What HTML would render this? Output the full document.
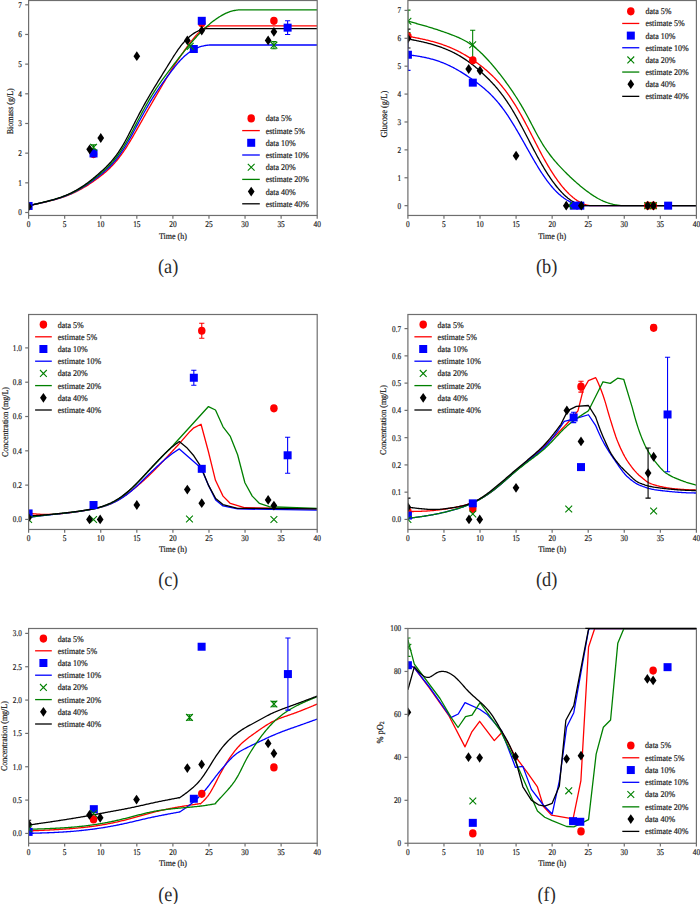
<!DOCTYPE html>
<html><head><meta charset="utf-8"><style>
html,body{margin:0;padding:0;background:#fff;width:700px;height:904px;overflow:hidden}
svg{display:block}
</style></head><body>
<svg width="700" height="904" viewBox="0 0 700 904">
<rect width="700" height="904" fill="#fff"/>
<defs>
<clipPath id="ca"><rect x="28.6" y="0.5" width="288.60" height="214.96"/></clipPath>
<clipPath id="cb"><rect x="407.9" y="0.5" width="288.50" height="214.96"/></clipPath>
<clipPath id="cc"><rect x="28.6" y="314.5" width="288.60" height="214.96"/></clipPath>
<clipPath id="cd"><rect x="407.9" y="314.5" width="288.50" height="214.96"/></clipPath>
<clipPath id="ce"><rect x="28.6" y="628.5" width="288.60" height="214.76"/></clipPath>
<clipPath id="cf"><rect x="407.9" y="628.5" width="288.50" height="214.76"/></clipPath>
</defs>
<path d="M28.60,205.70 L29.40,205.53 L30.20,205.36 L31.00,205.19 L31.80,205.02 L32.60,204.84 L33.40,204.67 L34.20,204.50 L35.00,204.33 L35.80,204.15 L36.60,203.98 L37.40,203.80 L38.20,203.62 L39.00,203.44 L39.80,203.27 L40.60,203.09 L41.40,202.90 L42.20,202.72 L43.00,202.54 L43.80,202.35 L44.60,202.17 L45.40,201.98 L46.20,201.79 L47.00,201.60 L47.80,201.40 L48.60,201.21 L49.40,201.01 L50.20,200.81 L51.00,200.61 L51.80,200.40 L52.60,200.20 L53.40,199.98 L54.20,199.77 L55.00,199.55 L55.80,199.33 L56.60,199.10 L57.40,198.87 L58.20,198.64 L59.00,198.40 L59.80,198.15 L60.60,197.90 L61.40,197.64 L62.20,197.38 L63.00,197.11 L63.80,196.84 L64.60,196.56 L65.40,196.27 L66.20,195.97 L67.00,195.67 L67.80,195.36 L68.60,195.05 L69.40,194.72 L70.20,194.39 L71.00,194.05 L71.80,193.70 L72.60,193.34 L73.40,192.98 L74.20,192.61 L75.00,192.23 L75.80,191.84 L76.60,191.44 L77.40,191.04 L78.20,190.63 L79.00,190.21 L79.80,189.78 L80.60,189.35 L81.40,188.91 L82.20,188.46 L83.00,188.00 L83.80,187.54 L84.60,187.06 L85.40,186.58 L86.20,186.10 L87.00,185.60 L87.80,185.10 L88.60,184.59 L89.40,184.07 L90.20,183.54 L91.00,183.01 L91.80,182.47 L92.60,181.92 L93.40,181.37 L94.20,180.81 L95.00,180.24 L95.80,179.67 L96.60,179.09 L97.40,178.50 L98.20,177.91 L99.00,177.31 L99.80,176.70 L100.60,176.08 L101.40,175.45 L102.20,174.81 L103.00,174.16 L103.80,173.50 L104.60,172.83 L105.40,172.14 L106.20,171.44 L107.00,170.72 L107.80,169.99 L108.60,169.24 L109.40,168.47 L110.20,167.69 L111.00,166.89 L111.80,166.07 L112.60,165.23 L113.40,164.37 L114.20,163.49 L115.00,162.59 L115.80,161.67 L116.60,160.72 L117.40,159.75 L118.20,158.76 L119.00,157.75 L119.80,156.71 L120.60,155.65 L121.40,154.56 L122.20,153.46 L123.00,152.32 L123.80,151.17 L124.60,149.99 L125.40,148.78 L126.20,147.56 L127.00,146.31 L127.80,145.03 L128.60,143.74 L129.40,142.43 L130.20,141.11 L131.00,139.77 L131.80,138.41 L132.60,137.05 L133.40,135.67 L134.20,134.29 L135.00,132.89 L135.80,131.49 L136.60,130.09 L137.40,128.68 L138.20,127.26 L139.00,125.84 L139.80,124.42 L140.60,123.00 L141.40,121.57 L142.20,120.15 L143.00,118.72 L143.80,117.29 L144.60,115.87 L145.40,114.45 L146.20,113.03 L147.00,111.61 L147.80,110.19 L148.60,108.78 L149.40,107.38 L150.20,105.98 L151.00,104.59 L151.80,103.20 L152.60,101.82 L153.40,100.44 L154.20,99.07 L155.00,97.70 L155.80,96.33 L156.60,94.96 L157.40,93.60 L158.20,92.23 L159.00,90.87 L159.80,89.51 L160.60,88.14 L161.40,86.77 L162.20,85.41 L163.00,84.04 L163.80,82.68 L164.60,81.32 L165.40,79.97 L166.20,78.62 L167.00,77.28 L167.80,75.95 L168.60,74.62 L169.40,73.30 L170.20,72.00 L171.00,70.70 L171.80,69.42 L172.60,68.15 L173.40,66.88 L174.20,65.63 L175.00,64.39 L175.80,63.16 L176.60,61.94 L177.40,60.73 L178.20,59.53 L179.00,58.33 L179.80,57.15 L180.60,55.98 L181.40,54.81 L182.20,53.66 L183.00,52.51 L183.80,51.37 L184.60,50.25 L185.40,49.13 L186.20,48.02 L187.00,46.93 L187.80,45.84 L188.60,44.76 L189.40,43.70 L190.20,42.64 L191.00,41.60 L191.80,40.57 L192.60,39.56 L193.40,38.57 L194.20,37.60 L195.00,36.66 L195.80,35.74 L196.60,34.86 L197.40,34.00 L198.20,33.18 L199.00,32.40 L199.80,31.66 L200.60,30.96 L201.40,30.30 L202.20,29.68 L203.00,29.11 L203.80,28.59 L204.60,28.11 L205.40,27.67 L206.20,27.28 L207.00,26.94 L207.80,26.64 L208.60,26.37 L209.40,26.14 L210.20,25.95 L211.00,25.87 L211.80,25.87 L212.60,25.87 L213.40,25.87 L214.20,25.87 L215.00,25.87 L215.80,25.87 L216.60,25.87 L217.40,25.87 L218.20,25.87 L219.00,25.87 L219.80,25.87 L317.20,25.87" fill="none" stroke="#ff0000" stroke-width="1.3" stroke-linejoin="round" clip-path="url(#ca)"/>
<path d="M28.60,205.70 L29.43,205.52 L30.26,205.34 L31.09,205.15 L31.92,204.97 L32.75,204.78 L33.58,204.60 L34.41,204.41 L35.24,204.22 L36.07,204.04 L36.90,203.85 L37.73,203.66 L38.56,203.47 L39.39,203.28 L40.22,203.09 L41.05,202.90 L41.88,202.70 L42.71,202.51 L43.54,202.31 L44.37,202.11 L45.20,201.91 L46.03,201.71 L46.86,201.51 L47.69,201.30 L48.52,201.10 L49.35,200.89 L50.18,200.67 L51.01,200.46 L51.84,200.24 L52.68,200.02 L53.51,199.80 L54.34,199.57 L55.17,199.34 L56.00,199.10 L56.83,198.86 L57.66,198.61 L58.49,198.36 L59.32,198.10 L60.15,197.83 L60.98,197.56 L61.81,197.28 L62.64,197.00 L63.47,196.70 L64.30,196.40 L65.13,196.10 L65.96,195.78 L66.79,195.45 L67.62,195.12 L68.45,194.77 L69.28,194.42 L70.11,194.06 L70.94,193.68 L71.77,193.30 L72.60,192.91 L73.43,192.51 L74.26,192.10 L75.09,191.68 L75.92,191.25 L76.75,190.82 L77.58,190.37 L78.41,189.92 L79.24,189.45 L80.07,188.98 L80.90,188.50 L81.73,188.01 L82.56,187.51 L83.39,187.00 L84.22,186.48 L85.05,185.96 L85.88,185.43 L86.71,184.88 L87.54,184.33 L88.37,183.77 L89.20,183.21 L90.03,182.63 L90.86,182.05 L91.69,181.46 L92.52,180.87 L93.35,180.26 L94.18,179.66 L95.01,179.04 L95.84,178.43 L96.67,177.80 L97.50,177.18 L98.33,176.54 L99.17,175.90 L100.00,175.25 L100.83,174.59 L101.66,173.92 L102.49,173.23 L103.32,172.54 L104.15,171.83 L104.98,171.11 L105.81,170.37 L106.64,169.62 L107.47,168.85 L108.30,168.06 L109.13,167.25 L109.96,166.42 L110.79,165.57 L111.62,164.70 L112.45,163.80 L113.28,162.88 L114.11,161.94 L114.94,160.97 L115.77,159.97 L116.60,158.95 L117.43,157.90 L118.26,156.82 L119.09,155.71 L119.92,154.57 L120.75,153.40 L121.58,152.21 L122.41,150.98 L123.24,149.72 L124.07,148.44 L124.90,147.12 L125.73,145.77 L126.56,144.39 L127.39,142.98 L128.22,141.54 L129.05,140.09 L129.88,138.62 L130.71,137.13 L131.54,135.62 L132.37,134.10 L133.20,132.58 L134.03,131.04 L134.86,129.50 L135.69,127.96 L136.52,126.42 L137.35,124.88 L138.18,123.34 L139.01,121.81 L139.84,120.28 L140.67,118.75 L141.50,117.23 L142.33,115.71 L143.16,114.20 L143.99,112.71 L144.82,111.22 L145.66,109.75 L146.49,108.29 L147.32,106.84 L148.15,105.41 L148.98,103.99 L149.81,102.59 L150.64,101.21 L151.47,99.85 L152.30,98.51 L153.13,97.18 L153.96,95.87 L154.79,94.58 L155.62,93.30 L156.45,92.04 L157.28,90.79 L158.11,89.56 L158.94,88.34 L159.77,87.13 L160.60,85.94 L161.43,84.76 L162.26,83.58 L163.09,82.42 L163.92,81.27 L164.75,80.13 L165.58,78.99 L166.41,77.86 L167.24,76.74 L168.07,75.63 L168.90,74.52 L169.73,73.42 L170.56,72.32 L171.39,71.23 L172.22,70.14 L173.05,69.06 L173.88,68.00 L174.71,66.95 L175.54,65.91 L176.37,64.89 L177.20,63.90 L178.03,62.92 L178.86,61.97 L179.69,61.04 L180.52,60.15 L181.35,59.28 L182.18,58.44 L183.01,57.62 L183.84,56.84 L184.67,56.08 L185.50,55.35 L186.33,54.65 L187.16,53.98 L187.99,53.33 L188.82,52.71 L189.65,52.11 L190.48,51.54 L191.31,51.00 L192.15,50.49 L192.98,49.99 L193.81,49.53 L194.64,49.09 L195.47,48.67 L196.30,48.28 L197.13,47.91 L197.96,47.57 L198.79,47.25 L199.62,46.96 L200.45,46.69 L201.28,46.44 L202.11,46.21 L202.94,46.01 L203.77,45.82 L204.60,45.65 L205.43,45.50 L206.26,45.37 L207.09,45.26 L207.92,45.15 L208.75,45.07 L209.58,45.00 L210.41,45.00 L211.24,45.00 L212.07,45.00 L212.90,45.00 L213.73,45.00 L214.56,45.00 L215.39,45.00 L216.22,45.00 L217.05,45.00 L217.88,45.00 L218.71,45.00 L219.54,45.00 L220.37,45.00 L221.20,45.00 L222.03,45.00 L222.86,45.00 L223.69,45.00 L224.52,45.00 L225.35,45.00 L226.18,45.00 L227.01,45.00 L317.20,45.00" fill="none" stroke="#0000ff" stroke-width="1.3" stroke-linejoin="round" clip-path="url(#ca)"/>
<path d="M28.60,205.70 L29.54,205.49 L30.47,205.27 L31.41,205.06 L32.34,204.84 L33.28,204.63 L34.22,204.41 L35.15,204.19 L36.09,203.98 L37.02,203.76 L37.96,203.54 L38.89,203.32 L39.83,203.10 L40.77,202.87 L41.70,202.65 L42.64,202.42 L43.57,202.19 L44.51,201.96 L45.45,201.73 L46.38,201.50 L47.32,201.26 L48.25,201.02 L49.19,200.78 L50.12,200.54 L51.06,200.29 L52.00,200.04 L52.93,199.78 L53.87,199.52 L54.80,199.26 L55.74,198.99 L56.68,198.71 L57.61,198.42 L58.55,198.13 L59.48,197.83 L60.42,197.53 L61.35,197.21 L62.29,196.89 L63.23,196.55 L64.16,196.21 L65.10,195.85 L66.03,195.49 L66.97,195.11 L67.91,194.72 L68.84,194.32 L69.78,193.91 L70.71,193.48 L71.65,193.04 L72.58,192.59 L73.52,192.12 L74.46,191.65 L75.39,191.16 L76.33,190.65 L77.26,190.14 L78.20,189.61 L79.14,189.07 L80.07,188.52 L81.01,187.95 L81.94,187.37 L82.88,186.78 L83.81,186.18 L84.75,185.56 L85.69,184.93 L86.62,184.29 L87.56,183.64 L88.49,182.97 L89.43,182.29 L90.37,181.60 L91.30,180.90 L92.24,180.18 L93.17,179.46 L94.11,178.74 L95.04,178.00 L95.98,177.27 L96.92,176.52 L97.85,175.77 L98.79,175.01 L99.72,174.24 L100.66,173.47 L101.60,172.67 L102.53,171.87 L103.47,171.04 L104.40,170.21 L105.34,169.35 L106.27,168.47 L107.21,167.57 L108.15,166.64 L109.08,165.69 L110.02,164.71 L110.95,163.71 L111.89,162.67 L112.83,161.61 L113.76,160.51 L114.70,159.37 L115.63,158.20 L116.57,156.99 L117.50,155.75 L118.44,154.47 L119.38,153.15 L120.31,151.79 L121.25,150.40 L122.18,148.96 L123.12,147.49 L124.06,145.98 L124.99,144.44 L125.93,142.85 L126.86,141.23 L127.80,139.58 L128.73,137.89 L129.67,136.19 L130.61,134.46 L131.54,132.71 L132.48,130.95 L133.41,129.18 L134.35,127.40 L135.29,125.61 L136.22,123.83 L137.16,122.04 L138.09,120.26 L139.03,118.48 L139.96,116.70 L140.90,114.93 L141.84,113.18 L142.77,111.43 L143.71,109.70 L144.64,107.98 L145.58,106.28 L146.52,104.60 L147.45,102.95 L148.39,101.31 L149.32,99.70 L150.26,98.12 L151.19,96.56 L152.13,95.03 L153.07,93.53 L154.00,92.05 L154.94,90.60 L155.87,89.17 L156.81,87.76 L157.75,86.37 L158.68,85.00 L159.62,83.65 L160.55,82.31 L161.49,80.99 L162.42,79.68 L163.36,78.39 L164.30,77.11 L165.23,75.84 L166.17,74.58 L167.10,73.33 L168.04,72.08 L168.98,70.84 L169.91,69.61 L170.85,68.38 L171.78,67.15 L172.72,65.93 L173.65,64.71 L174.59,63.49 L175.53,62.28 L176.46,61.07 L177.40,59.87 L178.33,58.68 L179.27,57.49 L180.21,56.30 L181.14,55.12 L182.08,53.95 L183.01,52.78 L183.95,51.61 L184.88,50.46 L185.82,49.31 L186.76,48.16 L187.69,47.02 L188.63,45.89 L189.56,44.77 L190.50,43.66 L191.44,42.55 L192.37,41.46 L193.31,40.37 L194.24,39.30 L195.18,38.24 L196.11,37.20 L197.05,36.17 L197.99,35.16 L198.92,34.16 L199.86,33.18 L200.79,32.22 L201.73,31.28 L202.67,30.35 L203.60,29.45 L204.54,28.56 L205.47,27.69 L206.41,26.83 L207.34,26.00 L208.28,25.18 L209.22,24.38 L210.15,23.60 L211.09,22.83 L212.02,22.08 L212.96,21.35 L213.90,20.64 L214.83,19.95 L215.77,19.27 L216.70,18.61 L217.64,17.98 L218.57,17.36 L219.51,16.77 L220.45,16.19 L221.38,15.64 L222.32,15.11 L223.25,14.60 L224.19,14.11 L225.13,13.65 L226.06,13.21 L227.00,12.80 L227.93,12.42 L228.87,12.06 L229.80,11.73 L230.74,11.43 L231.68,11.15 L232.61,10.91 L233.55,10.69 L234.48,10.49 L235.42,10.32 L236.36,10.17 L237.29,10.04 L238.23,9.94 L239.16,9.85 L240.10,9.84 L241.03,9.84 L241.97,9.84 L242.91,9.84 L243.84,9.84 L244.78,9.84 L245.71,9.84 L246.65,9.84 L247.59,9.84 L248.52,9.84 L249.46,9.84 L250.39,9.84 L251.33,9.84 L252.26,9.84 L317.20,9.84" fill="none" stroke="#008000" stroke-width="1.3" stroke-linejoin="round" clip-path="url(#ca)"/>
<path d="M28.60,205.71 L29.40,205.53 L30.20,205.35 L31.00,205.16 L31.80,204.98 L32.60,204.80 L33.40,204.62 L34.20,204.43 L35.00,204.25 L35.80,204.06 L36.60,203.88 L37.40,203.69 L38.20,203.50 L39.00,203.31 L39.80,203.12 L40.60,202.93 L41.40,202.74 L42.20,202.54 L43.00,202.35 L43.80,202.15 L44.60,201.95 L45.40,201.75 L46.20,201.54 L47.00,201.34 L47.80,201.13 L48.60,200.92 L49.40,200.71 L50.20,200.49 L51.00,200.27 L51.80,200.05 L52.60,199.83 L53.40,199.60 L54.20,199.36 L55.00,199.13 L55.80,198.88 L56.60,198.64 L57.40,198.38 L58.20,198.13 L59.00,197.86 L59.80,197.59 L60.60,197.32 L61.40,197.03 L62.20,196.74 L63.00,196.44 L63.80,196.14 L64.60,195.82 L65.40,195.50 L66.20,195.17 L67.00,194.83 L67.80,194.49 L68.60,194.13 L69.40,193.76 L70.20,193.39 L71.00,193.00 L71.80,192.61 L72.60,192.20 L73.40,191.79 L74.20,191.36 L75.00,190.93 L75.80,190.49 L76.60,190.03 L77.40,189.57 L78.20,189.10 L79.00,188.62 L79.80,188.12 L80.60,187.62 L81.40,187.11 L82.20,186.59 L83.00,186.06 L83.80,185.51 L84.60,184.96 L85.40,184.40 L86.20,183.83 L87.00,183.25 L87.80,182.65 L88.60,182.05 L89.40,181.44 L90.20,180.82 L91.00,180.19 L91.80,179.55 L92.60,178.90 L93.40,178.24 L94.20,177.58 L95.00,176.91 L95.80,176.24 L96.60,175.56 L97.40,174.87 L98.20,174.18 L99.00,173.48 L99.80,172.78 L100.60,172.07 L101.40,171.36 L102.20,170.63 L103.00,169.90 L103.80,169.16 L104.60,168.40 L105.40,167.63 L106.20,166.85 L107.00,166.06 L107.80,165.25 L108.60,164.42 L109.40,163.57 L110.20,162.70 L111.00,161.81 L111.80,160.89 L112.60,159.95 L113.40,158.98 L114.20,157.99 L115.00,156.96 L115.80,155.91 L116.60,154.82 L117.40,153.70 L118.20,152.55 L119.00,151.37 L119.80,150.16 L120.60,148.91 L121.40,147.63 L122.20,146.32 L123.00,144.98 L123.80,143.61 L124.60,142.20 L125.40,140.76 L126.20,139.29 L127.00,137.79 L127.80,136.27 L128.60,134.73 L129.40,133.17 L130.20,131.60 L131.00,130.02 L131.80,128.43 L132.60,126.84 L133.40,125.26 L134.20,123.68 L135.00,122.11 L135.80,120.55 L136.60,119.00 L137.40,117.47 L138.20,115.94 L139.00,114.42 L139.80,112.92 L140.60,111.42 L141.40,109.94 L142.20,108.46 L143.00,107.00 L143.80,105.55 L144.60,104.11 L145.40,102.68 L146.20,101.27 L147.00,99.86 L147.80,98.46 L148.60,97.08 L149.40,95.71 L150.20,94.35 L151.00,93.00 L151.80,91.66 L152.60,90.33 L153.40,89.01 L154.20,87.70 L155.00,86.39 L155.80,85.09 L156.60,83.79 L157.40,82.50 L158.20,81.21 L159.00,79.92 L159.80,78.63 L160.60,77.34 L161.40,76.04 L162.20,74.75 L163.00,73.45 L163.80,72.16 L164.60,70.87 L165.40,69.57 L166.20,68.28 L167.00,66.98 L167.80,65.69 L168.60,64.40 L169.40,63.11 L170.20,61.82 L171.00,60.53 L171.80,59.25 L172.60,57.98 L173.40,56.72 L174.20,55.47 L175.00,54.23 L175.80,53.01 L176.60,51.81 L177.40,50.64 L178.20,49.49 L179.00,48.37 L179.80,47.27 L180.60,46.22 L181.40,45.19 L182.20,44.20 L183.00,43.24 L183.80,42.31 L184.60,41.42 L185.40,40.55 L186.20,39.72 L187.00,38.93 L187.80,38.16 L188.60,37.42 L189.40,36.72 L190.20,36.05 L191.00,35.41 L191.80,34.80 L192.60,34.21 L193.40,33.66 L194.20,33.14 L195.00,32.65 L195.80,32.19 L196.60,31.76 L197.40,31.35 L198.20,30.98 L199.00,30.63 L199.80,30.31 L200.60,30.02 L201.40,29.75 L202.20,29.52 L203.00,29.30 L203.80,29.11 L204.60,28.94 L205.40,28.80 L206.20,28.67 L207.00,28.56 L207.80,28.54 L208.60,28.54 L209.40,28.54 L210.20,28.54 L211.00,28.54 L211.80,28.54 L212.60,28.54 L213.40,28.54 L214.20,28.54 L215.00,28.54 L215.80,28.54 L216.60,28.54 L217.40,28.54 L218.20,28.54 L219.00,28.54 L219.80,28.54 L317.20,28.54" fill="none" stroke="#000000" stroke-width="1.3" stroke-linejoin="round" clip-path="url(#ca)"/>
<path d="M93.53,144.85V149.60M90.94,144.85H96.13M90.94,149.60H96.13" stroke="#008000" stroke-width="1.1" fill="none" clip-path="url(#ca)"/>
<path d="M273.91,41.59V48.71M271.31,41.59H276.51M271.31,48.71H276.51" stroke="#008000" stroke-width="1.1" fill="none" clip-path="url(#ca)"/>
<path d="M287.62,20.82V34.47M285.02,20.82H290.22M285.02,34.47H290.22" stroke="#0000ff" stroke-width="1.1" fill="none" clip-path="url(#ca)"/>
<ellipse cx="93.53" cy="154.05" rx="3.75" ry="4.1" fill="#ff0000" clip-path="url(#ca)"/>
<ellipse cx="201.76" cy="23.20" rx="3.75" ry="4.1" fill="#ff0000" clip-path="url(#ca)"/>
<ellipse cx="273.91" cy="20.82" rx="3.75" ry="4.1" fill="#ff0000" clip-path="url(#ca)"/>
<rect x="89.53" y="149.45" width="8.0" height="8.0" fill="#0000ff" clip-path="url(#ca)"/>
<rect x="24.60" y="201.97" width="8.0" height="8.0" fill="#0000ff" clip-path="url(#ca)"/>
<rect x="197.76" y="16.82" width="8.0" height="8.0" fill="#0000ff" clip-path="url(#ca)"/>
<rect x="189.82" y="45.01" width="8.0" height="8.0" fill="#0000ff" clip-path="url(#ca)"/>
<rect x="283.62" y="23.65" width="8.0" height="8.0" fill="#0000ff" clip-path="url(#ca)"/>
<path d="M90.13,143.82L96.94,150.62M90.13,150.62L96.94,143.82" stroke="#008000" stroke-width="1.1" fill="none" clip-path="url(#ca)"/>
<path d="M186.82,42.94L193.62,49.74M186.82,49.74L193.62,42.94" stroke="#008000" stroke-width="1.1" fill="none" clip-path="url(#ca)"/>
<path d="M270.51,41.75L277.31,48.55M270.51,48.55L277.31,41.75" stroke="#008000" stroke-width="1.1" fill="none" clip-path="url(#ca)"/>
<path d="M89.64,144.40L92.99,149.30L89.64,154.20L86.29,149.30Z" fill="#000000" clip-path="url(#ca)"/>
<path d="M100.75,133.12L104.10,138.02L100.75,142.92L97.40,138.02Z" fill="#000000" clip-path="url(#ca)"/>
<path d="M136.82,51.23L140.17,56.13L136.82,61.03L133.47,56.13Z" fill="#000000" clip-path="url(#ca)"/>
<path d="M28.60,201.67L31.95,206.57L28.60,211.47L25.25,206.57Z" fill="#000000" clip-path="url(#ca)"/>
<path d="M187.33,35.51L190.68,40.41L187.33,45.31L183.98,40.41Z" fill="#000000" clip-path="url(#ca)"/>
<path d="M201.76,25.71L205.11,30.61L201.76,35.51L198.41,30.61Z" fill="#000000" clip-path="url(#ca)"/>
<path d="M273.91,26.90L277.26,31.80L273.91,36.70L270.56,31.80Z" fill="#000000" clip-path="url(#ca)"/>
<path d="M268.14,35.51L271.49,40.41L268.14,45.31L264.79,40.41Z" fill="#000000" clip-path="url(#ca)"/>
<ellipse cx="251.20" cy="118.40" rx="3.75" ry="4.1" fill="#ff0000"/>
<text text-rendering="geometricPrecision" transform="translate(265.70,121.30) scale(1.0,1.1)" text-anchor="start" font-size="8" font-family="Liberation Serif, serif" fill="#1a1a1a" stroke="#1a1a1a" stroke-width="0.18">data 5%</text>
<line x1="242.2" y1="130.60" x2="259.8" y2="130.60" stroke="#ff0000" stroke-width="1.3"/>
<text text-rendering="geometricPrecision" transform="translate(265.70,133.50) scale(1.0,1.1)" text-anchor="start" font-size="8" font-family="Liberation Serif, serif" fill="#1a1a1a" stroke="#1a1a1a" stroke-width="0.18">estimate 5%</text>
<rect x="247.20" y="138.80" width="8.0" height="8.0" fill="#0000ff"/>
<text text-rendering="geometricPrecision" transform="translate(265.70,145.70) scale(1.0,1.1)" text-anchor="start" font-size="8" font-family="Liberation Serif, serif" fill="#1a1a1a" stroke="#1a1a1a" stroke-width="0.18">data 10%</text>
<line x1="242.2" y1="155.00" x2="259.8" y2="155.00" stroke="#0000ff" stroke-width="1.3"/>
<text text-rendering="geometricPrecision" transform="translate(265.70,157.90) scale(1.0,1.1)" text-anchor="start" font-size="8" font-family="Liberation Serif, serif" fill="#1a1a1a" stroke="#1a1a1a" stroke-width="0.18">estimate 10%</text>
<path d="M247.80,163.80L254.60,170.60M247.80,170.60L254.60,163.80" stroke="#008000" stroke-width="1.1" fill="none"/>
<text text-rendering="geometricPrecision" transform="translate(265.70,170.10) scale(1.0,1.1)" text-anchor="start" font-size="8" font-family="Liberation Serif, serif" fill="#1a1a1a" stroke="#1a1a1a" stroke-width="0.18">data 20%</text>
<line x1="242.2" y1="179.40" x2="259.8" y2="179.40" stroke="#008000" stroke-width="1.3"/>
<text text-rendering="geometricPrecision" transform="translate(265.70,182.30) scale(1.0,1.1)" text-anchor="start" font-size="8" font-family="Liberation Serif, serif" fill="#1a1a1a" stroke="#1a1a1a" stroke-width="0.18">estimate 20%</text>
<path d="M251.20,186.70L254.55,191.60L251.20,196.50L247.85,191.60Z" fill="#000000"/>
<text text-rendering="geometricPrecision" transform="translate(265.70,194.50) scale(1.0,1.1)" text-anchor="start" font-size="8" font-family="Liberation Serif, serif" fill="#1a1a1a" stroke="#1a1a1a" stroke-width="0.18">data 40%</text>
<line x1="242.2" y1="203.80" x2="259.8" y2="203.80" stroke="#000000" stroke-width="1.3"/>
<text text-rendering="geometricPrecision" transform="translate(265.70,206.70) scale(1.0,1.1)" text-anchor="start" font-size="8" font-family="Liberation Serif, serif" fill="#1a1a1a" stroke="#1a1a1a" stroke-width="0.18">estimate 40%</text>
<rect x="28.6" y="0.5" width="288.60" height="214.96" fill="none" stroke="#6e6e6e" stroke-width="1.2"/>
<line x1="28.60" y1="215.46" x2="28.60" y2="218.76" stroke="#6e6e6e" stroke-width="1.2"/>
<text text-rendering="geometricPrecision" transform="translate(28.60,227.06) scale(0.92,1.1)" text-anchor="middle" font-size="8" font-family="Liberation Serif, serif" fill="#1a1a1a" stroke="#1a1a1a" stroke-width="0.18">0</text>
<line x1="64.67" y1="215.46" x2="64.67" y2="218.76" stroke="#6e6e6e" stroke-width="1.2"/>
<text text-rendering="geometricPrecision" transform="translate(64.67,227.06) scale(0.92,1.1)" text-anchor="middle" font-size="8" font-family="Liberation Serif, serif" fill="#1a1a1a" stroke="#1a1a1a" stroke-width="0.18">5</text>
<line x1="100.75" y1="215.46" x2="100.75" y2="218.76" stroke="#6e6e6e" stroke-width="1.2"/>
<text text-rendering="geometricPrecision" transform="translate(100.75,227.06) scale(0.92,1.1)" text-anchor="middle" font-size="8" font-family="Liberation Serif, serif" fill="#1a1a1a" stroke="#1a1a1a" stroke-width="0.18">10</text>
<line x1="136.82" y1="215.46" x2="136.82" y2="218.76" stroke="#6e6e6e" stroke-width="1.2"/>
<text text-rendering="geometricPrecision" transform="translate(136.82,227.06) scale(0.92,1.1)" text-anchor="middle" font-size="8" font-family="Liberation Serif, serif" fill="#1a1a1a" stroke="#1a1a1a" stroke-width="0.18">15</text>
<line x1="172.90" y1="215.46" x2="172.90" y2="218.76" stroke="#6e6e6e" stroke-width="1.2"/>
<text text-rendering="geometricPrecision" transform="translate(172.90,227.06) scale(0.92,1.1)" text-anchor="middle" font-size="8" font-family="Liberation Serif, serif" fill="#1a1a1a" stroke="#1a1a1a" stroke-width="0.18">20</text>
<line x1="208.97" y1="215.46" x2="208.97" y2="218.76" stroke="#6e6e6e" stroke-width="1.2"/>
<text text-rendering="geometricPrecision" transform="translate(208.97,227.06) scale(0.92,1.1)" text-anchor="middle" font-size="8" font-family="Liberation Serif, serif" fill="#1a1a1a" stroke="#1a1a1a" stroke-width="0.18">25</text>
<line x1="245.05" y1="215.46" x2="245.05" y2="218.76" stroke="#6e6e6e" stroke-width="1.2"/>
<text text-rendering="geometricPrecision" transform="translate(245.05,227.06) scale(0.92,1.1)" text-anchor="middle" font-size="8" font-family="Liberation Serif, serif" fill="#1a1a1a" stroke="#1a1a1a" stroke-width="0.18">30</text>
<line x1="281.12" y1="215.46" x2="281.12" y2="218.76" stroke="#6e6e6e" stroke-width="1.2"/>
<text text-rendering="geometricPrecision" transform="translate(281.12,227.06) scale(0.92,1.1)" text-anchor="middle" font-size="8" font-family="Liberation Serif, serif" fill="#1a1a1a" stroke="#1a1a1a" stroke-width="0.18">35</text>
<line x1="317.20" y1="215.46" x2="317.20" y2="218.76" stroke="#6e6e6e" stroke-width="1.2"/>
<text text-rendering="geometricPrecision" transform="translate(317.20,227.06) scale(0.92,1.1)" text-anchor="middle" font-size="8" font-family="Liberation Serif, serif" fill="#1a1a1a" stroke="#1a1a1a" stroke-width="0.18">40</text>
<line x1="25.20" y1="212.50" x2="28.6" y2="212.50" stroke="#6e6e6e" stroke-width="1.2"/>
<text text-rendering="geometricPrecision" transform="translate(21.80,215.40) scale(0.9,1.1)" text-anchor="end" font-size="8" font-family="Liberation Serif, serif" fill="#1a1a1a" stroke="#1a1a1a" stroke-width="0.18">0</text>
<line x1="25.20" y1="182.83" x2="28.6" y2="182.83" stroke="#6e6e6e" stroke-width="1.2"/>
<text text-rendering="geometricPrecision" transform="translate(21.80,185.73) scale(0.9,1.1)" text-anchor="end" font-size="8" font-family="Liberation Serif, serif" fill="#1a1a1a" stroke="#1a1a1a" stroke-width="0.18">1</text>
<line x1="25.20" y1="153.16" x2="28.6" y2="153.16" stroke="#6e6e6e" stroke-width="1.2"/>
<text text-rendering="geometricPrecision" transform="translate(21.80,156.06) scale(0.9,1.1)" text-anchor="end" font-size="8" font-family="Liberation Serif, serif" fill="#1a1a1a" stroke="#1a1a1a" stroke-width="0.18">2</text>
<line x1="25.20" y1="123.49" x2="28.6" y2="123.49" stroke="#6e6e6e" stroke-width="1.2"/>
<text text-rendering="geometricPrecision" transform="translate(21.80,126.39) scale(0.9,1.1)" text-anchor="end" font-size="8" font-family="Liberation Serif, serif" fill="#1a1a1a" stroke="#1a1a1a" stroke-width="0.18">3</text>
<line x1="25.20" y1="93.81" x2="28.6" y2="93.81" stroke="#6e6e6e" stroke-width="1.2"/>
<text text-rendering="geometricPrecision" transform="translate(21.80,96.71) scale(0.9,1.1)" text-anchor="end" font-size="8" font-family="Liberation Serif, serif" fill="#1a1a1a" stroke="#1a1a1a" stroke-width="0.18">4</text>
<line x1="25.20" y1="64.14" x2="28.6" y2="64.14" stroke="#6e6e6e" stroke-width="1.2"/>
<text text-rendering="geometricPrecision" transform="translate(21.80,67.04) scale(0.9,1.1)" text-anchor="end" font-size="8" font-family="Liberation Serif, serif" fill="#1a1a1a" stroke="#1a1a1a" stroke-width="0.18">5</text>
<line x1="25.20" y1="34.47" x2="28.6" y2="34.47" stroke="#6e6e6e" stroke-width="1.2"/>
<text text-rendering="geometricPrecision" transform="translate(21.80,37.37) scale(0.9,1.1)" text-anchor="end" font-size="8" font-family="Liberation Serif, serif" fill="#1a1a1a" stroke="#1a1a1a" stroke-width="0.18">6</text>
<line x1="25.20" y1="4.80" x2="28.6" y2="4.80" stroke="#6e6e6e" stroke-width="1.2"/>
<text text-rendering="geometricPrecision" transform="translate(21.80,7.70) scale(0.9,1.1)" text-anchor="end" font-size="8" font-family="Liberation Serif, serif" fill="#1a1a1a" stroke="#1a1a1a" stroke-width="0.18">7</text>
<text text-rendering="geometricPrecision" transform="translate(172.90,238.70) scale(1.0,1.1)" text-anchor="middle" font-size="8" font-family="Liberation Serif, serif" fill="#1a1a1a" stroke="#1a1a1a" stroke-width="0.18">Time (h)</text>
<text text-rendering="geometricPrecision" transform="translate(12.90,111.30) rotate(-90) scale(1.0,1.1)" text-anchor="middle" font-size="8" font-family="Liberation Serif, serif" fill="#1a1a1a" stroke="#1a1a1a" stroke-width="0.18">Biomass (g/L)</text>
<text text-rendering="geometricPrecision" transform="translate(168.15,272.80) scale(1.0,1.1)" text-anchor="middle" font-size="18.3" font-family="Liberation Serif, serif" fill="#2a2a2a">(a)</text>
<path d="M407.90,36.19 L408.71,36.35 L409.53,36.50 L410.34,36.66 L411.16,36.82 L411.97,36.97 L412.79,37.13 L413.60,37.29 L414.42,37.45 L415.23,37.61 L416.05,37.77 L416.86,37.93 L417.68,38.10 L418.49,38.26 L419.31,38.43 L420.12,38.60 L420.94,38.77 L421.75,38.95 L422.57,39.12 L423.38,39.30 L424.20,39.48 L425.01,39.67 L425.83,39.86 L426.64,40.05 L427.46,40.24 L428.27,40.44 L429.08,40.64 L429.90,40.85 L430.71,41.06 L431.53,41.27 L432.34,41.49 L433.16,41.71 L433.97,41.93 L434.79,42.16 L435.60,42.40 L436.42,42.64 L437.23,42.88 L438.05,43.13 L438.86,43.38 L439.68,43.64 L440.49,43.91 L441.31,44.18 L442.12,44.45 L442.94,44.74 L443.75,45.02 L444.57,45.32 L445.38,45.62 L446.20,45.92 L447.01,46.24 L447.83,46.56 L448.64,46.88 L449.45,47.22 L450.27,47.56 L451.08,47.90 L451.90,48.26 L452.71,48.62 L453.53,48.99 L454.34,49.36 L455.16,49.75 L455.97,50.14 L456.79,50.53 L457.60,50.94 L458.42,51.35 L459.23,51.77 L460.05,52.20 L460.86,52.64 L461.68,53.08 L462.49,53.53 L463.31,53.99 L464.12,54.45 L464.94,54.92 L465.75,55.40 L466.57,55.89 L467.38,56.39 L468.20,56.89 L469.01,57.40 L469.82,57.92 L470.64,58.45 L471.45,58.99 L472.27,59.53 L473.08,60.08 L473.90,60.64 L474.71,61.21 L475.53,61.78 L476.34,62.37 L477.16,62.96 L477.97,63.56 L478.79,64.17 L479.60,64.79 L480.42,65.42 L481.23,66.05 L482.05,66.70 L482.86,67.35 L483.68,68.02 L484.49,68.69 L485.31,69.38 L486.12,70.07 L486.94,70.77 L487.75,71.49 L488.57,72.22 L489.38,72.95 L490.19,73.70 L491.01,74.47 L491.82,75.25 L492.64,76.04 L493.45,76.84 L494.27,77.66 L495.08,78.50 L495.90,79.35 L496.71,80.22 L497.53,81.10 L498.34,82.00 L499.16,82.92 L499.97,83.86 L500.79,84.82 L501.60,85.79 L502.42,86.79 L503.23,87.80 L504.05,88.84 L504.86,89.89 L505.68,90.97 L506.49,92.06 L507.31,93.18 L508.12,94.32 L508.94,95.47 L509.75,96.65 L510.56,97.84 L511.38,99.06 L512.19,100.30 L513.01,101.55 L513.82,102.83 L514.64,104.12 L515.45,105.43 L516.27,106.77 L517.08,108.12 L517.90,109.49 L518.71,110.89 L519.53,112.30 L520.34,113.73 L521.16,115.18 L521.97,116.64 L522.79,118.13 L523.60,119.62 L524.42,121.14 L525.23,122.66 L526.05,124.20 L526.86,125.75 L527.68,127.31 L528.49,128.88 L529.31,130.45 L530.12,132.03 L530.93,133.62 L531.75,135.22 L532.56,136.81 L533.38,138.41 L534.19,140.01 L535.01,141.61 L535.82,143.21 L536.64,144.81 L537.45,146.40 L538.27,147.99 L539.08,149.56 L539.90,151.12 L540.71,152.67 L541.53,154.20 L542.34,155.72 L543.16,157.21 L543.97,158.69 L544.79,160.15 L545.60,161.59 L546.42,163.01 L547.23,164.41 L548.05,165.80 L548.86,167.16 L549.68,168.50 L550.49,169.82 L551.31,171.12 L552.12,172.40 L552.93,173.66 L553.75,174.90 L554.56,176.12 L555.38,177.32 L556.19,178.49 L557.01,179.64 L557.82,180.77 L558.64,181.88 L559.45,182.96 L560.27,184.02 L561.08,185.06 L561.90,186.07 L562.71,187.06 L563.53,188.03 L564.34,188.97 L565.16,189.89 L565.97,190.78 L566.79,191.65 L567.60,192.49 L568.42,193.31 L569.23,194.11 L570.05,194.88 L570.86,195.62 L571.68,196.34 L572.49,197.04 L573.30,197.71 L574.12,198.35 L574.93,198.97 L575.75,199.56 L576.56,200.13 L577.38,200.67 L578.19,201.18 L579.01,201.67 L579.82,202.14 L580.64,202.57 L581.45,202.98 L582.27,203.37 L583.08,203.72 L583.90,204.04 L584.71,204.34 L585.53,204.61 L586.34,204.86 L587.16,205.08 L587.97,205.28 L588.79,205.46 L589.60,205.62 L590.42,205.66 L591.23,205.66 L592.05,205.66 L592.86,205.66 L593.67,205.66 L594.49,205.66 L595.30,205.66 L596.12,205.66 L596.93,205.66 L597.75,205.66 L598.56,205.66 L599.38,205.66 L600.19,205.66 L601.01,205.66 L601.82,205.66 L602.64,205.66 L696.40,205.66" fill="none" stroke="#ff0000" stroke-width="1.3" stroke-linejoin="round" clip-path="url(#cb)"/>
<path d="M407.90,54.75 L408.68,54.86 L409.47,54.96 L410.25,55.07 L411.04,55.18 L411.82,55.28 L412.61,55.39 L413.39,55.51 L414.18,55.62 L414.96,55.73 L415.75,55.85 L416.53,55.97 L417.32,56.09 L418.10,56.22 L418.88,56.34 L419.67,56.48 L420.45,56.61 L421.24,56.75 L422.02,56.89 L422.81,57.04 L423.59,57.19 L424.38,57.35 L425.16,57.51 L425.95,57.68 L426.73,57.85 L427.52,58.03 L428.30,58.21 L429.08,58.40 L429.87,58.60 L430.65,58.80 L431.44,59.01 L432.22,59.23 L433.01,59.45 L433.79,59.68 L434.58,59.91 L435.36,60.15 L436.15,60.40 L436.93,60.66 L437.72,60.92 L438.50,61.19 L439.28,61.46 L440.07,61.75 L440.85,62.04 L441.64,62.33 L442.42,62.64 L443.21,62.95 L443.99,63.27 L444.78,63.59 L445.56,63.92 L446.35,64.27 L447.13,64.61 L447.92,64.97 L448.70,65.33 L449.49,65.70 L450.27,66.08 L451.05,66.47 L451.84,66.86 L452.62,67.27 L453.41,67.68 L454.19,68.09 L454.98,68.52 L455.76,68.95 L456.55,69.39 L457.33,69.83 L458.12,70.28 L458.90,70.74 L459.69,71.21 L460.47,71.68 L461.25,72.16 L462.04,72.64 L462.82,73.13 L463.61,73.62 L464.39,74.12 L465.18,74.63 L465.96,75.14 L466.75,75.66 L467.53,76.18 L468.32,76.71 L469.10,77.24 L469.89,77.78 L470.67,78.32 L471.45,78.86 L472.24,79.41 L473.02,79.96 L473.81,80.52 L474.59,81.08 L475.38,81.65 L476.16,82.22 L476.95,82.80 L477.73,83.39 L478.52,83.98 L479.30,84.58 L480.09,85.19 L480.87,85.80 L481.65,86.43 L482.44,87.07 L483.22,87.71 L484.01,88.37 L484.79,89.04 L485.58,89.72 L486.36,90.41 L487.15,91.12 L487.93,91.84 L488.72,92.57 L489.50,93.32 L490.29,94.08 L491.07,94.86 L491.85,95.65 L492.64,96.46 L493.42,97.28 L494.21,98.12 L494.99,98.97 L495.78,99.85 L496.56,100.74 L497.35,101.65 L498.13,102.58 L498.92,103.52 L499.70,104.49 L500.49,105.47 L501.27,106.48 L502.05,107.50 L502.84,108.55 L503.62,109.61 L504.41,110.70 L505.19,111.81 L505.98,112.93 L506.76,114.08 L507.55,115.24 L508.33,116.42 L509.12,117.62 L509.90,118.83 L510.69,120.06 L511.47,121.30 L512.25,122.56 L513.04,123.83 L513.82,125.12 L514.61,126.42 L515.39,127.73 L516.18,129.05 L516.96,130.38 L517.75,131.73 L518.53,133.08 L519.32,134.44 L520.10,135.82 L520.89,137.20 L521.67,138.58 L522.46,139.97 L523.24,141.37 L524.02,142.77 L524.81,144.17 L525.59,145.57 L526.38,146.97 L527.16,148.37 L527.95,149.77 L528.73,151.16 L529.52,152.55 L530.30,153.94 L531.09,155.32 L531.87,156.69 L532.66,158.06 L533.44,159.42 L534.22,160.77 L535.01,162.10 L535.79,163.43 L536.58,164.74 L537.36,166.04 L538.15,167.33 L538.93,168.60 L539.72,169.85 L540.50,171.09 L541.29,172.31 L542.07,173.51 L542.86,174.69 L543.64,175.85 L544.42,176.99 L545.21,178.11 L545.99,179.20 L546.78,180.28 L547.56,181.34 L548.35,182.37 L549.13,183.39 L549.92,184.38 L550.70,185.34 L551.49,186.29 L552.27,187.21 L553.06,188.11 L553.84,188.98 L554.62,189.83 L555.41,190.66 L556.19,191.46 L556.98,192.24 L557.76,192.99 L558.55,193.72 L559.33,194.42 L560.12,195.10 L560.90,195.76 L561.69,196.39 L562.47,197.01 L563.26,197.59 L564.04,198.16 L564.82,198.70 L565.61,199.23 L566.39,199.73 L567.18,200.21 L567.96,200.66 L568.75,201.10 L569.53,201.52 L570.32,201.91 L571.10,202.29 L571.89,202.64 L572.67,202.98 L573.46,203.29 L574.24,203.59 L575.02,203.86 L575.81,204.12 L576.59,204.36 L577.38,204.58 L578.16,204.78 L578.95,204.97 L579.73,205.13 L580.52,205.29 L581.30,205.42 L582.09,205.55 L582.87,205.65 L583.66,205.66 L584.44,205.66 L585.22,205.66 L586.01,205.66 L586.79,205.66 L587.58,205.66 L588.36,205.66 L589.15,205.66 L589.93,205.66 L590.72,205.66 L591.50,205.66 L592.29,205.66 L593.07,205.66 L593.86,205.66 L594.64,205.66 L595.42,205.66 L696.40,205.66" fill="none" stroke="#0000ff" stroke-width="1.3" stroke-linejoin="round" clip-path="url(#cb)"/>
<path d="M407.90,21.19 L408.85,21.45 L409.80,21.70 L410.75,21.96 L411.70,22.21 L412.65,22.47 L413.60,22.73 L414.55,22.99 L415.50,23.24 L416.46,23.50 L417.41,23.77 L418.36,24.03 L419.31,24.29 L420.26,24.56 L421.21,24.82 L422.16,25.09 L423.11,25.36 L424.06,25.64 L425.01,25.91 L425.96,26.19 L426.91,26.47 L427.86,26.75 L428.81,27.04 L429.76,27.33 L430.71,27.62 L431.67,27.91 L432.62,28.21 L433.57,28.51 L434.52,28.81 L435.47,29.12 L436.42,29.42 L437.37,29.74 L438.32,30.05 L439.27,30.37 L440.22,30.69 L441.17,31.01 L442.12,31.34 L443.07,31.67 L444.02,32.00 L444.97,32.33 L445.92,32.67 L446.87,33.01 L447.83,33.36 L448.78,33.71 L449.73,34.06 L450.68,34.41 L451.63,34.77 L452.58,35.13 L453.53,35.50 L454.48,35.88 L455.43,36.26 L456.38,36.65 L457.33,37.05 L458.28,37.46 L459.23,37.89 L460.18,38.32 L461.13,38.77 L462.08,39.24 L463.03,39.72 L463.99,40.21 L464.94,40.73 L465.89,41.26 L466.84,41.81 L467.79,42.39 L468.74,42.98 L469.69,43.60 L470.64,44.24 L471.59,44.91 L472.54,45.60 L473.49,46.32 L474.44,47.06 L475.39,47.83 L476.34,48.62 L477.29,49.43 L478.24,50.27 L479.20,51.13 L480.15,52.01 L481.10,52.91 L482.05,53.83 L483.00,54.77 L483.95,55.73 L484.90,56.70 L485.85,57.70 L486.80,58.71 L487.75,59.73 L488.70,60.78 L489.65,61.84 L490.60,62.91 L491.55,64.00 L492.50,65.11 L493.45,66.23 L494.40,67.37 L495.36,68.51 L496.31,69.68 L497.26,70.85 L498.21,72.04 L499.16,73.25 L500.11,74.46 L501.06,75.69 L502.01,76.93 L502.96,78.18 L503.91,79.44 L504.86,80.72 L505.81,82.01 L506.76,83.31 L507.71,84.62 L508.66,85.96 L509.61,87.30 L510.56,88.67 L511.52,90.05 L512.47,91.44 L513.42,92.86 L514.37,94.30 L515.32,95.75 L516.27,97.23 L517.22,98.72 L518.17,100.24 L519.12,101.78 L520.07,103.35 L521.02,104.94 L521.97,106.55 L522.92,108.19 L523.87,109.85 L524.82,111.55 L525.77,113.26 L526.73,115.01 L527.68,116.78 L528.63,118.56 L529.58,120.36 L530.53,122.17 L531.48,123.98 L532.43,125.79 L533.38,127.60 L534.33,129.40 L535.28,131.19 L536.23,132.97 L537.18,134.72 L538.13,136.44 L539.08,138.14 L540.03,139.80 L540.98,141.43 L541.93,143.01 L542.89,144.55 L543.84,146.05 L544.79,147.51 L545.74,148.93 L546.69,150.31 L547.64,151.66 L548.59,152.97 L549.54,154.26 L550.49,155.51 L551.44,156.73 L552.39,157.92 L553.34,159.09 L554.29,160.23 L555.24,161.35 L556.19,162.45 L557.14,163.53 L558.10,164.59 L559.05,165.63 L560.00,166.65 L560.95,167.66 L561.90,168.66 L562.85,169.65 L563.80,170.62 L564.75,171.59 L565.70,172.54 L566.65,173.49 L567.60,174.42 L568.55,175.34 L569.50,176.26 L570.45,177.16 L571.40,178.06 L572.35,178.94 L573.30,179.81 L574.26,180.67 L575.21,181.53 L576.16,182.37 L577.11,183.20 L578.06,184.02 L579.01,184.83 L579.96,185.63 L580.91,186.42 L581.86,187.20 L582.81,187.96 L583.76,188.72 L584.71,189.47 L585.66,190.21 L586.61,190.93 L587.56,191.64 L588.51,192.34 L589.46,193.03 L590.42,193.70 L591.37,194.36 L592.32,195.00 L593.27,195.62 L594.22,196.23 L595.17,196.82 L596.12,197.40 L597.07,197.95 L598.02,198.49 L598.97,199.00 L599.92,199.50 L600.87,199.98 L601.82,200.43 L602.77,200.87 L603.72,201.28 L604.67,201.68 L605.63,202.06 L606.58,202.42 L607.53,202.75 L608.48,203.07 L609.43,203.37 L610.38,203.66 L611.33,203.92 L612.28,204.16 L613.23,204.39 L614.18,204.59 L615.13,204.78 L616.08,204.95 L617.03,205.10 L617.98,205.24 L618.93,205.36 L619.88,205.47 L620.83,205.56 L621.79,205.65 L622.74,205.66 L623.69,205.66 L624.64,205.66 L625.59,205.66 L626.54,205.66 L627.49,205.66 L628.44,205.66 L629.39,205.66 L630.34,205.66 L631.29,205.66 L632.24,205.66 L633.19,205.66 L634.14,205.66 L635.09,205.66 L696.40,205.66" fill="none" stroke="#008000" stroke-width="1.3" stroke-linejoin="round" clip-path="url(#cb)"/>
<path d="M407.90,38.94 L408.68,39.09 L409.47,39.24 L410.25,39.39 L411.04,39.54 L411.82,39.69 L412.61,39.85 L413.39,40.00 L414.18,40.15 L414.96,40.31 L415.75,40.46 L416.53,40.62 L417.32,40.78 L418.10,40.94 L418.88,41.11 L419.67,41.28 L420.45,41.44 L421.24,41.62 L422.02,41.79 L422.81,41.97 L423.59,42.15 L424.38,42.33 L425.16,42.52 L425.95,42.71 L426.73,42.90 L427.52,43.10 L428.30,43.30 L429.08,43.51 L429.87,43.72 L430.65,43.93 L431.44,44.15 L432.22,44.38 L433.01,44.60 L433.79,44.84 L434.58,45.08 L435.36,45.32 L436.15,45.57 L436.93,45.82 L437.72,46.08 L438.50,46.34 L439.28,46.61 L440.07,46.89 L440.85,47.17 L441.64,47.46 L442.42,47.75 L443.21,48.05 L443.99,48.36 L444.78,48.67 L445.56,48.99 L446.35,49.31 L447.13,49.64 L447.92,49.98 L448.70,50.32 L449.49,50.67 L450.27,51.03 L451.05,51.40 L451.84,51.77 L452.62,52.15 L453.41,52.54 L454.19,52.94 L454.98,53.34 L455.76,53.75 L456.55,54.17 L457.33,54.60 L458.12,55.03 L458.90,55.48 L459.69,55.93 L460.47,56.40 L461.25,56.87 L462.04,57.35 L462.82,57.84 L463.61,58.34 L464.39,58.85 L465.18,59.36 L465.96,59.89 L466.75,60.43 L467.53,60.98 L468.32,61.54 L469.10,62.11 L469.89,62.68 L470.67,63.27 L471.45,63.87 L472.24,64.48 L473.02,65.10 L473.81,65.73 L474.59,66.37 L475.38,67.02 L476.16,67.67 L476.95,68.34 L477.73,69.01 L478.52,69.69 L479.30,70.38 L480.09,71.08 L480.87,71.79 L481.65,72.50 L482.44,73.22 L483.22,73.95 L484.01,74.69 L484.79,75.43 L485.58,76.18 L486.36,76.94 L487.15,77.70 L487.93,78.48 L488.72,79.26 L489.50,80.06 L490.29,80.86 L491.07,81.68 L491.85,82.50 L492.64,83.34 L493.42,84.19 L494.21,85.06 L494.99,85.94 L495.78,86.83 L496.56,87.74 L497.35,88.66 L498.13,89.60 L498.92,90.56 L499.70,91.54 L500.49,92.53 L501.27,93.54 L502.05,94.57 L502.84,95.62 L503.62,96.69 L504.41,97.78 L505.19,98.89 L505.98,100.02 L506.76,101.17 L507.55,102.34 L508.33,103.53 L509.12,104.74 L509.90,105.96 L510.69,107.21 L511.47,108.48 L512.25,109.77 L513.04,111.07 L513.82,112.40 L514.61,113.74 L515.39,115.10 L516.18,116.48 L516.96,117.88 L517.75,119.29 L518.53,120.72 L519.32,122.16 L520.10,123.61 L520.89,125.07 L521.67,126.54 L522.46,128.02 L523.24,129.51 L524.02,131.01 L524.81,132.51 L525.59,134.02 L526.38,135.53 L527.16,137.04 L527.95,138.55 L528.73,140.06 L529.52,141.58 L530.30,143.09 L531.09,144.60 L531.87,146.10 L532.66,147.60 L533.44,149.10 L534.22,150.58 L535.01,152.06 L535.79,153.53 L536.58,154.99 L537.36,156.44 L538.15,157.87 L538.93,159.30 L539.72,160.70 L540.50,162.10 L541.29,163.47 L542.07,164.83 L542.86,166.17 L543.64,167.49 L544.42,168.80 L545.21,170.08 L545.99,171.35 L546.78,172.60 L547.56,173.83 L548.35,175.03 L549.13,176.22 L549.92,177.39 L550.70,178.54 L551.49,179.67 L552.27,180.77 L553.06,181.86 L553.84,182.93 L554.62,183.97 L555.41,184.99 L556.19,185.99 L556.98,186.97 L557.76,187.92 L558.55,188.85 L559.33,189.76 L560.12,190.65 L560.90,191.51 L561.69,192.35 L562.47,193.16 L563.26,193.95 L564.04,194.72 L564.82,195.45 L565.61,196.17 L566.39,196.86 L567.18,197.52 L567.96,198.16 L568.75,198.77 L569.53,199.35 L570.32,199.91 L571.10,200.44 L571.89,200.95 L572.67,201.43 L573.46,201.88 L574.24,202.31 L575.02,202.72 L575.81,203.10 L576.59,203.45 L577.38,203.78 L578.16,204.09 L578.95,204.37 L579.73,204.63 L580.52,204.86 L581.30,205.08 L582.09,205.27 L582.87,205.44 L583.66,205.60 L584.44,205.66 L585.22,205.66 L586.01,205.66 L586.79,205.66 L587.58,205.66 L588.36,205.66 L589.15,205.66 L589.93,205.66 L590.72,205.66 L591.50,205.66 L592.29,205.66 L593.07,205.66 L593.86,205.66 L594.64,205.66 L595.42,205.66 L696.40,205.66" fill="none" stroke="#000000" stroke-width="1.3" stroke-linejoin="round" clip-path="url(#cb)"/>
<path d="M407.90,10.12V32.44M405.30,10.12H410.50M405.30,32.44H410.50" stroke="#008000" stroke-width="1.1" fill="none" clip-path="url(#cb)"/>
<path d="M407.90,39.13V70.37M405.30,39.13H410.50M405.30,70.37H410.50" stroke="#0000ff" stroke-width="1.1" fill="none" clip-path="url(#cb)"/>
<path d="M407.90,29.09V48.06M405.30,29.09H410.50M405.30,48.06H410.50" stroke="#000000" stroke-width="1.1" fill="none" clip-path="url(#cb)"/>
<path d="M472.67,30.20V59.22M470.07,30.20H475.27M470.07,59.22H475.27" stroke="#008000" stroke-width="1.1" fill="none" clip-path="url(#cb)"/>
<ellipse cx="407.90" cy="36.34" rx="3.75" ry="4.1" fill="#ff0000" clip-path="url(#cb)"/>
<ellipse cx="472.81" cy="60.33" rx="3.75" ry="4.1" fill="#ff0000" clip-path="url(#cb)"/>
<ellipse cx="647.72" cy="205.66" rx="3.75" ry="4.1" fill="#ff0000" clip-path="url(#cb)"/>
<ellipse cx="653.41" cy="205.66" rx="3.75" ry="4.1" fill="#ff0000" clip-path="url(#cb)"/>
<rect x="403.90" y="50.75" width="8.0" height="8.0" fill="#0000ff" clip-path="url(#cb)"/>
<rect x="468.81" y="78.65" width="8.0" height="8.0" fill="#0000ff" clip-path="url(#cb)"/>
<rect x="569.79" y="201.66" width="8.0" height="8.0" fill="#0000ff" clip-path="url(#cb)"/>
<rect x="576.28" y="201.66" width="8.0" height="8.0" fill="#0000ff" clip-path="url(#cb)"/>
<rect x="664.13" y="201.66" width="8.0" height="8.0" fill="#0000ff" clip-path="url(#cb)"/>
<path d="M404.50,17.88L411.30,24.68M404.50,24.68L411.30,17.88" stroke="#008000" stroke-width="1.1" fill="none" clip-path="url(#cb)"/>
<path d="M469.27,41.31L476.07,48.11M469.27,48.11L476.07,41.31" stroke="#008000" stroke-width="1.1" fill="none" clip-path="url(#cb)"/>
<path d="M565.34,202.26L572.14,209.06M565.34,209.06L572.14,202.26" stroke="#008000" stroke-width="1.1" fill="none" clip-path="url(#cb)"/>
<path d="M644.32,202.26L651.12,209.06M644.32,209.06L651.12,202.26" stroke="#008000" stroke-width="1.1" fill="none" clip-path="url(#cb)"/>
<path d="M650.01,202.26L656.81,209.06M650.01,209.06L656.81,202.26" stroke="#008000" stroke-width="1.1" fill="none" clip-path="url(#cb)"/>
<path d="M407.90,33.67L411.25,38.57L407.90,43.47L404.55,38.57Z" fill="#000000" clip-path="url(#cb)"/>
<path d="M468.70,64.08L472.05,68.98L468.70,73.88L465.35,68.98Z" fill="#000000" clip-path="url(#cb)"/>
<path d="M480.02,65.75L483.38,70.65L480.02,75.55L476.67,70.65Z" fill="#000000" clip-path="url(#cb)"/>
<path d="M516.09,150.83L519.44,155.73L516.09,160.63L512.74,155.73Z" fill="#000000" clip-path="url(#cb)"/>
<path d="M566.29,200.76L569.64,205.66L566.29,210.56L562.94,205.66Z" fill="#000000" clip-path="url(#cb)"/>
<path d="M581.29,200.76L584.64,205.66L581.29,210.56L577.94,205.66Z" fill="#000000" clip-path="url(#cb)"/>
<path d="M647.72,200.76L651.07,205.66L647.72,210.56L644.37,205.66Z" fill="#000000" clip-path="url(#cb)"/>
<path d="M653.41,200.76L656.76,205.66L653.41,210.56L650.06,205.66Z" fill="#000000" clip-path="url(#cb)"/>
<ellipse cx="630.80" cy="11.30" rx="3.75" ry="4.1" fill="#ff0000"/>
<text text-rendering="geometricPrecision" transform="translate(645.40,14.20) scale(1.0,1.1)" text-anchor="start" font-size="8" font-family="Liberation Serif, serif" fill="#1a1a1a" stroke="#1a1a1a" stroke-width="0.18">data 5%</text>
<line x1="622.2" y1="23.45" x2="639.3" y2="23.45" stroke="#ff0000" stroke-width="1.3"/>
<text text-rendering="geometricPrecision" transform="translate(645.40,26.35) scale(1.0,1.1)" text-anchor="start" font-size="8" font-family="Liberation Serif, serif" fill="#1a1a1a" stroke="#1a1a1a" stroke-width="0.18">estimate 5%</text>
<rect x="626.80" y="31.60" width="8.0" height="8.0" fill="#0000ff"/>
<text text-rendering="geometricPrecision" transform="translate(645.40,38.50) scale(1.0,1.1)" text-anchor="start" font-size="8" font-family="Liberation Serif, serif" fill="#1a1a1a" stroke="#1a1a1a" stroke-width="0.18">data 10%</text>
<line x1="622.2" y1="47.75" x2="639.3" y2="47.75" stroke="#0000ff" stroke-width="1.3"/>
<text text-rendering="geometricPrecision" transform="translate(645.40,50.65) scale(1.0,1.1)" text-anchor="start" font-size="8" font-family="Liberation Serif, serif" fill="#1a1a1a" stroke="#1a1a1a" stroke-width="0.18">estimate 10%</text>
<path d="M627.40,56.50L634.20,63.30M627.40,63.30L634.20,56.50" stroke="#008000" stroke-width="1.1" fill="none"/>
<text text-rendering="geometricPrecision" transform="translate(645.40,62.80) scale(1.0,1.1)" text-anchor="start" font-size="8" font-family="Liberation Serif, serif" fill="#1a1a1a" stroke="#1a1a1a" stroke-width="0.18">data 20%</text>
<line x1="622.2" y1="72.05" x2="639.3" y2="72.05" stroke="#008000" stroke-width="1.3"/>
<text text-rendering="geometricPrecision" transform="translate(645.40,74.95) scale(1.0,1.1)" text-anchor="start" font-size="8" font-family="Liberation Serif, serif" fill="#1a1a1a" stroke="#1a1a1a" stroke-width="0.18">estimate 20%</text>
<path d="M630.80,79.30L634.15,84.20L630.80,89.10L627.45,84.20Z" fill="#000000"/>
<text text-rendering="geometricPrecision" transform="translate(645.40,87.10) scale(1.0,1.1)" text-anchor="start" font-size="8" font-family="Liberation Serif, serif" fill="#1a1a1a" stroke="#1a1a1a" stroke-width="0.18">data 40%</text>
<line x1="622.2" y1="96.35" x2="639.3" y2="96.35" stroke="#000000" stroke-width="1.3"/>
<text text-rendering="geometricPrecision" transform="translate(645.40,99.25) scale(1.0,1.1)" text-anchor="start" font-size="8" font-family="Liberation Serif, serif" fill="#1a1a1a" stroke="#1a1a1a" stroke-width="0.18">estimate 40%</text>
<rect x="407.9" y="0.5" width="288.50" height="214.96" fill="none" stroke="#6e6e6e" stroke-width="1.2"/>
<line x1="407.90" y1="215.46" x2="407.90" y2="218.76" stroke="#6e6e6e" stroke-width="1.2"/>
<text text-rendering="geometricPrecision" transform="translate(407.90,227.06) scale(0.92,1.1)" text-anchor="middle" font-size="8" font-family="Liberation Serif, serif" fill="#1a1a1a" stroke="#1a1a1a" stroke-width="0.18">0</text>
<line x1="443.96" y1="215.46" x2="443.96" y2="218.76" stroke="#6e6e6e" stroke-width="1.2"/>
<text text-rendering="geometricPrecision" transform="translate(443.96,227.06) scale(0.92,1.1)" text-anchor="middle" font-size="8" font-family="Liberation Serif, serif" fill="#1a1a1a" stroke="#1a1a1a" stroke-width="0.18">5</text>
<line x1="480.02" y1="215.46" x2="480.02" y2="218.76" stroke="#6e6e6e" stroke-width="1.2"/>
<text text-rendering="geometricPrecision" transform="translate(480.02,227.06) scale(0.92,1.1)" text-anchor="middle" font-size="8" font-family="Liberation Serif, serif" fill="#1a1a1a" stroke="#1a1a1a" stroke-width="0.18">10</text>
<line x1="516.09" y1="215.46" x2="516.09" y2="218.76" stroke="#6e6e6e" stroke-width="1.2"/>
<text text-rendering="geometricPrecision" transform="translate(516.09,227.06) scale(0.92,1.1)" text-anchor="middle" font-size="8" font-family="Liberation Serif, serif" fill="#1a1a1a" stroke="#1a1a1a" stroke-width="0.18">15</text>
<line x1="552.15" y1="215.46" x2="552.15" y2="218.76" stroke="#6e6e6e" stroke-width="1.2"/>
<text text-rendering="geometricPrecision" transform="translate(552.15,227.06) scale(0.92,1.1)" text-anchor="middle" font-size="8" font-family="Liberation Serif, serif" fill="#1a1a1a" stroke="#1a1a1a" stroke-width="0.18">20</text>
<line x1="588.21" y1="215.46" x2="588.21" y2="218.76" stroke="#6e6e6e" stroke-width="1.2"/>
<text text-rendering="geometricPrecision" transform="translate(588.21,227.06) scale(0.92,1.1)" text-anchor="middle" font-size="8" font-family="Liberation Serif, serif" fill="#1a1a1a" stroke="#1a1a1a" stroke-width="0.18">25</text>
<line x1="624.27" y1="215.46" x2="624.27" y2="218.76" stroke="#6e6e6e" stroke-width="1.2"/>
<text text-rendering="geometricPrecision" transform="translate(624.27,227.06) scale(0.92,1.1)" text-anchor="middle" font-size="8" font-family="Liberation Serif, serif" fill="#1a1a1a" stroke="#1a1a1a" stroke-width="0.18">30</text>
<line x1="660.34" y1="215.46" x2="660.34" y2="218.76" stroke="#6e6e6e" stroke-width="1.2"/>
<text text-rendering="geometricPrecision" transform="translate(660.34,227.06) scale(0.92,1.1)" text-anchor="middle" font-size="8" font-family="Liberation Serif, serif" fill="#1a1a1a" stroke="#1a1a1a" stroke-width="0.18">35</text>
<line x1="696.40" y1="215.46" x2="696.40" y2="218.76" stroke="#6e6e6e" stroke-width="1.2"/>
<text text-rendering="geometricPrecision" transform="translate(696.40,227.06) scale(0.92,1.1)" text-anchor="middle" font-size="8" font-family="Liberation Serif, serif" fill="#1a1a1a" stroke="#1a1a1a" stroke-width="0.18">40</text>
<line x1="404.50" y1="205.66" x2="407.9" y2="205.66" stroke="#6e6e6e" stroke-width="1.2"/>
<text text-rendering="geometricPrecision" transform="translate(401.10,208.56) scale(0.9,1.1)" text-anchor="end" font-size="8" font-family="Liberation Serif, serif" fill="#1a1a1a" stroke="#1a1a1a" stroke-width="0.18">0</text>
<line x1="404.50" y1="177.77" x2="407.9" y2="177.77" stroke="#6e6e6e" stroke-width="1.2"/>
<text text-rendering="geometricPrecision" transform="translate(401.10,180.67) scale(0.9,1.1)" text-anchor="end" font-size="8" font-family="Liberation Serif, serif" fill="#1a1a1a" stroke="#1a1a1a" stroke-width="0.18">1</text>
<line x1="404.50" y1="149.87" x2="407.9" y2="149.87" stroke="#6e6e6e" stroke-width="1.2"/>
<text text-rendering="geometricPrecision" transform="translate(401.10,152.77) scale(0.9,1.1)" text-anchor="end" font-size="8" font-family="Liberation Serif, serif" fill="#1a1a1a" stroke="#1a1a1a" stroke-width="0.18">2</text>
<line x1="404.50" y1="121.98" x2="407.9" y2="121.98" stroke="#6e6e6e" stroke-width="1.2"/>
<text text-rendering="geometricPrecision" transform="translate(401.10,124.88) scale(0.9,1.1)" text-anchor="end" font-size="8" font-family="Liberation Serif, serif" fill="#1a1a1a" stroke="#1a1a1a" stroke-width="0.18">3</text>
<line x1="404.50" y1="94.08" x2="407.9" y2="94.08" stroke="#6e6e6e" stroke-width="1.2"/>
<text text-rendering="geometricPrecision" transform="translate(401.10,96.98) scale(0.9,1.1)" text-anchor="end" font-size="8" font-family="Liberation Serif, serif" fill="#1a1a1a" stroke="#1a1a1a" stroke-width="0.18">4</text>
<line x1="404.50" y1="66.19" x2="407.9" y2="66.19" stroke="#6e6e6e" stroke-width="1.2"/>
<text text-rendering="geometricPrecision" transform="translate(401.10,69.09) scale(0.9,1.1)" text-anchor="end" font-size="8" font-family="Liberation Serif, serif" fill="#1a1a1a" stroke="#1a1a1a" stroke-width="0.18">5</text>
<line x1="404.50" y1="38.29" x2="407.9" y2="38.29" stroke="#6e6e6e" stroke-width="1.2"/>
<text text-rendering="geometricPrecision" transform="translate(401.10,41.19) scale(0.9,1.1)" text-anchor="end" font-size="8" font-family="Liberation Serif, serif" fill="#1a1a1a" stroke="#1a1a1a" stroke-width="0.18">6</text>
<line x1="404.50" y1="10.40" x2="407.9" y2="10.40" stroke="#6e6e6e" stroke-width="1.2"/>
<text text-rendering="geometricPrecision" transform="translate(401.10,13.30) scale(0.9,1.1)" text-anchor="end" font-size="8" font-family="Liberation Serif, serif" fill="#1a1a1a" stroke="#1a1a1a" stroke-width="0.18">7</text>
<text text-rendering="geometricPrecision" transform="translate(552.15,238.70) scale(1.0,1.1)" text-anchor="middle" font-size="8" font-family="Liberation Serif, serif" fill="#1a1a1a" stroke="#1a1a1a" stroke-width="0.18">Time (h)</text>
<text text-rendering="geometricPrecision" transform="translate(387.20,114.20) rotate(-90) scale(1.0,1.1)" text-anchor="middle" font-size="8.4" font-family="Liberation Serif, serif" fill="#1a1a1a" stroke="#1a1a1a" stroke-width="0.18">Glucose (g/L)</text>
<text text-rendering="geometricPrecision" transform="translate(546.60,272.80) scale(1.0,1.1)" text-anchor="middle" font-size="18.3" font-family="Liberation Serif, serif" fill="#2a2a2a">(b)</text>
<path d="M28.60,513.33 L29.23,513.39 L29.86,513.45 L30.49,513.51 L31.12,513.57 L31.75,513.63 L32.38,513.69 L33.01,513.74 L33.65,513.80 L34.28,513.85 L34.91,513.90 L35.54,513.96 L36.17,514.00 L36.80,514.05 L37.43,514.10 L38.06,514.14 L38.69,514.18 L39.32,514.22 L39.95,514.25 L40.58,514.29 L41.21,514.31 L41.84,514.34 L42.47,514.36 L43.10,514.38 L43.74,514.40 L44.37,514.42 L45.00,514.43 L45.63,514.43 L46.26,514.44 L46.89,514.44 L47.52,514.44 L48.15,514.43 L48.78,514.43 L49.41,514.41 L50.04,514.40 L50.67,514.38 L51.30,514.36 L51.93,514.33 L52.56,514.31 L53.19,514.28 L53.83,514.24 L54.46,514.20 L55.09,514.17 L55.72,514.12 L56.35,514.08 L56.98,514.03 L57.61,513.98 L58.24,513.93 L58.87,513.88 L59.50,513.82 L60.13,513.77 L60.76,513.71 L61.39,513.65 L62.02,513.58 L62.65,513.52 L63.28,513.46 L63.92,513.39 L64.55,513.32 L65.18,513.25 L65.81,513.19 L66.44,513.12 L67.07,513.04 L67.70,512.97 L68.33,512.90 L68.96,512.82 L69.59,512.75 L70.22,512.67 L70.85,512.59 L71.48,512.52 L72.11,512.44 L72.74,512.35 L73.37,512.27 L74.01,512.19 L74.64,512.10 L75.27,512.02 L75.90,511.93 L76.53,511.84 L77.16,511.75 L77.79,511.66 L78.42,511.57 L79.05,511.48 L79.68,511.38 L80.31,511.28 L80.94,511.19 L81.57,511.09 L82.20,510.99 L82.83,510.89 L83.47,510.78 L84.10,510.68 L84.73,510.57 L85.36,510.46 L85.99,510.36 L86.62,510.25 L87.25,510.13 L87.88,510.02 L88.51,509.91 L89.14,509.79 L89.77,509.67 L90.40,509.55 L91.03,509.43 L91.66,509.31 L92.29,509.18 L92.92,509.05 L93.56,508.92 L94.19,508.79 L94.82,508.65 L95.45,508.51 L96.08,508.37 L96.71,508.23 L97.34,508.08 L97.97,507.93 L98.60,507.77 L99.23,507.61 L99.86,507.44 L100.49,507.27 L101.12,507.10 L101.75,506.92 L102.38,506.74 L103.01,506.55 L103.65,506.36 L104.28,506.16 L104.91,505.95 L105.54,505.74 L106.17,505.53 L106.80,505.31 L107.43,505.08 L108.06,504.84 L108.69,504.60 L109.32,504.35 L109.95,504.10 L110.58,503.84 L111.21,503.57 L111.84,503.29 L112.47,503.01 L113.10,502.72 L113.74,502.42 L114.37,502.11 L115.00,501.79 L115.63,501.47 L116.26,501.13 L116.89,500.79 L117.52,500.44 L118.15,500.08 L118.78,499.71 L119.41,499.33 L120.04,498.94 L120.67,498.55 L121.30,498.14 L121.93,497.73 L122.56,497.31 L123.19,496.88 L123.83,496.44 L124.46,496.00 L125.09,495.55 L125.72,495.10 L126.35,494.64 L126.98,494.17 L127.61,493.70 L128.24,493.22 L128.87,492.74 L129.50,492.25 L130.13,491.76 L130.76,491.27 L131.39,490.77 L132.02,490.27 L132.65,489.76 L133.29,489.26 L133.92,488.75 L134.55,488.24 L135.18,487.72 L135.81,487.21 L136.44,486.68 L137.07,486.16 L137.70,485.63 L138.33,485.10 L138.96,484.57 L139.59,484.03 L140.22,483.49 L140.85,482.95 L141.48,482.40 L142.11,481.85 L142.74,481.29 L143.38,480.73 L144.01,480.16 L144.64,479.59 L145.27,479.02 L145.90,478.44 L146.53,477.85 L147.16,477.26 L147.79,476.67 L148.42,476.07 L149.05,475.46 L149.68,474.86 L150.31,474.24 L150.94,473.62 L151.57,473.00 L152.20,472.38 L152.83,471.75 L153.47,471.11 L154.10,470.48 L154.73,469.84 L155.36,469.19 L155.99,468.55 L156.62,467.90 L157.25,467.25 L157.88,466.59 L158.51,465.94 L159.14,465.28 L159.77,464.62 L160.40,463.96 L161.03,463.29 L161.66,462.63 L162.29,461.96 L162.92,461.30 L163.56,460.63 L164.19,459.96 L164.82,459.28 L165.45,458.61 L166.08,457.94 L166.71,457.26 L167.34,456.59 L167.97,455.91 L168.60,455.23 L169.23,454.56 L169.86,453.88 L170.49,453.20 L171.12,452.52 L171.75,451.84 L172.38,451.16 L173.02,450.47 L173.65,449.79 L174.28,449.11 L174.91,448.43 L175.54,447.74 L176.17,447.06 L176.80,446.37 L177.43,445.69 L178.06,445.00 L178.69,444.32 L179.32,443.64 L190.00,431.44 L193.82,427.83 L201.04,424.23 L208.25,450.99 L215.47,480.32 L223.04,496.10 L230.33,503.48 L245.05,507.77 L317.20,508.97" fill="none" stroke="#ff0000" stroke-width="1.3" stroke-linejoin="round" clip-path="url(#cc)"/>
<path d="M28.60,517.36 L29.23,517.28 L29.86,517.20 L30.49,517.12 L31.12,517.04 L31.75,516.96 L32.38,516.88 L33.01,516.81 L33.65,516.73 L34.28,516.65 L34.91,516.57 L35.54,516.49 L36.17,516.41 L36.80,516.33 L37.43,516.26 L38.06,516.18 L38.69,516.10 L39.32,516.03 L39.95,515.95 L40.58,515.87 L41.21,515.80 L41.84,515.72 L42.47,515.65 L43.10,515.58 L43.74,515.50 L44.37,515.43 L45.00,515.36 L45.63,515.29 L46.26,515.21 L46.89,515.14 L47.52,515.07 L48.15,515.00 L48.78,514.94 L49.41,514.87 L50.04,514.80 L50.67,514.73 L51.30,514.67 L51.93,514.60 L52.56,514.53 L53.19,514.47 L53.83,514.40 L54.46,514.33 L55.09,514.27 L55.72,514.20 L56.35,514.14 L56.98,514.07 L57.61,514.01 L58.24,513.94 L58.87,513.87 L59.50,513.81 L60.13,513.74 L60.76,513.67 L61.39,513.61 L62.02,513.54 L62.65,513.47 L63.28,513.40 L63.92,513.33 L64.55,513.26 L65.18,513.19 L65.81,513.12 L66.44,513.05 L67.07,512.98 L67.70,512.90 L68.33,512.83 L68.96,512.76 L69.59,512.68 L70.22,512.60 L70.85,512.53 L71.48,512.45 L72.11,512.37 L72.74,512.29 L73.37,512.21 L74.01,512.13 L74.64,512.04 L75.27,511.96 L75.90,511.87 L76.53,511.79 L77.16,511.70 L77.79,511.61 L78.42,511.52 L79.05,511.43 L79.68,511.34 L80.31,511.24 L80.94,511.15 L81.57,511.05 L82.20,510.95 L82.83,510.85 L83.47,510.75 L84.10,510.65 L84.73,510.55 L85.36,510.44 L85.99,510.33 L86.62,510.22 L87.25,510.11 L87.88,510.00 L88.51,509.89 L89.14,509.77 L89.77,509.65 L90.40,509.53 L91.03,509.41 L91.66,509.29 L92.29,509.16 L92.92,509.04 L93.56,508.91 L94.19,508.77 L94.82,508.64 L95.45,508.50 L96.08,508.35 L96.71,508.21 L97.34,508.06 L97.97,507.91 L98.60,507.75 L99.23,507.59 L99.86,507.42 L100.49,507.26 L101.12,507.08 L101.75,506.90 L102.38,506.72 L103.01,506.53 L103.65,506.34 L104.28,506.15 L104.91,505.94 L105.54,505.73 L106.17,505.52 L106.80,505.30 L107.43,505.08 L108.06,504.85 L108.69,504.61 L109.32,504.37 L109.95,504.12 L110.58,503.86 L111.21,503.60 L111.84,503.33 L112.47,503.05 L113.10,502.77 L113.74,502.48 L114.37,502.18 L115.00,501.87 L115.63,501.56 L116.26,501.23 L116.89,500.90 L117.52,500.57 L118.15,500.22 L118.78,499.86 L119.41,499.50 L120.04,499.13 L120.67,498.75 L121.30,498.36 L121.93,497.96 L122.56,497.55 L123.19,497.14 L123.83,496.71 L124.46,496.28 L125.09,495.84 L125.72,495.39 L126.35,494.93 L126.98,494.47 L127.61,493.99 L128.24,493.51 L128.87,493.01 L129.50,492.51 L130.13,492.00 L130.76,491.48 L131.39,490.95 L132.02,490.42 L132.65,489.87 L133.29,489.32 L133.92,488.76 L134.55,488.19 L135.18,487.61 L135.81,487.02 L136.44,486.43 L137.07,485.84 L137.70,485.24 L138.33,484.63 L138.96,484.02 L139.59,483.40 L140.22,482.79 L140.85,482.17 L141.48,481.54 L142.11,480.92 L142.74,480.29 L143.38,479.67 L144.01,479.04 L144.64,478.41 L145.27,477.79 L145.90,477.16 L146.53,476.54 L147.16,475.92 L147.79,475.30 L148.42,474.69 L149.05,474.08 L149.68,473.47 L150.31,472.86 L150.94,472.26 L151.57,471.66 L152.20,471.06 L152.83,470.46 L153.47,469.87 L154.10,469.28 L154.73,468.69 L155.36,468.10 L155.99,467.52 L156.62,466.93 L157.25,466.35 L157.88,465.78 L158.51,465.20 L159.14,464.63 L159.77,464.06 L160.40,463.49 L161.03,462.92 L161.66,462.35 L162.29,461.79 L162.92,461.23 L163.56,460.67 L164.19,460.12 L164.82,459.57 L165.45,459.03 L166.08,458.49 L166.71,457.95 L167.34,457.43 L167.97,456.91 L168.60,456.39 L169.23,455.89 L169.86,455.39 L170.49,454.91 L171.12,454.43 L171.75,453.96 L172.38,453.50 L173.02,453.06 L173.65,452.62 L174.28,452.18 L174.91,451.76 L175.54,451.34 L176.17,450.92 L176.80,450.51 L177.43,450.11 L178.06,449.70 L178.69,449.30 L179.32,448.90 L201.04,467.97 L208.40,485.12 L215.68,499.88 L222.97,505.88 L237.62,508.97 L317.20,510.17" fill="none" stroke="#0000ff" stroke-width="1.3" stroke-linejoin="round" clip-path="url(#cc)"/>
<path d="M28.60,517.36 L29.20,517.27 L29.81,517.19 L30.41,517.11 L31.02,517.03 L31.62,516.94 L32.22,516.86 L32.83,516.78 L33.43,516.70 L34.03,516.62 L34.64,516.53 L35.24,516.45 L35.85,516.37 L36.45,516.29 L37.05,516.21 L37.66,516.13 L38.26,516.05 L38.86,515.97 L39.47,515.89 L40.07,515.82 L40.68,515.74 L41.28,515.66 L41.88,515.59 L42.49,515.51 L43.09,515.44 L43.69,515.36 L44.30,515.29 L44.90,515.21 L45.51,515.14 L46.11,515.07 L46.71,515.00 L47.32,514.93 L47.92,514.86 L48.52,514.79 L49.13,514.73 L49.73,514.66 L50.34,514.59 L50.94,514.53 L51.54,514.46 L52.15,514.40 L52.75,514.33 L53.35,514.27 L53.96,514.20 L54.56,514.14 L55.17,514.08 L55.77,514.01 L56.37,513.95 L56.98,513.89 L57.58,513.82 L58.18,513.76 L58.79,513.70 L59.39,513.63 L60.00,513.57 L60.60,513.51 L61.20,513.44 L61.81,513.38 L62.41,513.32 L63.01,513.25 L63.62,513.19 L64.22,513.12 L64.83,513.05 L65.43,512.99 L66.03,512.92 L66.64,512.85 L67.24,512.78 L67.84,512.71 L68.45,512.64 L69.05,512.57 L69.66,512.50 L70.26,512.43 L70.86,512.35 L71.47,512.28 L72.07,512.21 L72.67,512.13 L73.28,512.05 L73.88,511.98 L74.49,511.90 L75.09,511.82 L75.69,511.74 L76.30,511.66 L76.90,511.58 L77.51,511.49 L78.11,511.41 L78.71,511.33 L79.32,511.24 L79.92,511.15 L80.52,511.06 L81.13,510.97 L81.73,510.88 L82.34,510.79 L82.94,510.70 L83.54,510.60 L84.15,510.51 L84.75,510.41 L85.35,510.31 L85.96,510.22 L86.56,510.11 L87.17,510.01 L87.77,509.91 L88.37,509.80 L88.98,509.70 L89.58,509.59 L90.18,509.48 L90.79,509.37 L91.39,509.26 L92.00,509.14 L92.60,509.03 L93.20,508.90 L93.81,508.78 L94.41,508.65 L95.01,508.52 L95.62,508.39 L96.22,508.25 L96.83,508.11 L97.43,507.96 L98.03,507.81 L98.64,507.65 L99.24,507.49 L99.84,507.32 L100.45,507.15 L101.05,506.97 L101.66,506.79 L102.26,506.60 L102.86,506.40 L103.47,506.20 L104.07,505.99 L104.67,505.78 L105.28,505.56 L105.88,505.33 L106.49,505.10 L107.09,504.86 L107.69,504.62 L108.30,504.36 L108.90,504.10 L109.50,503.84 L110.11,503.56 L110.71,503.28 L111.32,503.00 L111.92,502.70 L112.52,502.40 L113.13,502.09 L113.73,501.77 L114.33,501.44 L114.94,501.11 L115.54,500.76 L116.15,500.41 L116.75,500.05 L117.35,499.69 L117.96,499.31 L118.56,498.92 L119.16,498.53 L119.77,498.13 L120.37,497.72 L120.98,497.30 L121.58,496.87 L122.18,496.43 L122.79,495.99 L123.39,495.53 L123.99,495.07 L124.60,494.60 L125.20,494.12 L125.81,493.64 L126.41,493.14 L127.01,492.64 L127.62,492.13 L128.22,491.62 L128.83,491.09 L129.43,490.56 L130.03,490.02 L130.64,489.48 L131.24,488.93 L131.84,488.37 L132.45,487.80 L133.05,487.22 L133.66,486.64 L134.26,486.06 L134.86,485.46 L135.47,484.86 L136.07,484.26 L136.67,483.65 L137.28,483.04 L137.88,482.42 L138.49,481.79 L139.09,481.17 L139.69,480.53 L140.30,479.90 L140.90,479.26 L141.50,478.62 L142.11,477.98 L142.71,477.33 L143.32,476.69 L143.92,476.04 L144.52,475.39 L145.13,474.74 L145.73,474.09 L146.33,473.44 L146.94,472.79 L147.54,472.14 L148.15,471.49 L148.75,470.84 L149.35,470.19 L149.96,469.54 L150.56,468.89 L151.16,468.25 L151.77,467.60 L152.37,466.96 L152.98,466.31 L153.58,465.67 L154.18,465.02 L154.79,464.38 L155.39,463.74 L155.99,463.10 L156.60,462.46 L157.20,461.82 L157.81,461.19 L158.41,460.55 L159.01,459.92 L159.62,459.29 L160.22,458.65 L160.82,458.02 L161.43,457.40 L162.03,456.77 L162.64,456.14 L163.24,455.52 L163.84,454.89 L164.45,454.27 L165.05,453.65 L165.65,453.03 L166.26,452.41 L166.86,451.79 L167.47,451.17 L168.07,450.56 L168.67,449.94 L169.28,449.32 L169.88,448.71 L170.48,448.09 L171.09,447.48 L171.69,446.86 L172.30,446.25 L172.90,445.63 L174.34,443.96 L208.47,406.56 L215.47,409.99 L223.04,426.80 L230.33,436.41 L237.62,454.76 L244.91,482.72 L252.26,496.10 L259.48,503.48 L269.22,506.74 L317.20,508.45" fill="none" stroke="#008000" stroke-width="1.3" stroke-linejoin="round" clip-path="url(#cc)"/>
<path d="M28.60,516.02 L29.23,515.98 L29.86,515.94 L30.49,515.90 L31.12,515.86 L31.75,515.82 L32.38,515.78 L33.01,515.74 L33.65,515.70 L34.28,515.66 L34.91,515.62 L35.54,515.58 L36.17,515.54 L36.80,515.50 L37.43,515.46 L38.06,515.42 L38.69,515.37 L39.32,515.33 L39.95,515.29 L40.58,515.24 L41.21,515.20 L41.84,515.15 L42.47,515.10 L43.10,515.06 L43.74,515.01 L44.37,514.96 L45.00,514.91 L45.63,514.86 L46.26,514.81 L46.89,514.75 L47.52,514.70 L48.15,514.64 L48.78,514.59 L49.41,514.53 L50.04,514.47 L50.67,514.42 L51.30,514.36 L51.93,514.30 L52.56,514.24 L53.19,514.17 L53.83,514.11 L54.46,514.05 L55.09,513.98 L55.72,513.92 L56.35,513.85 L56.98,513.79 L57.61,513.72 L58.24,513.65 L58.87,513.59 L59.50,513.52 L60.13,513.45 L60.76,513.38 L61.39,513.31 L62.02,513.24 L62.65,513.17 L63.28,513.10 L63.92,513.02 L64.55,512.95 L65.18,512.88 L65.81,512.80 L66.44,512.73 L67.07,512.66 L67.70,512.58 L68.33,512.51 L68.96,512.43 L69.59,512.35 L70.22,512.28 L70.85,512.20 L71.48,512.12 L72.11,512.04 L72.74,511.96 L73.37,511.88 L74.01,511.80 L74.64,511.72 L75.27,511.63 L75.90,511.55 L76.53,511.46 L77.16,511.38 L77.79,511.29 L78.42,511.20 L79.05,511.11 L79.68,511.02 L80.31,510.93 L80.94,510.84 L81.57,510.74 L82.20,510.65 L82.83,510.55 L83.47,510.45 L84.10,510.35 L84.73,510.25 L85.36,510.15 L85.99,510.04 L86.62,509.94 L87.25,509.83 L87.88,509.72 L88.51,509.61 L89.14,509.50 L89.77,509.39 L90.40,509.27 L91.03,509.16 L91.66,509.04 L92.29,508.91 L92.92,508.79 L93.56,508.66 L94.19,508.53 L94.82,508.39 L95.45,508.25 L96.08,508.10 L96.71,507.95 L97.34,507.80 L97.97,507.63 L98.60,507.47 L99.23,507.29 L99.86,507.12 L100.49,506.93 L101.12,506.74 L101.75,506.54 L102.38,506.34 L103.01,506.13 L103.65,505.91 L104.28,505.69 L104.91,505.46 L105.54,505.22 L106.17,504.98 L106.80,504.73 L107.43,504.47 L108.06,504.20 L108.69,503.93 L109.32,503.65 L109.95,503.36 L110.58,503.07 L111.21,502.76 L111.84,502.45 L112.47,502.13 L113.10,501.80 L113.74,501.46 L114.37,501.12 L115.00,500.76 L115.63,500.40 L116.26,500.03 L116.89,499.65 L117.52,499.26 L118.15,498.86 L118.78,498.45 L119.41,498.03 L120.04,497.61 L120.67,497.17 L121.30,496.73 L121.93,496.27 L122.56,495.81 L123.19,495.34 L123.83,494.86 L124.46,494.37 L125.09,493.87 L125.72,493.36 L126.35,492.85 L126.98,492.33 L127.61,491.80 L128.24,491.26 L128.87,490.71 L129.50,490.15 L130.13,489.59 L130.76,489.02 L131.39,488.44 L132.02,487.85 L132.65,487.26 L133.29,486.65 L133.92,486.04 L134.55,485.43 L135.18,484.80 L135.81,484.17 L136.44,483.54 L137.07,482.90 L137.70,482.25 L138.33,481.60 L138.96,480.94 L139.59,480.28 L140.22,479.62 L140.85,478.95 L141.48,478.28 L142.11,477.61 L142.74,476.93 L143.38,476.26 L144.01,475.58 L144.64,474.89 L145.27,474.21 L145.90,473.53 L146.53,472.85 L147.16,472.16 L147.79,471.48 L148.42,470.80 L149.05,470.11 L149.68,469.43 L150.31,468.75 L150.94,468.07 L151.57,467.39 L152.20,466.71 L152.83,466.04 L153.47,465.36 L154.10,464.69 L154.73,464.02 L155.36,463.35 L155.99,462.68 L156.62,462.02 L157.25,461.36 L157.88,460.70 L158.51,460.04 L159.14,459.38 L159.77,458.73 L160.40,458.08 L161.03,457.44 L161.66,456.80 L162.29,456.16 L162.92,455.52 L163.56,454.89 L164.19,454.27 L164.82,453.65 L165.45,453.03 L166.08,452.43 L166.71,451.82 L167.34,451.23 L167.97,450.64 L168.60,450.06 L169.23,449.49 L169.86,448.93 L170.49,448.38 L171.12,447.84 L171.75,447.30 L172.38,446.78 L173.02,446.27 L173.65,445.77 L174.28,445.28 L174.91,444.79 L175.54,444.32 L176.17,443.85 L176.80,443.39 L177.43,442.93 L178.06,442.48 L178.69,442.03 L179.32,441.57 L186.54,447.39 L193.82,455.79 L201.04,466.94 L208.40,485.12 L215.68,498.50 L222.97,504.51 L237.62,508.28 L317.20,508.97" fill="none" stroke="#000000" stroke-width="1.3" stroke-linejoin="round" clip-path="url(#cc)"/>
<path d="M201.76,323.20V338.29M199.16,323.20H204.36M199.16,338.29H204.36" stroke="#ff0000" stroke-width="1.1" fill="none" clip-path="url(#cc)"/>
<path d="M193.82,370.20V385.29M191.22,370.20H196.42M191.22,385.29H196.42" stroke="#0000ff" stroke-width="1.1" fill="none" clip-path="url(#cc)"/>
<path d="M287.62,437.27V473.29M285.02,437.27H290.22M285.02,473.29H290.22" stroke="#0000ff" stroke-width="1.1" fill="none" clip-path="url(#cc)"/>
<ellipse cx="201.76" cy="330.75" rx="3.75" ry="4.1" fill="#ff0000" clip-path="url(#cc)"/>
<ellipse cx="273.91" cy="408.28" rx="3.75" ry="4.1" fill="#ff0000" clip-path="url(#cc)"/>
<rect x="24.60" y="509.43" width="8.0" height="8.0" fill="#0000ff" clip-path="url(#cc)"/>
<rect x="89.53" y="501.02" width="8.0" height="8.0" fill="#0000ff" clip-path="url(#cc)"/>
<rect x="189.82" y="373.75" width="8.0" height="8.0" fill="#0000ff" clip-path="url(#cc)"/>
<rect x="197.76" y="464.83" width="8.0" height="8.0" fill="#0000ff" clip-path="url(#cc)"/>
<rect x="283.62" y="451.28" width="8.0" height="8.0" fill="#0000ff" clip-path="url(#cc)"/>
<path d="M25.20,516.03L32.00,522.83M25.20,522.83L32.00,516.03" stroke="#008000" stroke-width="1.1" fill="none" clip-path="url(#cc)"/>
<path d="M90.13,516.03L96.94,522.83M90.13,522.83L96.94,516.03" stroke="#008000" stroke-width="1.1" fill="none" clip-path="url(#cc)"/>
<path d="M186.09,515.52L192.89,522.32M186.09,522.32L192.89,515.52" stroke="#008000" stroke-width="1.1" fill="none" clip-path="url(#cc)"/>
<path d="M270.51,516.03L277.31,522.83M270.51,522.83L277.31,516.03" stroke="#008000" stroke-width="1.1" fill="none" clip-path="url(#cc)"/>
<path d="M28.60,512.81L31.95,517.71L28.60,522.61L25.25,517.71Z" fill="#000000" clip-path="url(#cc)"/>
<path d="M89.49,514.53L92.84,519.43L89.49,524.33L86.14,519.43Z" fill="#000000" clip-path="url(#cc)"/>
<path d="M100.17,514.53L103.52,519.43L100.17,524.33L96.82,519.43Z" fill="#000000" clip-path="url(#cc)"/>
<path d="M136.82,500.12L140.17,505.02L136.82,509.92L133.47,505.02Z" fill="#000000" clip-path="url(#cc)"/>
<path d="M187.33,484.68L190.68,489.58L187.33,494.48L183.98,489.58Z" fill="#000000" clip-path="url(#cc)"/>
<path d="M201.76,498.23L205.11,503.13L201.76,508.03L198.41,503.13Z" fill="#000000" clip-path="url(#cc)"/>
<path d="M268.14,494.98L271.49,499.88L268.14,504.78L264.79,499.88Z" fill="#000000" clip-path="url(#cc)"/>
<path d="M273.91,500.64L277.26,505.54L273.91,510.44L270.56,505.54Z" fill="#000000" clip-path="url(#cc)"/>
<ellipse cx="43.40" cy="324.60" rx="3.75" ry="4.1" fill="#ff0000"/>
<text text-rendering="geometricPrecision" transform="translate(57.80,327.50) scale(1.0,1.1)" text-anchor="start" font-size="8" font-family="Liberation Serif, serif" fill="#1a1a1a" stroke="#1a1a1a" stroke-width="0.18">data 5%</text>
<line x1="35.1" y1="336.80" x2="51.8" y2="336.80" stroke="#ff0000" stroke-width="1.3"/>
<text text-rendering="geometricPrecision" transform="translate(57.80,339.70) scale(1.0,1.1)" text-anchor="start" font-size="8" font-family="Liberation Serif, serif" fill="#1a1a1a" stroke="#1a1a1a" stroke-width="0.18">estimate 5%</text>
<rect x="39.40" y="345.00" width="8.0" height="8.0" fill="#0000ff"/>
<text text-rendering="geometricPrecision" transform="translate(57.80,351.90) scale(1.0,1.1)" text-anchor="start" font-size="8" font-family="Liberation Serif, serif" fill="#1a1a1a" stroke="#1a1a1a" stroke-width="0.18">data 10%</text>
<line x1="35.1" y1="361.20" x2="51.8" y2="361.20" stroke="#0000ff" stroke-width="1.3"/>
<text text-rendering="geometricPrecision" transform="translate(57.80,364.10) scale(1.0,1.1)" text-anchor="start" font-size="8" font-family="Liberation Serif, serif" fill="#1a1a1a" stroke="#1a1a1a" stroke-width="0.18">estimate 10%</text>
<path d="M40.00,370.00L46.80,376.80M40.00,376.80L46.80,370.00" stroke="#008000" stroke-width="1.1" fill="none"/>
<text text-rendering="geometricPrecision" transform="translate(57.80,376.30) scale(1.0,1.1)" text-anchor="start" font-size="8" font-family="Liberation Serif, serif" fill="#1a1a1a" stroke="#1a1a1a" stroke-width="0.18">data 20%</text>
<line x1="35.1" y1="385.60" x2="51.8" y2="385.60" stroke="#008000" stroke-width="1.3"/>
<text text-rendering="geometricPrecision" transform="translate(57.80,388.50) scale(1.0,1.1)" text-anchor="start" font-size="8" font-family="Liberation Serif, serif" fill="#1a1a1a" stroke="#1a1a1a" stroke-width="0.18">estimate 20%</text>
<path d="M43.40,392.90L46.75,397.80L43.40,402.70L40.05,397.80Z" fill="#000000"/>
<text text-rendering="geometricPrecision" transform="translate(57.80,400.70) scale(1.0,1.1)" text-anchor="start" font-size="8" font-family="Liberation Serif, serif" fill="#1a1a1a" stroke="#1a1a1a" stroke-width="0.18">data 40%</text>
<line x1="35.1" y1="410.00" x2="51.8" y2="410.00" stroke="#000000" stroke-width="1.3"/>
<text text-rendering="geometricPrecision" transform="translate(57.80,412.90) scale(1.0,1.1)" text-anchor="start" font-size="8" font-family="Liberation Serif, serif" fill="#1a1a1a" stroke="#1a1a1a" stroke-width="0.18">estimate 40%</text>
<rect x="28.6" y="314.5" width="288.60" height="214.96" fill="none" stroke="#6e6e6e" stroke-width="1.2"/>
<line x1="28.60" y1="529.46" x2="28.60" y2="532.76" stroke="#6e6e6e" stroke-width="1.2"/>
<text text-rendering="geometricPrecision" transform="translate(28.60,541.06) scale(0.92,1.1)" text-anchor="middle" font-size="8" font-family="Liberation Serif, serif" fill="#1a1a1a" stroke="#1a1a1a" stroke-width="0.18">0</text>
<line x1="64.67" y1="529.46" x2="64.67" y2="532.76" stroke="#6e6e6e" stroke-width="1.2"/>
<text text-rendering="geometricPrecision" transform="translate(64.67,541.06) scale(0.92,1.1)" text-anchor="middle" font-size="8" font-family="Liberation Serif, serif" fill="#1a1a1a" stroke="#1a1a1a" stroke-width="0.18">5</text>
<line x1="100.75" y1="529.46" x2="100.75" y2="532.76" stroke="#6e6e6e" stroke-width="1.2"/>
<text text-rendering="geometricPrecision" transform="translate(100.75,541.06) scale(0.92,1.1)" text-anchor="middle" font-size="8" font-family="Liberation Serif, serif" fill="#1a1a1a" stroke="#1a1a1a" stroke-width="0.18">10</text>
<line x1="136.82" y1="529.46" x2="136.82" y2="532.76" stroke="#6e6e6e" stroke-width="1.2"/>
<text text-rendering="geometricPrecision" transform="translate(136.82,541.06) scale(0.92,1.1)" text-anchor="middle" font-size="8" font-family="Liberation Serif, serif" fill="#1a1a1a" stroke="#1a1a1a" stroke-width="0.18">15</text>
<line x1="172.90" y1="529.46" x2="172.90" y2="532.76" stroke="#6e6e6e" stroke-width="1.2"/>
<text text-rendering="geometricPrecision" transform="translate(172.90,541.06) scale(0.92,1.1)" text-anchor="middle" font-size="8" font-family="Liberation Serif, serif" fill="#1a1a1a" stroke="#1a1a1a" stroke-width="0.18">20</text>
<line x1="208.97" y1="529.46" x2="208.97" y2="532.76" stroke="#6e6e6e" stroke-width="1.2"/>
<text text-rendering="geometricPrecision" transform="translate(208.97,541.06) scale(0.92,1.1)" text-anchor="middle" font-size="8" font-family="Liberation Serif, serif" fill="#1a1a1a" stroke="#1a1a1a" stroke-width="0.18">25</text>
<line x1="245.05" y1="529.46" x2="245.05" y2="532.76" stroke="#6e6e6e" stroke-width="1.2"/>
<text text-rendering="geometricPrecision" transform="translate(245.05,541.06) scale(0.92,1.1)" text-anchor="middle" font-size="8" font-family="Liberation Serif, serif" fill="#1a1a1a" stroke="#1a1a1a" stroke-width="0.18">30</text>
<line x1="281.12" y1="529.46" x2="281.12" y2="532.76" stroke="#6e6e6e" stroke-width="1.2"/>
<text text-rendering="geometricPrecision" transform="translate(281.12,541.06) scale(0.92,1.1)" text-anchor="middle" font-size="8" font-family="Liberation Serif, serif" fill="#1a1a1a" stroke="#1a1a1a" stroke-width="0.18">35</text>
<line x1="317.20" y1="529.46" x2="317.20" y2="532.76" stroke="#6e6e6e" stroke-width="1.2"/>
<text text-rendering="geometricPrecision" transform="translate(317.20,541.06) scale(0.92,1.1)" text-anchor="middle" font-size="8" font-family="Liberation Serif, serif" fill="#1a1a1a" stroke="#1a1a1a" stroke-width="0.18">40</text>
<line x1="25.20" y1="519.43" x2="28.6" y2="519.43" stroke="#6e6e6e" stroke-width="1.2"/>
<text text-rendering="geometricPrecision" transform="translate(21.80,522.33) scale(0.9,1.1)" text-anchor="end" font-size="8" font-family="Liberation Serif, serif" fill="#1a1a1a" stroke="#1a1a1a" stroke-width="0.18">0.0</text>
<line x1="25.20" y1="485.12" x2="28.6" y2="485.12" stroke="#6e6e6e" stroke-width="1.2"/>
<text text-rendering="geometricPrecision" transform="translate(21.80,488.02) scale(0.9,1.1)" text-anchor="end" font-size="8" font-family="Liberation Serif, serif" fill="#1a1a1a" stroke="#1a1a1a" stroke-width="0.18">0.2</text>
<line x1="25.20" y1="450.82" x2="28.6" y2="450.82" stroke="#6e6e6e" stroke-width="1.2"/>
<text text-rendering="geometricPrecision" transform="translate(21.80,453.72) scale(0.9,1.1)" text-anchor="end" font-size="8" font-family="Liberation Serif, serif" fill="#1a1a1a" stroke="#1a1a1a" stroke-width="0.18">0.4</text>
<line x1="25.20" y1="416.51" x2="28.6" y2="416.51" stroke="#6e6e6e" stroke-width="1.2"/>
<text text-rendering="geometricPrecision" transform="translate(21.80,419.41) scale(0.9,1.1)" text-anchor="end" font-size="8" font-family="Liberation Serif, serif" fill="#1a1a1a" stroke="#1a1a1a" stroke-width="0.18">0.6</text>
<line x1="25.20" y1="382.21" x2="28.6" y2="382.21" stroke="#6e6e6e" stroke-width="1.2"/>
<text text-rendering="geometricPrecision" transform="translate(21.80,385.11) scale(0.9,1.1)" text-anchor="end" font-size="8" font-family="Liberation Serif, serif" fill="#1a1a1a" stroke="#1a1a1a" stroke-width="0.18">0.8</text>
<line x1="25.20" y1="347.90" x2="28.6" y2="347.90" stroke="#6e6e6e" stroke-width="1.2"/>
<text text-rendering="geometricPrecision" transform="translate(21.80,350.80) scale(0.9,1.1)" text-anchor="end" font-size="8" font-family="Liberation Serif, serif" fill="#1a1a1a" stroke="#1a1a1a" stroke-width="0.18">1.0</text>
<text text-rendering="geometricPrecision" transform="translate(172.90,552.40) scale(1.0,1.1)" text-anchor="middle" font-size="8" font-family="Liberation Serif, serif" fill="#1a1a1a" stroke="#1a1a1a" stroke-width="0.18">Time (h)</text>
<text text-rendering="geometricPrecision" transform="translate(7.70,422.00) rotate(-90) scale(1.0,1.1)" text-anchor="middle" font-size="8" font-family="Liberation Serif, serif" fill="#1a1a1a" stroke="#1a1a1a" stroke-width="0.18">Concentration (mg/L)</text>
<text text-rendering="geometricPrecision" transform="translate(168.30,585.50) scale(1.0,1.1)" text-anchor="middle" font-size="18.3" font-family="Liberation Serif, serif" fill="#2a2a2a">(c)</text>
<path d="M407.90,511.56 L408.81,511.55 L409.72,511.53 L410.63,511.52 L411.54,511.51 L412.45,511.49 L413.36,511.48 L414.27,511.46 L415.18,511.44 L416.09,511.43 L416.99,511.40 L417.90,511.38 L418.81,511.35 L419.72,511.33 L420.63,511.29 L421.54,511.26 L422.45,511.22 L423.36,511.18 L424.27,511.14 L425.18,511.09 L426.09,511.03 L427.00,510.98 L427.91,510.92 L428.82,510.86 L429.73,510.79 L430.64,510.72 L431.55,510.64 L432.46,510.57 L433.37,510.48 L434.27,510.40 L435.18,510.30 L436.09,510.21 L437.00,510.11 L437.91,510.01 L438.82,509.90 L439.73,509.79 L440.64,509.67 L441.55,509.55 L442.46,509.43 L443.37,509.30 L444.28,509.17 L445.19,509.04 L446.10,508.90 L447.01,508.76 L447.92,508.62 L448.83,508.47 L449.74,508.32 L450.65,508.17 L451.55,508.01 L452.46,507.86 L453.37,507.69 L454.28,507.53 L455.19,507.36 L456.10,507.19 L457.01,507.01 L457.92,506.82 L458.83,506.63 L459.74,506.43 L460.65,506.22 L461.56,506.00 L462.47,505.78 L463.38,505.54 L464.29,505.30 L465.20,505.04 L466.11,504.77 L467.02,504.50 L467.92,504.21 L468.83,503.90 L469.74,503.59 L470.65,503.26 L471.56,502.91 L472.47,502.55 L473.38,502.18 L474.29,501.79 L475.20,501.39 L476.11,500.97 L477.02,500.53 L477.93,500.09 L478.84,499.62 L479.75,499.15 L480.66,498.66 L481.57,498.15 L482.48,497.63 L483.39,497.10 L484.30,496.55 L485.20,495.98 L486.11,495.40 L487.02,494.81 L487.93,494.20 L488.84,493.58 L489.75,492.95 L490.66,492.30 L491.57,491.63 L492.48,490.96 L493.39,490.26 L494.30,489.56 L495.21,488.84 L496.12,488.10 L497.03,487.35 L497.94,486.59 L498.85,485.82 L499.76,485.04 L500.67,484.25 L501.58,483.45 L502.48,482.65 L503.39,481.83 L504.30,481.02 L505.21,480.20 L506.12,479.38 L507.03,478.56 L507.94,477.73 L508.85,476.91 L509.76,476.09 L510.67,475.28 L511.58,474.46 L512.49,473.66 L513.40,472.86 L514.31,472.07 L515.22,471.28 L516.13,470.50 L517.04,469.72 L517.95,468.95 L518.86,468.18 L519.76,467.41 L520.67,466.65 L521.58,465.89 L522.49,465.13 L523.40,464.37 L524.31,463.61 L525.22,462.85 L526.13,462.08 L527.04,461.32 L527.95,460.55 L528.86,459.78 L529.77,459.01 L530.68,458.23 L531.59,457.44 L532.50,456.65 L533.41,455.86 L534.32,455.06 L535.23,454.26 L536.14,453.45 L537.04,452.64 L537.95,451.83 L538.86,451.01 L539.77,450.19 L540.68,449.36 L541.59,448.53 L542.50,447.70 L543.41,446.86 L544.32,446.02 L545.23,445.18 L546.14,444.33 L547.05,443.49 L547.96,442.63 L548.87,441.78 L549.78,440.92 L550.69,440.06 L551.60,439.19 L552.51,438.32 L553.42,437.44 L554.32,436.56 L555.23,435.67 L556.14,434.78 L557.05,433.88 L557.96,432.97 L558.87,432.06 L559.78,431.13 L560.69,430.21 L561.60,429.27 L562.51,428.32 L563.42,427.37 L564.33,426.41 L565.24,425.43 L566.15,424.45 L567.06,423.46 L567.97,422.45 L568.88,421.44 L569.79,420.41 L570.69,419.38 L571.60,418.33 L572.51,417.28 L573.42,416.22 L574.33,415.15 L575.24,414.07 L576.15,413.00 L577.06,411.92 L577.97,410.84 L583.16,389.94 L588.43,380.67 L595.71,377.67 L596.63,379.50 L597.54,381.44 L598.46,383.50 L599.37,385.66 L600.29,387.92 L601.21,390.27 L602.12,392.71 L603.04,395.22 L603.95,397.92 L604.87,400.84 L605.78,403.93 L606.70,407.11 L607.61,410.34 L608.53,413.54 L609.44,416.65 L610.36,419.62 L611.27,422.54 L612.19,425.48 L613.10,428.40 L614.02,431.28 L614.94,434.07 L615.85,436.74 L616.77,439.25 L617.68,441.56 L618.60,443.75 L619.51,445.87 L620.43,447.91 L621.34,449.89 L622.26,451.79 L623.17,453.62 L624.09,455.36 L625.00,457.02 L625.92,458.60 L626.83,460.09 L627.75,461.49 L628.67,462.85 L629.58,464.17 L630.50,465.44 L631.41,466.68 L632.33,467.86 L633.24,469.01 L634.16,470.11 L635.07,471.17 L635.99,472.18 L636.90,473.14 L637.82,474.05 L638.73,474.92 L639.65,475.74 L640.56,476.54 L641.48,477.33 L642.40,478.11 L643.31,478.87 L644.23,479.60 L645.14,480.30 L646.06,480.97 L646.97,481.59 L647.89,482.18 L648.80,482.71 L649.72,483.18 L650.63,483.60 L651.55,483.94 L652.46,484.25 L653.38,484.54 L654.29,484.82 L655.21,485.09 L656.13,485.35 L657.04,485.61 L657.96,485.85 L658.87,486.08 L659.79,486.31 L660.70,486.53 L661.62,486.73 L662.53,486.93 L663.45,487.12 L664.36,487.30 L665.28,487.48 L666.19,487.64 L667.11,487.80 L668.02,487.95 L668.94,488.09 L669.86,488.22 L670.77,488.34 L671.69,488.46 L672.60,488.56 L673.52,488.66 L674.43,488.76 L675.35,488.84 L676.26,488.92 L677.18,489.00 L678.09,489.07 L679.01,489.14 L679.92,489.22 L680.84,489.29 L681.75,489.36 L682.67,489.42 L683.59,489.49 L684.50,489.55 L685.42,489.61 L686.33,489.66 L687.25,489.71 L688.16,489.76 L689.08,489.81 L689.99,489.85 L690.91,489.88 L691.82,489.91 L692.74,489.94 L693.65,489.96 L694.57,489.98 L695.48,489.98 L696.40,489.99" fill="none" stroke="#ff0000" stroke-width="1.3" stroke-linejoin="round" clip-path="url(#cd)"/>
<path d="M407.90,518.36 L408.81,518.24 L409.72,518.13 L410.63,518.01 L411.54,517.90 L412.45,517.78 L413.35,517.66 L414.26,517.54 L415.17,517.42 L416.08,517.30 L416.99,517.18 L417.90,517.06 L418.81,516.93 L419.72,516.80 L420.63,516.68 L421.54,516.55 L422.45,516.41 L423.35,516.28 L424.26,516.14 L425.17,516.00 L426.08,515.86 L426.99,515.71 L427.90,515.57 L428.81,515.42 L429.72,515.26 L430.63,515.10 L431.54,514.94 L432.45,514.78 L433.36,514.61 L434.26,514.44 L435.17,514.26 L436.08,514.08 L436.99,513.90 L437.90,513.71 L438.81,513.52 L439.72,513.32 L440.63,513.12 L441.54,512.91 L442.45,512.70 L443.36,512.49 L444.26,512.27 L445.17,512.05 L446.08,511.82 L446.99,511.60 L447.90,511.36 L448.81,511.13 L449.72,510.89 L450.63,510.65 L451.54,510.40 L452.45,510.15 L453.36,509.90 L454.26,509.64 L455.17,509.38 L456.08,509.12 L456.99,508.84 L457.90,508.57 L458.81,508.28 L459.72,507.99 L460.63,507.70 L461.54,507.40 L462.45,507.09 L463.36,506.77 L464.26,506.44 L465.17,506.11 L466.08,505.76 L466.99,505.41 L467.90,505.04 L468.81,504.67 L469.72,504.29 L470.63,503.89 L471.54,503.49 L472.45,503.07 L473.36,502.64 L474.27,502.20 L475.17,501.75 L476.08,501.29 L476.99,500.82 L477.90,500.33 L478.81,499.83 L479.72,499.32 L480.63,498.80 L481.54,498.27 L482.45,497.73 L483.36,497.17 L484.27,496.61 L485.17,496.03 L486.08,495.44 L486.99,494.84 L487.90,494.22 L488.81,493.60 L489.72,492.96 L490.63,492.32 L491.54,491.66 L492.45,490.99 L493.36,490.30 L494.27,489.61 L495.17,488.90 L496.08,488.18 L496.99,487.46 L497.90,486.72 L498.81,485.97 L499.72,485.21 L500.63,484.44 L501.54,483.67 L502.45,482.89 L503.36,482.10 L504.27,481.31 L505.17,480.51 L506.08,479.71 L506.99,478.91 L507.90,478.10 L508.81,477.29 L509.72,476.49 L510.63,475.68 L511.54,474.87 L512.45,474.07 L513.36,473.27 L514.27,472.47 L515.18,471.67 L516.08,470.88 L516.99,470.09 L517.90,469.30 L518.81,468.52 L519.72,467.74 L520.63,466.97 L521.54,466.20 L522.45,465.43 L523.36,464.67 L524.27,463.92 L525.18,463.17 L526.08,462.42 L526.99,461.68 L527.90,460.95 L528.81,460.22 L529.72,459.50 L530.63,458.78 L531.54,458.07 L532.45,457.36 L533.36,456.65 L534.27,455.94 L535.18,455.22 L536.08,454.50 L536.99,453.77 L537.90,453.03 L538.81,452.27 L539.72,451.50 L540.63,450.71 L541.54,449.90 L542.45,449.07 L543.36,448.22 L544.27,447.33 L545.18,446.42 L546.08,445.48 L546.99,444.50 L547.90,443.49 L548.81,442.45 L549.72,441.37 L550.63,440.27 L551.54,439.13 L552.45,437.97 L553.36,436.78 L554.27,435.57 L555.18,434.34 L556.09,433.09 L556.99,431.82 L557.90,430.54 L558.81,429.25 L559.72,427.94 L560.63,426.62 L561.54,425.30 L562.45,423.97 L563.36,422.64 L564.27,421.30 L576.31,418.29 L588.43,414.75 L595.71,425.65 L596.63,427.82 L597.54,429.96 L598.46,432.04 L599.37,434.08 L600.29,436.06 L601.21,437.96 L602.12,439.79 L603.04,441.53 L603.95,443.21 L604.87,444.83 L605.78,446.41 L606.70,447.94 L607.61,449.44 L608.53,450.90 L609.44,452.33 L610.36,453.74 L611.27,455.12 L612.19,456.47 L613.10,457.81 L614.02,459.14 L614.94,460.46 L615.85,461.77 L616.77,463.10 L617.68,464.43 L618.60,465.76 L619.51,467.08 L620.43,468.38 L621.34,469.65 L622.26,470.88 L623.17,472.07 L624.09,473.20 L625.00,474.27 L625.92,475.27 L626.83,476.19 L627.75,477.03 L628.67,477.84 L629.58,478.63 L630.50,479.40 L631.41,480.13 L632.33,480.84 L633.24,481.51 L634.16,482.16 L635.07,482.76 L635.99,483.33 L636.90,483.86 L637.82,484.34 L638.73,484.78 L639.65,485.18 L640.56,485.55 L641.48,485.91 L642.40,486.26 L643.31,486.61 L644.23,486.93 L645.14,487.25 L646.06,487.56 L646.97,487.85 L647.89,488.12 L648.80,488.39 L649.72,488.64 L650.63,488.87 L651.55,489.09 L652.46,489.29 L653.38,489.48 L654.29,489.65 L655.21,489.80 L656.13,489.94 L657.04,490.06 L657.96,490.17 L658.87,490.29 L659.79,490.40 L660.70,490.51 L661.62,490.62 L662.53,490.73 L663.45,490.84 L664.36,490.94 L665.28,491.05 L666.19,491.15 L667.11,491.25 L668.02,491.35 L668.94,491.44 L669.86,491.53 L670.77,491.62 L671.69,491.71 L672.60,491.80 L673.52,491.88 L674.43,491.96 L675.35,492.04 L676.26,492.12 L677.18,492.19 L678.09,492.26 L679.01,492.33 L679.92,492.39 L680.84,492.45 L681.75,492.51 L682.67,492.57 L683.59,492.62 L684.50,492.67 L685.42,492.71 L686.33,492.76 L687.25,492.79 L688.16,492.83 L689.08,492.86 L689.99,492.89 L690.91,492.92 L691.82,492.94 L692.74,492.95 L693.65,492.97 L694.57,492.98 L695.48,492.98 L696.40,492.99" fill="none" stroke="#0000ff" stroke-width="1.3" stroke-linejoin="round" clip-path="url(#cd)"/>
<path d="M407.90,518.36 L408.81,518.24 L409.71,518.13 L410.62,518.01 L411.53,517.90 L412.44,517.78 L413.34,517.66 L414.25,517.54 L415.16,517.42 L416.06,517.30 L416.97,517.18 L417.88,517.06 L418.79,516.93 L419.69,516.81 L420.60,516.68 L421.51,516.55 L422.41,516.42 L423.32,516.28 L424.23,516.15 L425.14,516.01 L426.04,515.87 L426.95,515.72 L427.86,515.57 L428.77,515.42 L429.67,515.27 L430.58,515.11 L431.49,514.95 L432.39,514.79 L433.30,514.62 L434.21,514.45 L435.12,514.27 L436.02,514.09 L436.93,513.91 L437.84,513.72 L438.74,513.53 L439.65,513.33 L440.56,513.13 L441.47,512.93 L442.37,512.72 L443.28,512.51 L444.19,512.29 L445.09,512.07 L446.00,511.84 L446.91,511.62 L447.82,511.39 L448.72,511.15 L449.63,510.91 L450.54,510.67 L451.44,510.43 L452.35,510.18 L453.26,509.93 L454.17,509.67 L455.07,509.41 L455.98,509.15 L456.89,508.88 L457.79,508.60 L458.70,508.32 L459.61,508.03 L460.52,507.74 L461.42,507.44 L462.33,507.13 L463.24,506.81 L464.15,506.48 L465.05,506.15 L465.96,505.81 L466.87,505.46 L467.77,505.10 L468.68,504.73 L469.59,504.35 L470.50,503.95 L471.40,503.55 L472.31,503.14 L473.22,502.71 L474.12,502.27 L475.03,501.83 L475.94,501.37 L476.85,500.89 L477.75,500.41 L478.66,499.92 L479.57,499.41 L480.47,498.89 L481.38,498.36 L482.29,497.82 L483.20,497.27 L484.10,496.70 L485.01,496.13 L485.92,495.54 L486.82,494.94 L487.73,494.33 L488.64,493.71 L489.55,493.07 L490.45,492.43 L491.36,491.77 L492.27,491.10 L493.17,490.42 L494.08,489.72 L494.99,489.02 L495.90,488.30 L496.80,487.57 L497.71,486.83 L498.62,486.08 L499.53,485.32 L500.43,484.56 L501.34,483.78 L502.25,483.00 L503.15,482.22 L504.06,481.43 L504.97,480.64 L505.88,479.85 L506.78,479.06 L507.69,478.26 L508.60,477.47 L509.50,476.68 L510.41,475.89 L511.32,475.11 L512.23,474.33 L513.13,473.56 L514.04,472.79 L514.95,472.03 L515.85,471.28 L516.76,470.53 L517.67,469.79 L518.58,469.06 L519.48,468.33 L520.39,467.60 L521.30,466.88 L522.20,466.16 L523.11,465.45 L524.02,464.75 L524.93,464.04 L525.83,463.34 L526.74,462.65 L527.65,461.96 L528.55,461.27 L529.46,460.59 L530.37,459.90 L531.28,459.23 L532.18,458.55 L533.09,457.87 L534.00,457.19 L534.91,456.51 L535.81,455.82 L536.72,455.13 L537.63,454.42 L538.53,453.72 L539.44,453.00 L540.35,452.27 L541.26,451.53 L542.16,450.77 L543.07,450.00 L543.98,449.21 L544.88,448.40 L545.79,447.58 L546.70,446.73 L547.61,445.86 L548.51,444.98 L549.42,444.07 L550.33,443.14 L551.23,442.20 L552.14,441.25 L553.05,440.29 L553.96,439.33 L554.86,438.35 L555.77,437.38 L556.68,436.41 L557.58,435.44 L558.49,434.47 L559.40,433.51 L560.31,432.56 L561.21,431.63 L562.12,430.70 L563.03,429.80 L563.94,428.91 L564.84,428.05 L565.75,427.20 L566.66,426.38 L567.56,425.58 L568.47,424.80 L569.38,424.03 L570.29,423.29 L571.19,422.56 L572.10,421.85 L573.01,421.15 L573.91,420.47 L574.82,419.80 L575.73,419.14 L576.64,418.50 L577.54,417.86 L578.45,417.24 L579.36,416.62 L580.26,416.02 L581.17,415.42 L582.08,414.83 L582.99,414.24 L583.89,413.66 L584.80,413.08 L585.71,412.51 L586.61,411.94 L587.52,411.37 L588.43,410.80 L603.00,381.76 L610.28,383.40 L617.64,378.22 L623.70,379.31 L632.21,407.39 L633.13,410.89 L634.04,414.28 L634.96,417.57 L635.88,420.73 L636.79,423.76 L637.71,426.65 L638.63,429.40 L639.54,431.99 L640.46,434.47 L641.38,436.87 L642.30,439.17 L643.21,441.36 L644.13,443.45 L645.05,445.43 L645.96,447.28 L646.88,449.00 L647.80,450.64 L648.72,452.21 L649.63,453.71 L650.55,455.15 L651.47,456.53 L652.38,457.86 L653.30,459.14 L654.22,460.37 L655.13,461.56 L656.05,462.71 L656.97,463.82 L657.89,464.92 L658.80,466.00 L659.72,467.06 L660.64,468.09 L661.55,469.07 L662.47,470.01 L663.39,470.89 L664.30,471.70 L665.22,472.44 L666.14,473.11 L667.06,473.71 L667.97,474.29 L668.89,474.84 L669.81,475.37 L670.72,475.87 L671.64,476.35 L672.56,476.80 L673.47,477.24 L674.39,477.66 L675.31,478.07 L676.23,478.46 L677.14,478.84 L678.06,479.21 L678.98,479.57 L679.89,479.93 L680.81,480.28 L681.73,480.62 L682.64,480.96 L683.56,481.30 L684.48,481.62 L685.40,481.94 L686.31,482.26 L687.23,482.56 L688.15,482.86 L689.06,483.14 L689.98,483.42 L690.90,483.69 L691.81,483.95 L692.73,484.20 L693.65,484.44 L694.57,484.66 L695.48,484.88 L696.40,485.08" fill="none" stroke="#008000" stroke-width="1.3" stroke-linejoin="round" clip-path="url(#cd)"/>
<path d="M407.90,507.19 L408.81,507.31 L409.72,507.42 L410.63,507.53 L411.54,507.64 L412.45,507.75 L413.36,507.86 L414.27,507.97 L415.18,508.08 L416.09,508.18 L417.00,508.29 L417.91,508.39 L418.82,508.49 L419.73,508.58 L420.64,508.68 L421.55,508.77 L422.46,508.86 L423.37,508.94 L424.28,509.02 L425.19,509.10 L426.10,509.17 L427.01,509.23 L427.92,509.29 L428.83,509.34 L429.74,509.39 L430.65,509.43 L431.56,509.46 L432.47,509.48 L433.38,509.49 L434.29,509.49 L435.20,509.49 L436.11,509.47 L437.02,509.44 L437.93,509.40 L438.85,509.35 L439.76,509.29 L440.67,509.22 L441.58,509.14 L442.49,509.05 L443.40,508.95 L444.31,508.85 L445.22,508.74 L446.13,508.63 L447.04,508.51 L447.95,508.39 L448.86,508.26 L449.77,508.13 L450.68,507.99 L451.59,507.86 L452.50,507.72 L453.41,507.58 L454.32,507.43 L455.23,507.28 L456.14,507.13 L457.05,506.96 L457.96,506.80 L458.87,506.62 L459.78,506.44 L460.69,506.24 L461.60,506.04 L462.51,505.82 L463.42,505.60 L464.33,505.36 L465.24,505.11 L466.15,504.84 L467.06,504.56 L467.97,504.26 L468.88,503.95 L469.79,503.62 L470.70,503.27 L471.61,502.90 L472.52,502.51 L473.43,502.10 L474.34,501.68 L475.25,501.23 L476.16,500.76 L477.07,500.27 L477.98,499.76 L478.89,499.24 L479.80,498.69 L480.71,498.13 L481.62,497.55 L482.53,496.96 L483.44,496.35 L484.35,495.73 L485.26,495.09 L486.17,494.44 L487.08,493.78 L487.99,493.10 L488.90,492.41 L489.81,491.72 L490.72,491.01 L491.63,490.30 L492.54,489.57 L493.45,488.84 L494.36,488.10 L495.27,487.35 L496.18,486.60 L497.09,485.85 L498.00,485.08 L498.91,484.32 L499.83,483.55 L500.74,482.77 L501.65,482.00 L502.56,481.22 L503.47,480.44 L504.38,479.66 L505.29,478.87 L506.20,478.09 L507.11,477.30 L508.02,476.52 L508.93,475.73 L509.84,474.95 L510.75,474.17 L511.66,473.39 L512.57,472.61 L513.48,471.83 L514.39,471.06 L515.30,470.29 L516.21,469.52 L517.12,468.75 L518.03,467.99 L518.94,467.23 L519.85,466.47 L520.76,465.71 L521.67,464.94 L522.58,464.19 L523.49,463.43 L524.40,462.67 L525.31,461.91 L526.22,461.14 L527.13,460.38 L528.04,459.62 L528.95,458.86 L529.86,458.09 L530.77,457.32 L531.68,456.55 L532.59,455.78 L533.50,455.00 L534.41,454.21 L535.32,453.41 L536.23,452.61 L537.14,451.79 L538.05,450.97 L538.96,450.13 L539.87,449.27 L540.78,448.41 L541.69,447.52 L542.60,446.62 L543.51,445.69 L544.42,444.75 L545.33,443.79 L546.24,442.80 L547.15,441.79 L548.06,440.75 L548.97,439.69 L549.88,438.61 L550.79,437.51 L551.70,436.39 L552.61,435.25 L553.52,434.10 L554.43,432.93 L555.34,431.75 L556.25,430.57 L557.16,429.37 L558.07,428.17 L558.98,426.96 L559.89,425.75 L560.80,424.54 L567.73,410.66 L576.31,406.30 L588.43,405.48 L595.71,417.20 L596.63,419.86 L597.54,422.47 L598.46,425.01 L599.37,427.50 L600.29,429.91 L601.21,432.24 L602.12,434.49 L603.04,436.64 L603.95,438.75 L604.87,440.83 L605.78,442.88 L606.70,444.88 L607.61,446.82 L608.53,448.70 L609.44,450.51 L610.36,452.22 L611.27,453.84 L612.19,455.34 L613.10,456.73 L614.02,458.06 L614.94,459.33 L615.85,460.56 L616.77,461.75 L617.68,462.89 L618.60,463.99 L619.51,465.06 L620.43,466.09 L621.34,467.10 L622.26,468.07 L623.17,469.03 L624.09,469.96 L625.00,470.87 L625.92,471.76 L626.83,472.64 L627.75,473.51 L628.67,474.39 L629.58,475.27 L630.50,476.15 L631.41,477.02 L632.33,477.87 L633.24,478.69 L634.16,479.48 L635.07,480.22 L635.99,480.91 L636.90,481.54 L637.82,482.10 L638.73,482.59 L639.65,482.99 L640.56,483.37 L641.48,483.72 L642.40,484.07 L643.31,484.39 L644.23,484.71 L645.14,485.01 L646.06,485.29 L646.97,485.56 L647.89,485.82 L648.80,486.06 L649.72,486.29 L650.63,486.50 L651.55,486.70 L652.46,486.88 L653.38,487.05 L654.29,487.21 L655.21,487.35 L656.13,487.48 L657.04,487.60 L657.96,487.72 L658.87,487.83 L659.79,487.94 L660.70,488.05 L661.62,488.16 L662.53,488.27 L663.45,488.38 L664.36,488.48 L665.28,488.58 L666.19,488.69 L667.11,488.78 L668.02,488.88 L668.94,488.98 L669.86,489.07 L670.77,489.16 L671.69,489.25 L672.60,489.33 L673.52,489.42 L674.43,489.50 L675.35,489.58 L676.26,489.65 L677.18,489.73 L678.09,489.80 L679.01,489.86 L679.92,489.93 L680.84,489.99 L681.75,490.05 L682.67,490.11 L683.59,490.16 L684.50,490.21 L685.42,490.25 L686.33,490.30 L687.25,490.34 L688.16,490.37 L689.08,490.41 L689.99,490.44 L690.91,490.46 L691.82,490.48 L692.74,490.50 L693.65,490.51 L694.57,490.52 L695.48,490.53 L696.40,490.53" fill="none" stroke="#000000" stroke-width="1.3" stroke-linejoin="round" clip-path="url(#cd)"/>
<path d="M407.90,498.17V516.16M405.30,498.17H410.50M405.30,516.16H410.50" stroke="#000000" stroke-width="1.1" fill="none" clip-path="url(#cd)"/>
<path d="M581.00,381.21V392.12M578.40,381.21H583.60M578.40,392.12H583.60" stroke="#ff0000" stroke-width="1.1" fill="none" clip-path="url(#cd)"/>
<path d="M573.64,412.29V422.65M571.04,412.29H576.24M571.04,422.65H576.24" stroke="#0000ff" stroke-width="1.1" fill="none" clip-path="url(#cd)"/>
<path d="M653.63,325.06V330.51M651.03,325.06H656.23M651.03,330.51H656.23" stroke="#ff0000" stroke-width="1.1" fill="none" clip-path="url(#cd)"/>
<path d="M667.55,357.22V471.72M664.95,357.22H670.15M664.95,471.72H670.15" stroke="#0000ff" stroke-width="1.1" fill="none" clip-path="url(#cd)"/>
<path d="M648.08,448.01V498.17M645.48,448.01H650.68M645.48,498.17H650.68" stroke="#000000" stroke-width="1.1" fill="none" clip-path="url(#cd)"/>
<ellipse cx="407.90" cy="511.52" rx="3.75" ry="4.1" fill="#ff0000" clip-path="url(#cd)"/>
<ellipse cx="472.81" cy="508.80" rx="3.75" ry="4.1" fill="#ff0000" clip-path="url(#cd)"/>
<ellipse cx="581.00" cy="386.67" rx="3.75" ry="4.1" fill="#ff0000" clip-path="url(#cd)"/>
<ellipse cx="653.63" cy="327.78" rx="3.75" ry="4.1" fill="#ff0000" clip-path="url(#cd)"/>
<rect x="403.90" y="511.61" width="8.0" height="8.0" fill="#0000ff" clip-path="url(#cd)"/>
<rect x="468.81" y="499.35" width="8.0" height="8.0" fill="#0000ff" clip-path="url(#cd)"/>
<rect x="569.64" y="413.47" width="8.0" height="8.0" fill="#0000ff" clip-path="url(#cd)"/>
<rect x="577.00" y="463.09" width="8.0" height="8.0" fill="#0000ff" clip-path="url(#cd)"/>
<rect x="663.55" y="410.47" width="8.0" height="8.0" fill="#0000ff" clip-path="url(#cd)"/>
<path d="M404.50,516.03L411.30,522.83M404.50,522.83L411.30,516.03" stroke="#008000" stroke-width="1.1" fill="none" clip-path="url(#cd)"/>
<path d="M469.41,510.58L476.21,517.38M469.41,517.38L476.21,510.58" stroke="#008000" stroke-width="1.1" fill="none" clip-path="url(#cd)"/>
<path d="M565.34,505.67L572.14,512.47M565.34,512.47L572.14,505.67" stroke="#008000" stroke-width="1.1" fill="none" clip-path="url(#cd)"/>
<path d="M650.23,507.58L657.03,514.38M650.23,514.38L657.03,507.58" stroke="#008000" stroke-width="1.1" fill="none" clip-path="url(#cd)"/>
<path d="M407.90,502.26L411.25,507.16L407.90,512.06L404.55,507.16Z" fill="#000000" clip-path="url(#cd)"/>
<path d="M468.99,514.53L472.34,519.43L468.99,524.33L465.64,519.43Z" fill="#000000" clip-path="url(#cd)"/>
<path d="M479.74,514.53L483.09,519.43L479.74,524.33L476.39,519.43Z" fill="#000000" clip-path="url(#cd)"/>
<path d="M516.02,482.91L519.37,487.81L516.02,492.71L512.67,487.81Z" fill="#000000" clip-path="url(#cd)"/>
<path d="M566.86,405.48L570.21,410.38L566.86,415.28L563.51,410.38Z" fill="#000000" clip-path="url(#cd)"/>
<path d="M581.00,436.56L584.35,441.46L581.00,446.36L577.65,441.46Z" fill="#000000" clip-path="url(#cd)"/>
<path d="M648.08,468.19L651.43,473.09L648.08,477.99L644.73,473.09Z" fill="#000000" clip-path="url(#cd)"/>
<path d="M653.63,451.83L656.98,456.73L653.63,461.63L650.28,456.73Z" fill="#000000" clip-path="url(#cd)"/>
<ellipse cx="423.20" cy="324.60" rx="3.75" ry="4.1" fill="#ff0000"/>
<text text-rendering="geometricPrecision" transform="translate(437.60,327.50) scale(1.0,1.1)" text-anchor="start" font-size="8" font-family="Liberation Serif, serif" fill="#1a1a1a" stroke="#1a1a1a" stroke-width="0.18">data 5%</text>
<line x1="414.4" y1="336.80" x2="431.8" y2="336.80" stroke="#ff0000" stroke-width="1.3"/>
<text text-rendering="geometricPrecision" transform="translate(437.60,339.70) scale(1.0,1.1)" text-anchor="start" font-size="8" font-family="Liberation Serif, serif" fill="#1a1a1a" stroke="#1a1a1a" stroke-width="0.18">estimate 5%</text>
<rect x="419.20" y="345.00" width="8.0" height="8.0" fill="#0000ff"/>
<text text-rendering="geometricPrecision" transform="translate(437.60,351.90) scale(1.0,1.1)" text-anchor="start" font-size="8" font-family="Liberation Serif, serif" fill="#1a1a1a" stroke="#1a1a1a" stroke-width="0.18">data 10%</text>
<line x1="414.4" y1="361.20" x2="431.8" y2="361.20" stroke="#0000ff" stroke-width="1.3"/>
<text text-rendering="geometricPrecision" transform="translate(437.60,364.10) scale(1.0,1.1)" text-anchor="start" font-size="8" font-family="Liberation Serif, serif" fill="#1a1a1a" stroke="#1a1a1a" stroke-width="0.18">estimate 10%</text>
<path d="M419.80,370.00L426.60,376.80M419.80,376.80L426.60,370.00" stroke="#008000" stroke-width="1.1" fill="none"/>
<text text-rendering="geometricPrecision" transform="translate(437.60,376.30) scale(1.0,1.1)" text-anchor="start" font-size="8" font-family="Liberation Serif, serif" fill="#1a1a1a" stroke="#1a1a1a" stroke-width="0.18">data 20%</text>
<line x1="414.4" y1="385.60" x2="431.8" y2="385.60" stroke="#008000" stroke-width="1.3"/>
<text text-rendering="geometricPrecision" transform="translate(437.60,388.50) scale(1.0,1.1)" text-anchor="start" font-size="8" font-family="Liberation Serif, serif" fill="#1a1a1a" stroke="#1a1a1a" stroke-width="0.18">estimate 20%</text>
<path d="M423.20,392.90L426.55,397.80L423.20,402.70L419.85,397.80Z" fill="#000000"/>
<text text-rendering="geometricPrecision" transform="translate(437.60,400.70) scale(1.0,1.1)" text-anchor="start" font-size="8" font-family="Liberation Serif, serif" fill="#1a1a1a" stroke="#1a1a1a" stroke-width="0.18">data 40%</text>
<line x1="414.4" y1="410.00" x2="431.8" y2="410.00" stroke="#000000" stroke-width="1.3"/>
<text text-rendering="geometricPrecision" transform="translate(437.60,412.90) scale(1.0,1.1)" text-anchor="start" font-size="8" font-family="Liberation Serif, serif" fill="#1a1a1a" stroke="#1a1a1a" stroke-width="0.18">estimate 40%</text>
<rect x="407.9" y="314.5" width="288.50" height="214.96" fill="none" stroke="#6e6e6e" stroke-width="1.2"/>
<line x1="407.90" y1="529.46" x2="407.90" y2="532.76" stroke="#6e6e6e" stroke-width="1.2"/>
<text text-rendering="geometricPrecision" transform="translate(407.90,541.06) scale(0.92,1.1)" text-anchor="middle" font-size="8" font-family="Liberation Serif, serif" fill="#1a1a1a" stroke="#1a1a1a" stroke-width="0.18">0</text>
<line x1="443.96" y1="529.46" x2="443.96" y2="532.76" stroke="#6e6e6e" stroke-width="1.2"/>
<text text-rendering="geometricPrecision" transform="translate(443.96,541.06) scale(0.92,1.1)" text-anchor="middle" font-size="8" font-family="Liberation Serif, serif" fill="#1a1a1a" stroke="#1a1a1a" stroke-width="0.18">5</text>
<line x1="480.02" y1="529.46" x2="480.02" y2="532.76" stroke="#6e6e6e" stroke-width="1.2"/>
<text text-rendering="geometricPrecision" transform="translate(480.02,541.06) scale(0.92,1.1)" text-anchor="middle" font-size="8" font-family="Liberation Serif, serif" fill="#1a1a1a" stroke="#1a1a1a" stroke-width="0.18">10</text>
<line x1="516.09" y1="529.46" x2="516.09" y2="532.76" stroke="#6e6e6e" stroke-width="1.2"/>
<text text-rendering="geometricPrecision" transform="translate(516.09,541.06) scale(0.92,1.1)" text-anchor="middle" font-size="8" font-family="Liberation Serif, serif" fill="#1a1a1a" stroke="#1a1a1a" stroke-width="0.18">15</text>
<line x1="552.15" y1="529.46" x2="552.15" y2="532.76" stroke="#6e6e6e" stroke-width="1.2"/>
<text text-rendering="geometricPrecision" transform="translate(552.15,541.06) scale(0.92,1.1)" text-anchor="middle" font-size="8" font-family="Liberation Serif, serif" fill="#1a1a1a" stroke="#1a1a1a" stroke-width="0.18">20</text>
<line x1="588.21" y1="529.46" x2="588.21" y2="532.76" stroke="#6e6e6e" stroke-width="1.2"/>
<text text-rendering="geometricPrecision" transform="translate(588.21,541.06) scale(0.92,1.1)" text-anchor="middle" font-size="8" font-family="Liberation Serif, serif" fill="#1a1a1a" stroke="#1a1a1a" stroke-width="0.18">25</text>
<line x1="624.27" y1="529.46" x2="624.27" y2="532.76" stroke="#6e6e6e" stroke-width="1.2"/>
<text text-rendering="geometricPrecision" transform="translate(624.27,541.06) scale(0.92,1.1)" text-anchor="middle" font-size="8" font-family="Liberation Serif, serif" fill="#1a1a1a" stroke="#1a1a1a" stroke-width="0.18">30</text>
<line x1="660.34" y1="529.46" x2="660.34" y2="532.76" stroke="#6e6e6e" stroke-width="1.2"/>
<text text-rendering="geometricPrecision" transform="translate(660.34,541.06) scale(0.92,1.1)" text-anchor="middle" font-size="8" font-family="Liberation Serif, serif" fill="#1a1a1a" stroke="#1a1a1a" stroke-width="0.18">35</text>
<line x1="696.40" y1="529.46" x2="696.40" y2="532.76" stroke="#6e6e6e" stroke-width="1.2"/>
<text text-rendering="geometricPrecision" transform="translate(696.40,541.06) scale(0.92,1.1)" text-anchor="middle" font-size="8" font-family="Liberation Serif, serif" fill="#1a1a1a" stroke="#1a1a1a" stroke-width="0.18">40</text>
<line x1="404.50" y1="519.43" x2="407.9" y2="519.43" stroke="#6e6e6e" stroke-width="1.2"/>
<text text-rendering="geometricPrecision" transform="translate(401.10,522.33) scale(0.9,1.1)" text-anchor="end" font-size="8" font-family="Liberation Serif, serif" fill="#1a1a1a" stroke="#1a1a1a" stroke-width="0.18">0.0</text>
<line x1="404.50" y1="492.17" x2="407.9" y2="492.17" stroke="#6e6e6e" stroke-width="1.2"/>
<text text-rendering="geometricPrecision" transform="translate(401.10,495.07) scale(0.9,1.1)" text-anchor="end" font-size="8" font-family="Liberation Serif, serif" fill="#1a1a1a" stroke="#1a1a1a" stroke-width="0.18">0.1</text>
<line x1="404.50" y1="464.91" x2="407.9" y2="464.91" stroke="#6e6e6e" stroke-width="1.2"/>
<text text-rendering="geometricPrecision" transform="translate(401.10,467.81) scale(0.9,1.1)" text-anchor="end" font-size="8" font-family="Liberation Serif, serif" fill="#1a1a1a" stroke="#1a1a1a" stroke-width="0.18">0.2</text>
<line x1="404.50" y1="437.65" x2="407.9" y2="437.65" stroke="#6e6e6e" stroke-width="1.2"/>
<text text-rendering="geometricPrecision" transform="translate(401.10,440.55) scale(0.9,1.1)" text-anchor="end" font-size="8" font-family="Liberation Serif, serif" fill="#1a1a1a" stroke="#1a1a1a" stroke-width="0.18">0.3</text>
<line x1="404.50" y1="410.38" x2="407.9" y2="410.38" stroke="#6e6e6e" stroke-width="1.2"/>
<text text-rendering="geometricPrecision" transform="translate(401.10,413.28) scale(0.9,1.1)" text-anchor="end" font-size="8" font-family="Liberation Serif, serif" fill="#1a1a1a" stroke="#1a1a1a" stroke-width="0.18">0.4</text>
<line x1="404.50" y1="383.12" x2="407.9" y2="383.12" stroke="#6e6e6e" stroke-width="1.2"/>
<text text-rendering="geometricPrecision" transform="translate(401.10,386.02) scale(0.9,1.1)" text-anchor="end" font-size="8" font-family="Liberation Serif, serif" fill="#1a1a1a" stroke="#1a1a1a" stroke-width="0.18">0.5</text>
<line x1="404.50" y1="355.86" x2="407.9" y2="355.86" stroke="#6e6e6e" stroke-width="1.2"/>
<text text-rendering="geometricPrecision" transform="translate(401.10,358.76) scale(0.9,1.1)" text-anchor="end" font-size="8" font-family="Liberation Serif, serif" fill="#1a1a1a" stroke="#1a1a1a" stroke-width="0.18">0.6</text>
<line x1="404.50" y1="328.60" x2="407.9" y2="328.60" stroke="#6e6e6e" stroke-width="1.2"/>
<text text-rendering="geometricPrecision" transform="translate(401.10,331.50) scale(0.9,1.1)" text-anchor="end" font-size="8" font-family="Liberation Serif, serif" fill="#1a1a1a" stroke="#1a1a1a" stroke-width="0.18">0.7</text>
<text text-rendering="geometricPrecision" transform="translate(552.15,552.40) scale(1.0,1.1)" text-anchor="middle" font-size="8" font-family="Liberation Serif, serif" fill="#1a1a1a" stroke="#1a1a1a" stroke-width="0.18">Time (h)</text>
<text text-rendering="geometricPrecision" transform="translate(385.90,420.10) rotate(-90) scale(1.0,1.1)" text-anchor="middle" font-size="8" font-family="Liberation Serif, serif" fill="#1a1a1a" stroke="#1a1a1a" stroke-width="0.18">Concentration (mg/L)</text>
<text text-rendering="geometricPrecision" transform="translate(546.60,585.50) scale(1.0,1.1)" text-anchor="middle" font-size="18.3" font-family="Liberation Serif, serif" fill="#2a2a2a">(d)</text>
<path d="M28.60,830.94 L29.51,830.90 L30.42,830.87 L31.33,830.83 L32.23,830.79 L33.14,830.75 L34.05,830.71 L34.96,830.67 L35.87,830.63 L36.78,830.59 L37.69,830.55 L38.59,830.51 L39.50,830.47 L40.41,830.43 L41.32,830.39 L42.23,830.35 L43.14,830.31 L44.05,830.26 L44.95,830.22 L45.86,830.18 L46.77,830.13 L47.68,830.09 L48.59,830.04 L49.50,829.99 L50.41,829.95 L51.31,829.90 L52.22,829.85 L53.13,829.80 L54.04,829.75 L54.95,829.70 L55.86,829.65 L56.77,829.60 L57.67,829.54 L58.58,829.49 L59.49,829.43 L60.40,829.38 L61.31,829.32 L62.22,829.26 L63.13,829.20 L64.03,829.14 L64.94,829.07 L65.85,829.01 L66.76,828.95 L67.67,828.88 L68.58,828.81 L69.48,828.74 L70.39,828.67 L71.30,828.60 L72.21,828.53 L73.12,828.45 L74.03,828.37 L74.94,828.29 L75.84,828.21 L76.75,828.13 L77.66,828.04 L78.57,827.96 L79.48,827.87 L80.39,827.78 L81.30,827.69 L82.20,827.59 L83.11,827.49 L84.02,827.40 L84.93,827.29 L85.84,827.19 L86.75,827.08 L87.66,826.98 L88.56,826.87 L89.47,826.75 L90.38,826.64 L91.29,826.52 L92.20,826.40 L93.11,826.27 L94.02,826.15 L94.92,826.02 L95.83,825.88 L96.74,825.75 L97.65,825.61 L98.56,825.47 L99.47,825.33 L100.38,825.18 L101.28,825.03 L102.19,824.88 L103.10,824.72 L104.01,824.56 L104.92,824.40 L105.83,824.24 L106.74,824.07 L107.64,823.90 L108.55,823.72 L109.46,823.55 L110.37,823.37 L111.28,823.18 L112.19,823.00 L113.10,822.81 L114.00,822.62 L114.91,822.42 L115.82,822.22 L116.73,822.02 L117.64,821.82 L118.55,821.61 L119.46,821.40 L120.36,821.18 L121.27,820.97 L122.18,820.74 L123.09,820.52 L124.00,820.29 L124.91,820.06 L125.82,819.83 L126.72,819.60 L127.63,819.36 L128.54,819.12 L129.45,818.88 L130.36,818.63 L131.27,818.39 L132.18,818.14 L133.08,817.90 L133.99,817.65 L134.90,817.40 L135.81,817.15 L136.72,816.90 L137.63,816.65 L138.54,816.40 L139.44,816.14 L140.35,815.89 L141.26,815.64 L142.17,815.39 L143.08,815.13 L143.99,814.88 L144.90,814.63 L145.80,814.38 L146.71,814.13 L147.62,813.88 L148.53,813.63 L149.44,813.38 L150.35,813.14 L151.26,812.89 L152.16,812.65 L153.07,812.41 L153.98,812.18 L154.89,811.94 L155.80,811.71 L156.71,811.49 L157.61,811.27 L158.52,811.05 L159.43,810.83 L160.34,810.62 L161.25,810.41 L162.16,810.21 L163.07,810.01 L163.97,809.81 L164.88,809.62 L165.79,809.42 L166.70,809.24 L167.61,809.05 L168.52,808.87 L169.43,808.69 L170.33,808.51 L171.24,808.33 L172.15,808.16 L173.06,807.99 L173.97,807.82 L174.88,807.66 L175.79,807.49 L176.69,807.33 L177.60,807.17 L178.51,807.01 L179.42,806.86 L180.33,806.70 L181.24,806.55 L182.15,806.40 L183.05,806.25 L183.96,806.10 L184.87,805.95 L185.78,805.81 L186.69,805.66 L187.60,805.52 L188.51,805.37 L189.41,805.23 L190.32,805.09 L191.23,804.95 L192.14,804.81 L193.05,804.67 L193.96,804.54 L194.87,804.40 L195.77,804.26 L196.68,804.13 L197.59,803.99 L198.50,803.85 L199.41,803.72 L200.32,803.58 L200.32,803.96 L201.23,803.12 L202.14,802.26 L203.06,801.39 L203.97,800.48 L204.88,799.53 L205.80,798.52 L206.71,797.45 L207.62,796.30 L208.54,795.06 L209.45,793.73 L210.36,792.30 L211.27,790.78 L212.19,789.20 L213.10,787.55 L214.01,785.85 L214.93,784.12 L215.84,782.35 L216.75,780.58 L217.67,778.80 L218.58,777.03 L219.49,775.28 L220.41,773.55 L221.32,771.87 L222.23,770.21 L223.15,768.59 L224.06,767.01 L224.97,765.46 L225.89,763.94 L226.80,762.46 L227.71,761.01 L228.62,759.59 L229.54,758.21 L230.45,756.87 L231.36,755.56 L232.28,754.28 L233.19,753.05 L234.10,751.85 L235.02,750.69 L235.93,749.57 L236.84,748.49 L237.76,747.44 L238.67,746.44 L239.58,745.48 L240.50,744.55 L241.41,743.66 L242.32,742.80 L243.23,741.97 L244.15,741.17 L245.06,740.40 L245.97,739.64 L246.89,738.91 L247.80,738.20 L248.71,737.51 L249.63,736.83 L250.54,736.16 L251.45,735.50 L252.37,734.85 L253.28,734.20 L254.19,733.55 L255.11,732.91 L256.02,732.27 L256.93,731.62 L257.85,730.98 L258.76,730.34 L259.67,729.70 L260.58,729.07 L261.50,728.44 L262.41,727.82 L263.32,727.21 L264.24,726.61 L265.15,726.01 L266.06,725.42 L266.98,724.85 L267.89,724.29 L268.80,723.74 L269.72,723.20 L270.63,722.68 L271.54,722.18 L272.46,721.70 L273.37,721.23 L274.28,720.78 L275.20,720.35 L276.11,719.93 L277.02,719.53 L277.93,719.14 L278.85,718.76 L279.76,718.40 L280.67,718.04 L281.59,717.70 L282.50,717.36 L283.41,717.03 L284.33,716.71 L285.24,716.39 L286.15,716.07 L287.07,715.76 L287.98,715.44 L288.89,715.13 L289.81,714.82 L290.72,714.50 L291.63,714.18 L292.54,713.86 L293.46,713.53 L294.37,713.20 L295.28,712.86 L296.20,712.52 L297.11,712.18 L298.02,711.84 L298.94,711.49 L299.85,711.13 L300.76,710.78 L301.68,710.42 L302.59,710.06 L303.50,709.70 L304.42,709.34 L305.33,708.97 L306.24,708.60 L307.16,708.23 L308.07,707.86 L308.98,707.49 L309.89,707.11 L310.81,706.73 L311.72,706.36 L312.63,705.98 L313.55,705.60 L314.46,705.22 L315.37,704.84 L316.29,704.46 L317.20,704.08" fill="none" stroke="#ff0000" stroke-width="1.3" stroke-linejoin="round" clip-path="url(#ce)"/>
<path d="M28.60,833.36 L29.51,833.34 L30.42,833.31 L31.33,833.29 L32.24,833.26 L33.15,833.24 L34.06,833.21 L34.97,833.18 L35.88,833.16 L36.79,833.13 L37.70,833.10 L38.61,833.08 L39.52,833.05 L40.43,833.02 L41.34,832.99 L42.25,832.96 L43.16,832.93 L44.07,832.90 L44.98,832.87 L45.89,832.83 L46.80,832.80 L47.71,832.77 L48.62,832.73 L49.53,832.69 L50.44,832.66 L51.35,832.62 L52.26,832.58 L53.17,832.54 L54.08,832.50 L54.99,832.45 L55.90,832.41 L56.81,832.36 L57.72,832.32 L58.63,832.27 L59.54,832.22 L60.45,832.17 L61.36,832.12 L62.27,832.06 L63.19,832.01 L64.10,831.95 L65.01,831.89 L65.92,831.83 L66.83,831.76 L67.74,831.70 L68.65,831.63 L69.56,831.57 L70.47,831.50 L71.38,831.42 L72.29,831.35 L73.20,831.28 L74.11,831.20 L75.02,831.12 L75.93,831.04 L76.84,830.96 L77.75,830.87 L78.66,830.78 L79.57,830.70 L80.48,830.61 L81.39,830.51 L82.30,830.42 L83.21,830.32 L84.12,830.22 L85.03,830.12 L85.94,830.02 L86.85,829.91 L87.76,829.81 L88.67,829.70 L89.58,829.58 L90.49,829.47 L91.40,829.35 L92.31,829.24 L93.22,829.12 L94.13,828.99 L95.04,828.87 L95.95,828.74 L96.86,828.61 L97.77,828.48 L98.68,828.34 L99.59,828.21 L100.50,828.07 L101.41,827.92 L102.32,827.78 L103.23,827.63 L104.14,827.49 L105.05,827.34 L105.96,827.18 L106.87,827.03 L107.78,826.87 L108.69,826.71 L109.60,826.55 L110.51,826.38 L111.42,826.22 L112.33,826.05 L113.24,825.88 L114.15,825.70 L115.06,825.53 L115.97,825.35 L116.88,825.17 L117.79,824.99 L118.70,824.81 L119.61,824.62 L120.52,824.43 L121.43,824.24 L122.34,824.05 L123.25,823.86 L124.16,823.66 L125.07,823.46 L125.98,823.26 L126.89,823.06 L127.80,822.86 L128.71,822.65 L129.62,822.44 L130.53,822.23 L131.45,822.02 L132.36,821.81 L133.27,821.59 L134.18,821.38 L135.09,821.16 L136.00,820.95 L136.91,820.73 L137.82,820.52 L138.73,820.30 L139.64,820.08 L140.55,819.87 L141.46,819.65 L142.37,819.44 L143.28,819.23 L144.19,819.01 L145.10,818.80 L146.01,818.60 L146.92,818.39 L147.83,818.19 L148.74,817.99 L149.65,817.79 L150.56,817.59 L151.47,817.40 L152.38,817.20 L153.29,817.01 L154.20,816.82 L155.11,816.64 L156.02,816.45 L156.93,816.27 L157.84,816.08 L158.75,815.90 L159.66,815.72 L160.57,815.54 L161.48,815.36 L162.39,815.19 L163.30,815.01 L164.21,814.83 L165.12,814.66 L166.03,814.49 L166.94,814.31 L167.85,814.14 L168.76,813.97 L169.67,813.80 L170.58,813.63 L171.49,813.46 L172.40,813.29 L173.31,813.12 L174.22,812.95 L175.13,812.79 L176.04,812.62 L176.95,812.45 L177.86,812.28 L178.77,812.12 L179.68,811.95 L179.68,812.06 L180.59,811.44 L181.50,810.82 L182.41,810.20 L183.32,809.57 L184.24,808.94 L185.15,808.31 L186.06,807.66 L186.97,807.01 L187.88,806.34 L188.79,805.66 L189.70,804.97 L190.61,804.27 L191.52,803.55 L192.43,802.81 L193.34,802.05 L194.25,801.28 L195.16,800.48 L196.07,799.66 L196.99,798.82 L197.90,797.96 L198.81,797.07 L199.72,796.16 L200.63,795.22 L201.54,794.26 L202.45,793.27 L203.36,792.25 L204.27,791.20 L205.18,790.13 L206.09,789.02 L207.00,787.89 L207.91,786.73 L208.82,785.56 L209.74,784.37 L210.65,783.17 L211.56,781.96 L212.47,780.75 L213.38,779.54 L214.29,778.33 L215.20,777.14 L216.11,775.95 L217.02,774.79 L217.93,773.64 L218.84,772.52 L219.75,771.41 L220.66,770.32 L221.57,769.24 L222.49,768.17 L223.40,767.11 L224.31,766.06 L225.22,765.01 L226.13,763.97 L227.04,762.93 L227.95,761.91 L228.86,760.91 L229.77,759.93 L230.68,758.97 L231.59,758.05 L232.50,757.16 L233.41,756.30 L234.32,755.49 L235.24,754.73 L236.15,754.01 L237.06,753.33 L237.97,752.70 L238.88,752.10 L239.79,751.53 L240.70,750.99 L241.61,750.47 L242.52,749.97 L243.43,749.49 L244.34,749.02 L245.25,748.55 L246.16,748.09 L247.07,747.63 L247.99,747.18 L248.90,746.73 L249.81,746.28 L250.72,745.84 L251.63,745.40 L252.54,744.95 L253.45,744.51 L254.36,744.07 L255.27,743.64 L256.18,743.20 L257.09,742.76 L258.00,742.32 L258.91,741.88 L259.82,741.45 L260.74,741.01 L261.65,740.58 L262.56,740.15 L263.47,739.72 L264.38,739.29 L265.29,738.86 L266.20,738.44 L267.11,738.02 L268.02,737.60 L268.93,737.19 L269.84,736.78 L270.75,736.37 L271.66,735.97 L272.57,735.57 L273.49,735.17 L274.40,734.78 L275.31,734.40 L276.22,734.01 L277.13,733.64 L278.04,733.27 L278.95,732.90 L279.86,732.54 L280.77,732.18 L281.68,731.83 L282.59,731.48 L283.50,731.14 L284.41,730.80 L285.32,730.46 L286.24,730.12 L287.15,729.79 L288.06,729.46 L288.97,729.13 L289.88,728.81 L290.79,728.48 L291.70,728.16 L292.61,727.84 L293.52,727.52 L294.43,727.20 L295.34,726.88 L296.25,726.56 L297.16,726.24 L298.07,725.92 L298.99,725.60 L299.90,725.28 L300.81,724.96 L301.72,724.63 L302.63,724.31 L303.54,723.99 L304.45,723.66 L305.36,723.34 L306.27,723.01 L307.18,722.68 L308.09,722.36 L309.00,722.03 L309.91,721.70 L310.82,721.38 L311.74,721.05 L312.65,720.72 L313.56,720.39 L314.47,720.07 L315.38,719.74 L316.29,719.41 L317.20,719.08" fill="none" stroke="#0000ff" stroke-width="1.3" stroke-linejoin="round" clip-path="url(#ce)"/>
<path d="M28.60,829.29 L29.51,829.26 L30.42,829.23 L31.32,829.21 L32.23,829.18 L33.14,829.15 L34.05,829.12 L34.96,829.09 L35.87,829.06 L36.77,829.03 L37.68,829.00 L38.59,828.97 L39.50,828.94 L40.41,828.91 L41.31,828.88 L42.22,828.84 L43.13,828.81 L44.04,828.78 L44.95,828.74 L45.86,828.71 L46.76,828.67 L47.67,828.64 L48.58,828.60 L49.49,828.56 L50.40,828.52 L51.30,828.48 L52.21,828.44 L53.12,828.40 L54.03,828.35 L54.94,828.31 L55.85,828.26 L56.75,828.21 L57.66,828.17 L58.57,828.12 L59.48,828.06 L60.39,828.01 L61.29,827.96 L62.20,827.90 L63.11,827.85 L64.02,827.79 L64.93,827.73 L65.84,827.67 L66.74,827.60 L67.65,827.54 L68.56,827.47 L69.47,827.40 L70.38,827.33 L71.28,827.26 L72.19,827.19 L73.10,827.11 L74.01,827.03 L74.92,826.95 L75.83,826.87 L76.73,826.78 L77.64,826.70 L78.55,826.61 L79.46,826.52 L80.37,826.43 L81.27,826.33 L82.18,826.23 L83.09,826.13 L84.00,826.03 L84.91,825.92 L85.82,825.81 L86.72,825.70 L87.63,825.59 L88.54,825.47 L89.45,825.36 L90.36,825.23 L91.26,825.11 L92.17,824.98 L93.08,824.85 L93.99,824.72 L94.90,824.59 L95.81,824.45 L96.71,824.30 L97.62,824.16 L98.53,824.01 L99.44,823.86 L100.35,823.71 L101.25,823.55 L102.16,823.39 L103.07,823.23 L103.98,823.06 L104.89,822.89 L105.80,822.72 L106.70,822.55 L107.61,822.37 L108.52,822.19 L109.43,822.01 L110.34,821.82 L111.24,821.63 L112.15,821.44 L113.06,821.25 L113.97,821.05 L114.88,820.86 L115.79,820.66 L116.69,820.45 L117.60,820.25 L118.51,820.04 L119.42,819.83 L120.33,819.61 L121.23,819.40 L122.14,819.18 L123.05,818.96 L123.96,818.73 L124.87,818.51 L125.78,818.28 L126.68,818.05 L127.59,817.82 L128.50,817.59 L129.41,817.35 L130.32,817.12 L131.22,816.88 L132.13,816.65 L133.04,816.41 L133.95,816.17 L134.86,815.93 L135.77,815.69 L136.67,815.46 L137.58,815.22 L138.49,814.98 L139.40,814.75 L140.31,814.52 L141.21,814.29 L142.12,814.06 L143.03,813.83 L143.94,813.61 L144.85,813.39 L145.76,813.17 L146.66,812.96 L147.57,812.75 L148.48,812.54 L149.39,812.34 L150.30,812.15 L151.20,811.95 L152.11,811.77 L153.02,811.58 L153.93,811.41 L154.84,811.23 L155.75,811.07 L156.65,810.90 L157.56,810.75 L158.47,810.59 L159.38,810.45 L160.29,810.31 L161.19,810.17 L162.10,810.03 L163.01,809.91 L163.92,809.78 L164.83,809.66 L165.74,809.54 L166.64,809.43 L167.55,809.32 L168.46,809.21 L169.37,809.10 L170.28,809.00 L171.18,808.90 L172.09,808.81 L173.00,808.71 L173.91,808.62 L174.82,808.53 L175.73,808.45 L176.63,808.36 L177.54,808.28 L178.45,808.19 L179.36,808.11 L180.27,808.03 L181.17,807.95 L182.08,807.87 L182.99,807.79 L183.90,807.71 L184.81,807.64 L185.72,807.56 L186.62,807.48 L187.53,807.40 L188.44,807.32 L189.35,807.24 L190.26,807.16 L191.16,807.07 L192.07,806.99 L192.98,806.90 L193.89,806.81 L194.80,806.72 L195.71,806.63 L196.61,806.54 L197.52,806.44 L198.43,806.34 L199.34,806.23 L200.25,806.13 L201.15,806.01 L202.06,805.90 L202.97,805.78 L203.88,805.66 L204.79,805.53 L205.69,805.40 L206.60,805.26 L207.51,805.12 L208.42,804.97 L209.33,804.82 L210.24,804.67 L211.14,804.51 L212.05,804.35 L212.96,804.19 L213.87,804.03 L214.78,803.86 L215.68,803.70 L215.68,802.91 L216.60,801.94 L217.51,800.97 L218.43,799.99 L219.34,799.02 L220.26,798.05 L221.17,797.07 L222.09,796.08 L223.00,795.10 L223.92,794.11 L224.83,793.11 L225.74,792.11 L226.66,791.10 L227.57,790.08 L228.49,789.05 L229.40,787.99 L230.32,786.90 L231.23,785.77 L232.15,784.61 L233.06,783.39 L233.98,782.12 L234.89,780.80 L235.81,779.40 L236.72,777.93 L237.63,776.39 L238.55,774.75 L239.46,773.03 L240.38,771.25 L241.29,769.41 L242.21,767.55 L243.12,765.68 L244.04,763.83 L244.95,762.02 L245.87,760.26 L246.78,758.56 L247.69,756.91 L248.61,755.30 L249.52,753.75 L250.44,752.23 L251.35,750.75 L252.27,749.30 L253.18,747.89 L254.10,746.50 L255.01,745.13 L255.93,743.78 L256.84,742.46 L257.75,741.15 L258.67,739.87 L259.58,738.61 L260.50,737.37 L261.41,736.15 L262.33,734.95 L263.24,733.78 L264.16,732.62 L265.07,731.49 L265.99,730.39 L266.90,729.30 L267.81,728.24 L268.73,727.21 L269.64,726.19 L270.56,725.20 L271.47,724.24 L272.39,723.30 L273.30,722.38 L274.22,721.49 L275.13,720.62 L276.05,719.78 L276.96,718.96 L277.87,718.17 L278.79,717.39 L279.70,716.64 L280.62,715.91 L281.53,715.20 L282.45,714.51 L283.36,713.84 L284.28,713.19 L285.19,712.55 L286.11,711.93 L287.02,711.32 L287.93,710.74 L288.85,710.16 L289.76,709.60 L290.68,709.05 L291.59,708.52 L292.51,707.99 L293.42,707.48 L294.34,706.98 L295.25,706.49 L296.17,706.01 L297.08,705.53 L297.99,705.07 L298.91,704.62 L299.82,704.17 L300.74,703.73 L301.65,703.30 L302.57,702.88 L303.48,702.46 L304.40,702.05 L305.31,701.65 L306.23,701.25 L307.14,700.86 L308.05,700.47 L308.97,700.08 L309.88,699.70 L310.80,699.32 L311.71,698.95 L312.63,698.57 L313.54,698.20 L314.46,697.83 L315.37,697.47 L316.29,697.10 L317.20,696.73" fill="none" stroke="#008000" stroke-width="1.3" stroke-linejoin="round" clip-path="url(#ce)"/>
<path d="M28.60,825.05 L29.51,824.92 L30.42,824.79 L31.33,824.66 L32.24,824.53 L33.15,824.40 L34.06,824.27 L34.97,824.14 L35.88,824.01 L36.79,823.88 L37.70,823.75 L38.61,823.61 L39.52,823.48 L40.43,823.35 L41.34,823.22 L42.25,823.09 L43.16,822.95 L44.07,822.82 L44.98,822.69 L45.89,822.56 L46.80,822.42 L47.71,822.29 L48.62,822.15 L49.53,822.02 L50.44,821.88 L51.35,821.75 L52.26,821.61 L53.17,821.48 L54.08,821.34 L54.99,821.20 L55.90,821.07 L56.81,820.93 L57.72,820.79 L58.63,820.65 L59.54,820.51 L60.45,820.37 L61.36,820.23 L62.27,820.09 L63.19,819.95 L64.10,819.80 L65.01,819.66 L65.92,819.52 L66.83,819.37 L67.74,819.23 L68.65,819.08 L69.56,818.93 L70.47,818.79 L71.38,818.64 L72.29,818.49 L73.20,818.34 L74.11,818.19 L75.02,818.04 L75.93,817.89 L76.84,817.73 L77.75,817.58 L78.66,817.43 L79.57,817.27 L80.48,817.12 L81.39,816.96 L82.30,816.80 L83.21,816.65 L84.12,816.49 L85.03,816.33 L85.94,816.17 L86.85,816.01 L87.76,815.84 L88.67,815.68 L89.58,815.52 L90.49,815.35 L91.40,815.19 L92.31,815.02 L93.22,814.85 L94.13,814.69 L95.04,814.52 L95.95,814.35 L96.86,814.18 L97.77,814.01 L98.68,813.84 L99.59,813.67 L100.50,813.50 L101.41,813.33 L102.32,813.16 L103.23,812.99 L104.14,812.82 L105.05,812.65 L105.96,812.48 L106.87,812.31 L107.78,812.14 L108.69,811.97 L109.60,811.80 L110.51,811.63 L111.42,811.46 L112.33,811.29 L113.24,811.13 L114.15,810.96 L115.06,810.79 L115.97,810.63 L116.88,810.46 L117.79,810.29 L118.70,810.13 L119.61,809.96 L120.52,809.79 L121.43,809.62 L122.34,809.45 L123.25,809.28 L124.16,809.11 L125.07,808.93 L125.98,808.76 L126.89,808.58 L127.80,808.40 L128.71,808.22 L129.62,808.04 L130.53,807.85 L131.45,807.66 L132.36,807.47 L133.27,807.28 L134.18,807.08 L135.09,806.88 L136.00,806.69 L136.91,806.48 L137.82,806.28 L138.73,806.08 L139.64,805.88 L140.55,805.67 L141.46,805.47 L142.37,805.26 L143.28,805.05 L144.19,804.85 L145.10,804.64 L146.01,804.44 L146.92,804.23 L147.83,804.03 L148.74,803.82 L149.65,803.62 L150.56,803.42 L151.47,803.21 L152.38,803.01 L153.29,802.82 L154.20,802.62 L155.11,802.42 L156.02,802.23 L156.93,802.04 L157.84,801.85 L158.75,801.66 L159.66,801.47 L160.57,801.28 L161.48,801.10 L162.39,800.91 L163.30,800.73 L164.21,800.55 L165.12,800.37 L166.03,800.19 L166.94,800.02 L167.85,799.84 L168.76,799.66 L169.67,799.49 L170.58,799.31 L171.49,799.14 L172.40,798.97 L173.31,798.79 L174.22,798.62 L175.13,798.45 L176.04,798.28 L176.95,798.11 L177.86,797.93 L178.77,797.76 L179.68,797.59 L179.68,797.73 L180.59,797.08 L181.50,796.43 L182.41,795.78 L183.32,795.13 L184.24,794.47 L185.15,793.80 L186.06,793.12 L186.97,792.44 L187.88,791.74 L188.79,791.03 L189.70,790.30 L190.61,789.56 L191.52,788.80 L192.43,788.02 L193.34,787.22 L194.25,786.38 L195.16,785.52 L196.07,784.62 L196.99,783.69 L197.90,782.72 L198.81,781.70 L199.72,780.64 L200.63,779.54 L201.54,778.38 L202.45,777.16 L203.36,775.90 L204.27,774.59 L205.18,773.23 L206.09,771.85 L207.00,770.43 L207.91,768.99 L208.82,767.54 L209.74,766.07 L210.65,764.59 L211.56,763.12 L212.47,761.66 L213.38,760.20 L214.29,758.77 L215.20,757.36 L216.11,755.97 L217.02,754.62 L217.93,753.30 L218.84,752.01 L219.75,750.75 L220.66,749.53 L221.57,748.34 L222.49,747.19 L223.40,746.07 L224.31,744.99 L225.22,743.95 L226.13,742.95 L227.04,741.99 L227.95,741.06 L228.86,740.16 L229.77,739.29 L230.68,738.46 L231.59,737.64 L232.50,736.85 L233.41,736.09 L234.32,735.34 L235.24,734.62 L236.15,733.91 L237.06,733.21 L237.97,732.54 L238.88,731.88 L239.79,731.24 L240.70,730.61 L241.61,730.00 L242.52,729.41 L243.43,728.83 L244.34,728.27 L245.25,727.72 L246.16,727.19 L247.07,726.67 L247.99,726.17 L248.90,725.67 L249.81,725.18 L250.72,724.70 L251.63,724.22 L252.54,723.73 L253.45,723.25 L254.36,722.77 L255.27,722.28 L256.18,721.78 L257.09,721.28 L258.00,720.78 L258.91,720.28 L259.82,719.77 L260.74,719.26 L261.65,718.76 L262.56,718.25 L263.47,717.75 L264.38,717.25 L265.29,716.76 L266.20,716.27 L267.11,715.79 L268.02,715.32 L268.93,714.86 L269.84,714.40 L270.75,713.96 L271.66,713.52 L272.57,713.10 L273.49,712.69 L274.40,712.28 L275.31,711.89 L276.22,711.50 L277.13,711.12 L278.04,710.75 L278.95,710.38 L279.86,710.02 L280.77,709.66 L281.68,709.31 L282.59,708.97 L283.50,708.63 L284.41,708.29 L285.32,707.95 L286.24,707.62 L287.15,707.29 L288.06,706.96 L288.97,706.63 L289.88,706.30 L290.79,705.97 L291.70,705.64 L292.61,705.31 L293.52,704.97 L294.43,704.64 L295.34,704.30 L296.25,703.97 L297.16,703.63 L298.07,703.30 L298.99,702.96 L299.90,702.62 L300.81,702.28 L301.72,701.94 L302.63,701.60 L303.54,701.25 L304.45,700.91 L305.36,700.57 L306.27,700.23 L307.18,699.88 L308.09,699.54 L309.00,699.19 L309.91,698.85 L310.82,698.50 L311.74,698.16 L312.65,697.81 L313.56,697.46 L314.47,697.12 L315.38,696.77 L316.29,696.42 L317.20,696.08" fill="none" stroke="#000000" stroke-width="1.3" stroke-linejoin="round" clip-path="url(#ce)"/>
<path d="M28.60,820.29V827.90M26.00,820.29H31.20M26.00,827.90H31.20" stroke="#000000" stroke-width="1.1" fill="none" clip-path="url(#ce)"/>
<path d="M189.49,714.75V720.08M186.89,714.75H192.09M186.89,720.08H192.09" stroke="#008000" stroke-width="1.1" fill="none" clip-path="url(#ce)"/>
<path d="M287.91,638.07V710.08M285.31,638.07H290.51M285.31,710.08H290.51" stroke="#0000ff" stroke-width="1.1" fill="none" clip-path="url(#ce)"/>
<path d="M273.91,701.41V706.74M271.31,701.41H276.51M271.31,706.74H276.51" stroke="#008000" stroke-width="1.1" fill="none" clip-path="url(#ce)"/>
<ellipse cx="93.53" cy="819.43" rx="3.75" ry="4.1" fill="#ff0000" clip-path="url(#ce)"/>
<ellipse cx="201.76" cy="793.82" rx="3.75" ry="4.1" fill="#ff0000" clip-path="url(#ce)"/>
<ellipse cx="273.91" cy="767.42" rx="3.75" ry="4.1" fill="#ff0000" clip-path="url(#ce)"/>
<rect x="24.60" y="827.90" width="8.0" height="8.0" fill="#0000ff" clip-path="url(#ce)"/>
<rect x="89.82" y="805.16" width="8.0" height="8.0" fill="#0000ff" clip-path="url(#ce)"/>
<rect x="197.62" y="642.74" width="8.0" height="8.0" fill="#0000ff" clip-path="url(#ce)"/>
<rect x="189.82" y="794.76" width="8.0" height="8.0" fill="#0000ff" clip-path="url(#ce)"/>
<rect x="283.91" y="670.07" width="8.0" height="8.0" fill="#0000ff" clip-path="url(#ce)"/>
<path d="M25.20,825.36L32.00,832.16M25.20,832.16L32.00,825.36" stroke="#008000" stroke-width="1.1" fill="none" clip-path="url(#ce)"/>
<path d="M90.13,810.03L96.94,816.83M90.13,816.83L96.94,810.03" stroke="#008000" stroke-width="1.1" fill="none" clip-path="url(#ce)"/>
<path d="M186.09,714.01L192.89,720.81M186.09,720.81L192.89,714.01" stroke="#008000" stroke-width="1.1" fill="none" clip-path="url(#ce)"/>
<path d="M270.51,700.68L277.31,707.48M270.51,707.48L277.31,700.68" stroke="#008000" stroke-width="1.1" fill="none" clip-path="url(#ce)"/>
<path d="M28.60,819.20L31.95,824.10L28.60,829.00L25.25,824.10Z" fill="#000000" clip-path="url(#ce)"/>
<path d="M89.49,810.06L92.84,814.96L89.49,819.86L86.14,814.96Z" fill="#000000" clip-path="url(#ce)"/>
<path d="M100.17,812.86L103.52,817.76L100.17,822.66L96.82,817.76Z" fill="#000000" clip-path="url(#ce)"/>
<path d="M136.54,794.66L139.89,799.56L136.54,804.46L133.19,799.56Z" fill="#000000" clip-path="url(#ce)"/>
<path d="M187.33,763.19L190.68,768.09L187.33,772.99L183.98,768.09Z" fill="#000000" clip-path="url(#ce)"/>
<path d="M201.62,759.52L204.97,764.42L201.62,769.32L198.27,764.42Z" fill="#000000" clip-path="url(#ce)"/>
<path d="M268.14,738.52L271.49,743.42L268.14,748.32L264.79,743.42Z" fill="#000000" clip-path="url(#ce)"/>
<path d="M273.91,748.52L277.26,753.42L273.91,758.32L270.56,753.42Z" fill="#000000" clip-path="url(#ce)"/>
<ellipse cx="43.40" cy="638.60" rx="3.75" ry="4.1" fill="#ff0000"/>
<text text-rendering="geometricPrecision" transform="translate(57.80,641.50) scale(1.0,1.1)" text-anchor="start" font-size="8" font-family="Liberation Serif, serif" fill="#1a1a1a" stroke="#1a1a1a" stroke-width="0.18">data 5%</text>
<line x1="35.1" y1="650.80" x2="51.8" y2="650.80" stroke="#ff0000" stroke-width="1.3"/>
<text text-rendering="geometricPrecision" transform="translate(57.80,653.70) scale(1.0,1.1)" text-anchor="start" font-size="8" font-family="Liberation Serif, serif" fill="#1a1a1a" stroke="#1a1a1a" stroke-width="0.18">estimate 5%</text>
<rect x="39.40" y="659.00" width="8.0" height="8.0" fill="#0000ff"/>
<text text-rendering="geometricPrecision" transform="translate(57.80,665.90) scale(1.0,1.1)" text-anchor="start" font-size="8" font-family="Liberation Serif, serif" fill="#1a1a1a" stroke="#1a1a1a" stroke-width="0.18">data 10%</text>
<line x1="35.1" y1="675.20" x2="51.8" y2="675.20" stroke="#0000ff" stroke-width="1.3"/>
<text text-rendering="geometricPrecision" transform="translate(57.80,678.10) scale(1.0,1.1)" text-anchor="start" font-size="8" font-family="Liberation Serif, serif" fill="#1a1a1a" stroke="#1a1a1a" stroke-width="0.18">estimate 10%</text>
<path d="M40.00,684.00L46.80,690.80M40.00,690.80L46.80,684.00" stroke="#008000" stroke-width="1.1" fill="none"/>
<text text-rendering="geometricPrecision" transform="translate(57.80,690.30) scale(1.0,1.1)" text-anchor="start" font-size="8" font-family="Liberation Serif, serif" fill="#1a1a1a" stroke="#1a1a1a" stroke-width="0.18">data 20%</text>
<line x1="35.1" y1="699.60" x2="51.8" y2="699.60" stroke="#008000" stroke-width="1.3"/>
<text text-rendering="geometricPrecision" transform="translate(57.80,702.50) scale(1.0,1.1)" text-anchor="start" font-size="8" font-family="Liberation Serif, serif" fill="#1a1a1a" stroke="#1a1a1a" stroke-width="0.18">estimate 20%</text>
<path d="M43.40,706.90L46.75,711.80L43.40,716.70L40.05,711.80Z" fill="#000000"/>
<text text-rendering="geometricPrecision" transform="translate(57.80,714.70) scale(1.0,1.1)" text-anchor="start" font-size="8" font-family="Liberation Serif, serif" fill="#1a1a1a" stroke="#1a1a1a" stroke-width="0.18">data 40%</text>
<line x1="35.1" y1="724.00" x2="51.8" y2="724.00" stroke="#000000" stroke-width="1.3"/>
<text text-rendering="geometricPrecision" transform="translate(57.80,726.90) scale(1.0,1.1)" text-anchor="start" font-size="8" font-family="Liberation Serif, serif" fill="#1a1a1a" stroke="#1a1a1a" stroke-width="0.18">estimate 40%</text>
<rect x="28.6" y="628.5" width="288.60" height="214.76" fill="none" stroke="#6e6e6e" stroke-width="1.2"/>
<line x1="28.60" y1="843.26" x2="28.60" y2="846.56" stroke="#6e6e6e" stroke-width="1.2"/>
<text text-rendering="geometricPrecision" transform="translate(28.60,854.86) scale(0.92,1.1)" text-anchor="middle" font-size="8" font-family="Liberation Serif, serif" fill="#1a1a1a" stroke="#1a1a1a" stroke-width="0.18">0</text>
<line x1="64.67" y1="843.26" x2="64.67" y2="846.56" stroke="#6e6e6e" stroke-width="1.2"/>
<text text-rendering="geometricPrecision" transform="translate(64.67,854.86) scale(0.92,1.1)" text-anchor="middle" font-size="8" font-family="Liberation Serif, serif" fill="#1a1a1a" stroke="#1a1a1a" stroke-width="0.18">5</text>
<line x1="100.75" y1="843.26" x2="100.75" y2="846.56" stroke="#6e6e6e" stroke-width="1.2"/>
<text text-rendering="geometricPrecision" transform="translate(100.75,854.86) scale(0.92,1.1)" text-anchor="middle" font-size="8" font-family="Liberation Serif, serif" fill="#1a1a1a" stroke="#1a1a1a" stroke-width="0.18">10</text>
<line x1="136.82" y1="843.26" x2="136.82" y2="846.56" stroke="#6e6e6e" stroke-width="1.2"/>
<text text-rendering="geometricPrecision" transform="translate(136.82,854.86) scale(0.92,1.1)" text-anchor="middle" font-size="8" font-family="Liberation Serif, serif" fill="#1a1a1a" stroke="#1a1a1a" stroke-width="0.18">15</text>
<line x1="172.90" y1="843.26" x2="172.90" y2="846.56" stroke="#6e6e6e" stroke-width="1.2"/>
<text text-rendering="geometricPrecision" transform="translate(172.90,854.86) scale(0.92,1.1)" text-anchor="middle" font-size="8" font-family="Liberation Serif, serif" fill="#1a1a1a" stroke="#1a1a1a" stroke-width="0.18">20</text>
<line x1="208.97" y1="843.26" x2="208.97" y2="846.56" stroke="#6e6e6e" stroke-width="1.2"/>
<text text-rendering="geometricPrecision" transform="translate(208.97,854.86) scale(0.92,1.1)" text-anchor="middle" font-size="8" font-family="Liberation Serif, serif" fill="#1a1a1a" stroke="#1a1a1a" stroke-width="0.18">25</text>
<line x1="245.05" y1="843.26" x2="245.05" y2="846.56" stroke="#6e6e6e" stroke-width="1.2"/>
<text text-rendering="geometricPrecision" transform="translate(245.05,854.86) scale(0.92,1.1)" text-anchor="middle" font-size="8" font-family="Liberation Serif, serif" fill="#1a1a1a" stroke="#1a1a1a" stroke-width="0.18">30</text>
<line x1="281.12" y1="843.26" x2="281.12" y2="846.56" stroke="#6e6e6e" stroke-width="1.2"/>
<text text-rendering="geometricPrecision" transform="translate(281.12,854.86) scale(0.92,1.1)" text-anchor="middle" font-size="8" font-family="Liberation Serif, serif" fill="#1a1a1a" stroke="#1a1a1a" stroke-width="0.18">35</text>
<line x1="317.20" y1="843.26" x2="317.20" y2="846.56" stroke="#6e6e6e" stroke-width="1.2"/>
<text text-rendering="geometricPrecision" transform="translate(317.20,854.86) scale(0.92,1.1)" text-anchor="middle" font-size="8" font-family="Liberation Serif, serif" fill="#1a1a1a" stroke="#1a1a1a" stroke-width="0.18">40</text>
<line x1="25.20" y1="833.43" x2="28.6" y2="833.43" stroke="#6e6e6e" stroke-width="1.2"/>
<text text-rendering="geometricPrecision" transform="translate(21.80,836.33) scale(0.9,1.1)" text-anchor="end" font-size="8" font-family="Liberation Serif, serif" fill="#1a1a1a" stroke="#1a1a1a" stroke-width="0.18">0.0</text>
<line x1="25.20" y1="800.09" x2="28.6" y2="800.09" stroke="#6e6e6e" stroke-width="1.2"/>
<text text-rendering="geometricPrecision" transform="translate(21.80,802.99) scale(0.9,1.1)" text-anchor="end" font-size="8" font-family="Liberation Serif, serif" fill="#1a1a1a" stroke="#1a1a1a" stroke-width="0.18">0.5</text>
<line x1="25.20" y1="766.75" x2="28.6" y2="766.75" stroke="#6e6e6e" stroke-width="1.2"/>
<text text-rendering="geometricPrecision" transform="translate(21.80,769.65) scale(0.9,1.1)" text-anchor="end" font-size="8" font-family="Liberation Serif, serif" fill="#1a1a1a" stroke="#1a1a1a" stroke-width="0.18">1.0</text>
<line x1="25.20" y1="733.41" x2="28.6" y2="733.41" stroke="#6e6e6e" stroke-width="1.2"/>
<text text-rendering="geometricPrecision" transform="translate(21.80,736.31) scale(0.9,1.1)" text-anchor="end" font-size="8" font-family="Liberation Serif, serif" fill="#1a1a1a" stroke="#1a1a1a" stroke-width="0.18">1.5</text>
<line x1="25.20" y1="700.08" x2="28.6" y2="700.08" stroke="#6e6e6e" stroke-width="1.2"/>
<text text-rendering="geometricPrecision" transform="translate(21.80,702.98) scale(0.9,1.1)" text-anchor="end" font-size="8" font-family="Liberation Serif, serif" fill="#1a1a1a" stroke="#1a1a1a" stroke-width="0.18">2.0</text>
<line x1="25.20" y1="666.74" x2="28.6" y2="666.74" stroke="#6e6e6e" stroke-width="1.2"/>
<text text-rendering="geometricPrecision" transform="translate(21.80,669.64) scale(0.9,1.1)" text-anchor="end" font-size="8" font-family="Liberation Serif, serif" fill="#1a1a1a" stroke="#1a1a1a" stroke-width="0.18">2.5</text>
<line x1="25.20" y1="633.40" x2="28.6" y2="633.40" stroke="#6e6e6e" stroke-width="1.2"/>
<text text-rendering="geometricPrecision" transform="translate(21.80,636.30) scale(0.9,1.1)" text-anchor="end" font-size="8" font-family="Liberation Serif, serif" fill="#1a1a1a" stroke="#1a1a1a" stroke-width="0.18">3.0</text>
<text text-rendering="geometricPrecision" transform="translate(172.90,866.40) scale(1.0,1.1)" text-anchor="middle" font-size="8" font-family="Liberation Serif, serif" fill="#1a1a1a" stroke="#1a1a1a" stroke-width="0.18">Time (h)</text>
<text text-rendering="geometricPrecision" transform="translate(7.00,736.10) rotate(-90) scale(1.0,1.1)" text-anchor="middle" font-size="8" font-family="Liberation Serif, serif" fill="#1a1a1a" stroke="#1a1a1a" stroke-width="0.18">Concentration (mg/L)</text>
<text text-rendering="geometricPrecision" transform="translate(168.30,900.60) scale(1.0,1.1)" text-anchor="middle" font-size="18.3" font-family="Liberation Serif, serif" fill="#2a2a2a">(e)</text>
<path d="M407.90,664.15 L414.32,667.80 L428.96,687.34 L448.51,715.05 L465.02,746.83 L471.66,732.23 L479.66,721.28 L494.31,740.60 L502.10,732.23 L515.51,756.71 L526.47,771.32 L537.44,786.99 L543.50,806.54 L551.43,815.13 L573.07,818.78 L580.86,780.98 L588.57,646.97 L594.70,628.50 L696.40,628.50" fill="none" stroke="#ff0000" stroke-width="1.3" stroke-linejoin="round" clip-path="url(#cf)"/>
<path d="M407.90,664.15 L414.32,667.80 L428.96,686.49 L450.89,717.63 L458.24,713.97 L465.02,702.59 L479.66,709.25 L487.53,714.83 L501.66,730.94 L515.51,767.45 L522.87,766.38 L531.38,789.36 L543.50,805.25 L552.15,814.05 L559.36,780.98 L566.58,727.29 L573.79,712.69 L588.57,630.00 L589.65,628.50 L696.40,628.50" fill="none" stroke="#0000ff" stroke-width="1.3" stroke-linejoin="round" clip-path="url(#cf)"/>
<path d="M407.90,639.88 L414.32,664.15 L440.00,698.51 L451.54,718.05 L458.03,727.50 L465.53,716.55 L472.02,715.05 L480.02,702.59 L500.00,730.08 L515.51,761.44 L537.44,811.05 L544.72,817.27 L552.15,820.71 L566.58,826.51 L573.79,826.94 L588.57,819.64 L596.15,754.13 L603.36,727.29 L610.57,719.99 L617.78,643.32 L623.91,628.50 L696.40,628.50" fill="none" stroke="#008000" stroke-width="1.3" stroke-linejoin="round" clip-path="url(#cf)"/>
<path d="M407.90,689.71 L414.32,666.83 L415.23,667.90 L416.14,668.97 L417.05,670.02 L417.97,671.04 L418.88,672.01 L419.79,672.94 L420.70,673.81 L421.61,674.61 L422.52,675.33 L423.44,675.96 L424.35,676.49 L425.26,676.91 L426.17,677.21 L427.08,677.38 L427.99,677.41 L428.91,677.29 L429.82,677.02 L430.73,676.62 L431.64,676.12 L432.55,675.54 L433.46,674.92 L434.38,674.30 L435.29,673.69 L436.20,673.13 L437.11,672.65 L438.02,672.25 L438.93,671.93 L439.84,671.69 L440.76,671.52 L441.67,671.42 L442.58,671.39 L443.49,671.43 L444.40,671.54 L445.31,671.71 L446.23,671.94 L447.14,672.23 L448.05,672.58 L448.96,672.99 L449.87,673.45 L450.78,673.97 L451.70,674.54 L452.61,675.17 L453.52,675.85 L454.43,676.57 L455.34,677.34 L456.25,678.16 L457.17,679.03 L458.08,679.93 L458.99,680.88 L459.90,681.86 L460.81,682.87 L461.72,683.90 L462.64,684.94 L463.55,685.99 L464.46,687.03 L465.37,688.06 L466.28,689.07 L467.19,690.05 L468.11,691.01 L469.02,691.93 L469.93,692.83 L470.84,693.71 L471.75,694.56 L472.66,695.40 L473.58,696.23 L474.49,697.04 L475.40,697.85 L476.31,698.65 L477.22,699.45 L478.13,700.26 L479.05,701.06 L479.96,701.88 L480.87,702.70 L481.78,703.54 L482.69,704.40 L483.60,705.28 L484.51,706.18 L485.43,707.12 L486.34,708.09 L487.25,709.11 L488.16,710.16 L489.07,711.26 L489.98,712.42 L490.90,713.63 L491.81,714.90 L492.72,716.23 L493.63,717.62 L494.54,719.06 L495.45,720.55 L496.37,722.06 L497.28,723.61 L498.19,725.17 L499.10,726.74 L500.01,728.32 L500.92,729.89 L501.84,731.45 L502.75,732.98 L503.66,734.51 L504.57,736.05 L505.48,737.61 L506.39,739.21 L507.31,740.87 L508.22,742.61 L509.13,744.44 L510.04,746.38 L510.95,748.45 L511.86,750.62 L512.78,752.87 L513.69,755.19 L514.60,757.55 L515.51,759.94 L522.87,786.78 L531.38,800.09 L538.45,804.82 L544.72,806.11 L552.15,803.31 L559.36,785.92 L565.85,720.20 L573.79,705.60 L588.57,628.93 L588.93,628.50 L696.40,628.50" fill="none" stroke="#000000" stroke-width="1.3" stroke-linejoin="round" clip-path="url(#cf)"/>
<path d="M407.90,637.95V656.42M405.30,637.95H410.50M405.30,656.42H410.50" stroke="#008000" stroke-width="1.1" fill="none" clip-path="url(#cf)"/>
<ellipse cx="472.81" cy="833.38" rx="3.75" ry="4.1" fill="#ff0000" clip-path="url(#cf)"/>
<ellipse cx="581.00" cy="831.45" rx="3.75" ry="4.1" fill="#ff0000" clip-path="url(#cf)"/>
<ellipse cx="653.12" cy="670.59" rx="3.75" ry="4.1" fill="#ff0000" clip-path="url(#cf)"/>
<rect x="403.90" y="661.22" width="8.0" height="8.0" fill="#0000ff" clip-path="url(#cf)"/>
<rect x="468.81" y="818.86" width="8.0" height="8.0" fill="#0000ff" clip-path="url(#cf)"/>
<rect x="569.07" y="817.14" width="8.0" height="8.0" fill="#0000ff" clip-path="url(#cf)"/>
<rect x="576.28" y="817.78" width="8.0" height="8.0" fill="#0000ff" clip-path="url(#cf)"/>
<rect x="663.55" y="663.16" width="8.0" height="8.0" fill="#0000ff" clip-path="url(#cf)"/>
<path d="M404.50,643.78L411.30,650.58M404.50,650.58L411.30,643.78" stroke="#008000" stroke-width="1.1" fill="none" clip-path="url(#cf)"/>
<path d="M469.41,797.55L476.21,804.35M469.41,804.35L476.21,797.55" stroke="#008000" stroke-width="1.1" fill="none" clip-path="url(#cf)"/>
<path d="M565.34,787.46L572.14,794.26M565.34,794.26L572.14,787.46" stroke="#008000" stroke-width="1.1" fill="none" clip-path="url(#cf)"/>
<path d="M407.90,707.36L411.25,712.26L407.90,717.16L404.55,712.26Z" fill="#000000" clip-path="url(#cf)"/>
<path d="M468.48,752.24L471.83,757.14L468.48,762.04L465.13,757.14Z" fill="#000000" clip-path="url(#cf)"/>
<path d="M479.66,752.89L483.01,757.79L479.66,762.69L476.31,757.79Z" fill="#000000" clip-path="url(#cf)"/>
<path d="M515.51,751.81L518.86,756.71L515.51,761.61L512.16,756.71Z" fill="#000000" clip-path="url(#cf)"/>
<path d="M566.58,753.96L569.93,758.86L566.58,763.76L563.23,758.86Z" fill="#000000" clip-path="url(#cf)"/>
<path d="M581.00,750.74L584.35,755.64L581.00,760.54L577.65,755.64Z" fill="#000000" clip-path="url(#cf)"/>
<path d="M647.36,674.07L650.71,678.97L647.36,683.87L644.00,678.97Z" fill="#000000" clip-path="url(#cf)"/>
<path d="M653.12,675.57L656.48,680.47L653.12,685.37L649.77,680.47Z" fill="#000000" clip-path="url(#cf)"/>
<ellipse cx="630.80" cy="745.50" rx="3.75" ry="4.1" fill="#ff0000"/>
<text text-rendering="geometricPrecision" transform="translate(645.10,748.40) scale(1.0,1.1)" text-anchor="start" font-size="8" font-family="Liberation Serif, serif" fill="#1a1a1a" stroke="#1a1a1a" stroke-width="0.18">data 5%</text>
<line x1="622.3" y1="757.77" x2="639.3" y2="757.77" stroke="#ff0000" stroke-width="1.3"/>
<text text-rendering="geometricPrecision" transform="translate(645.10,760.67) scale(1.0,1.1)" text-anchor="start" font-size="8" font-family="Liberation Serif, serif" fill="#1a1a1a" stroke="#1a1a1a" stroke-width="0.18">estimate 5%</text>
<rect x="626.80" y="766.04" width="8.0" height="8.0" fill="#0000ff"/>
<text text-rendering="geometricPrecision" transform="translate(645.10,772.94) scale(1.0,1.1)" text-anchor="start" font-size="8" font-family="Liberation Serif, serif" fill="#1a1a1a" stroke="#1a1a1a" stroke-width="0.18">data 10%</text>
<line x1="622.3" y1="782.31" x2="639.3" y2="782.31" stroke="#0000ff" stroke-width="1.3"/>
<text text-rendering="geometricPrecision" transform="translate(645.10,785.21) scale(1.0,1.1)" text-anchor="start" font-size="8" font-family="Liberation Serif, serif" fill="#1a1a1a" stroke="#1a1a1a" stroke-width="0.18">estimate 10%</text>
<path d="M627.40,791.18L634.20,797.98M627.40,797.98L634.20,791.18" stroke="#008000" stroke-width="1.1" fill="none"/>
<text text-rendering="geometricPrecision" transform="translate(645.10,797.48) scale(1.0,1.1)" text-anchor="start" font-size="8" font-family="Liberation Serif, serif" fill="#1a1a1a" stroke="#1a1a1a" stroke-width="0.18">data 20%</text>
<line x1="622.3" y1="806.85" x2="639.3" y2="806.85" stroke="#008000" stroke-width="1.3"/>
<text text-rendering="geometricPrecision" transform="translate(645.10,809.75) scale(1.0,1.1)" text-anchor="start" font-size="8" font-family="Liberation Serif, serif" fill="#1a1a1a" stroke="#1a1a1a" stroke-width="0.18">estimate 20%</text>
<path d="M630.80,814.22L634.15,819.12L630.80,824.02L627.45,819.12Z" fill="#000000"/>
<text text-rendering="geometricPrecision" transform="translate(645.10,822.02) scale(1.0,1.1)" text-anchor="start" font-size="8" font-family="Liberation Serif, serif" fill="#1a1a1a" stroke="#1a1a1a" stroke-width="0.18">data 40%</text>
<line x1="622.3" y1="831.39" x2="639.3" y2="831.39" stroke="#000000" stroke-width="1.3"/>
<text text-rendering="geometricPrecision" transform="translate(645.10,834.29) scale(1.0,1.1)" text-anchor="start" font-size="8" font-family="Liberation Serif, serif" fill="#1a1a1a" stroke="#1a1a1a" stroke-width="0.18">estimate 40%</text>
<rect x="407.9" y="628.5" width="288.50" height="214.76" fill="none" stroke="#6e6e6e" stroke-width="1.2"/>
<line x1="407.90" y1="843.26" x2="407.90" y2="846.56" stroke="#6e6e6e" stroke-width="1.2"/>
<text text-rendering="geometricPrecision" transform="translate(407.90,854.86) scale(0.92,1.1)" text-anchor="middle" font-size="8" font-family="Liberation Serif, serif" fill="#1a1a1a" stroke="#1a1a1a" stroke-width="0.18">0</text>
<line x1="443.96" y1="843.26" x2="443.96" y2="846.56" stroke="#6e6e6e" stroke-width="1.2"/>
<text text-rendering="geometricPrecision" transform="translate(443.96,854.86) scale(0.92,1.1)" text-anchor="middle" font-size="8" font-family="Liberation Serif, serif" fill="#1a1a1a" stroke="#1a1a1a" stroke-width="0.18">5</text>
<line x1="480.02" y1="843.26" x2="480.02" y2="846.56" stroke="#6e6e6e" stroke-width="1.2"/>
<text text-rendering="geometricPrecision" transform="translate(480.02,854.86) scale(0.92,1.1)" text-anchor="middle" font-size="8" font-family="Liberation Serif, serif" fill="#1a1a1a" stroke="#1a1a1a" stroke-width="0.18">10</text>
<line x1="516.09" y1="843.26" x2="516.09" y2="846.56" stroke="#6e6e6e" stroke-width="1.2"/>
<text text-rendering="geometricPrecision" transform="translate(516.09,854.86) scale(0.92,1.1)" text-anchor="middle" font-size="8" font-family="Liberation Serif, serif" fill="#1a1a1a" stroke="#1a1a1a" stroke-width="0.18">15</text>
<line x1="552.15" y1="843.26" x2="552.15" y2="846.56" stroke="#6e6e6e" stroke-width="1.2"/>
<text text-rendering="geometricPrecision" transform="translate(552.15,854.86) scale(0.92,1.1)" text-anchor="middle" font-size="8" font-family="Liberation Serif, serif" fill="#1a1a1a" stroke="#1a1a1a" stroke-width="0.18">20</text>
<line x1="588.21" y1="843.26" x2="588.21" y2="846.56" stroke="#6e6e6e" stroke-width="1.2"/>
<text text-rendering="geometricPrecision" transform="translate(588.21,854.86) scale(0.92,1.1)" text-anchor="middle" font-size="8" font-family="Liberation Serif, serif" fill="#1a1a1a" stroke="#1a1a1a" stroke-width="0.18">25</text>
<line x1="624.27" y1="843.26" x2="624.27" y2="846.56" stroke="#6e6e6e" stroke-width="1.2"/>
<text text-rendering="geometricPrecision" transform="translate(624.27,854.86) scale(0.92,1.1)" text-anchor="middle" font-size="8" font-family="Liberation Serif, serif" fill="#1a1a1a" stroke="#1a1a1a" stroke-width="0.18">30</text>
<line x1="660.34" y1="843.26" x2="660.34" y2="846.56" stroke="#6e6e6e" stroke-width="1.2"/>
<text text-rendering="geometricPrecision" transform="translate(660.34,854.86) scale(0.92,1.1)" text-anchor="middle" font-size="8" font-family="Liberation Serif, serif" fill="#1a1a1a" stroke="#1a1a1a" stroke-width="0.18">35</text>
<line x1="696.40" y1="843.26" x2="696.40" y2="846.56" stroke="#6e6e6e" stroke-width="1.2"/>
<text text-rendering="geometricPrecision" transform="translate(696.40,854.86) scale(0.92,1.1)" text-anchor="middle" font-size="8" font-family="Liberation Serif, serif" fill="#1a1a1a" stroke="#1a1a1a" stroke-width="0.18">40</text>
<line x1="404.50" y1="843.26" x2="407.9" y2="843.26" stroke="#6e6e6e" stroke-width="1.2"/>
<text text-rendering="geometricPrecision" transform="translate(401.10,846.16) scale(0.9,1.1)" text-anchor="end" font-size="8" font-family="Liberation Serif, serif" fill="#1a1a1a" stroke="#1a1a1a" stroke-width="0.18">0</text>
<line x1="404.50" y1="800.31" x2="407.9" y2="800.31" stroke="#6e6e6e" stroke-width="1.2"/>
<text text-rendering="geometricPrecision" transform="translate(401.10,803.21) scale(0.9,1.1)" text-anchor="end" font-size="8" font-family="Liberation Serif, serif" fill="#1a1a1a" stroke="#1a1a1a" stroke-width="0.18">20</text>
<line x1="404.50" y1="757.36" x2="407.9" y2="757.36" stroke="#6e6e6e" stroke-width="1.2"/>
<text text-rendering="geometricPrecision" transform="translate(401.10,760.26) scale(0.9,1.1)" text-anchor="end" font-size="8" font-family="Liberation Serif, serif" fill="#1a1a1a" stroke="#1a1a1a" stroke-width="0.18">40</text>
<line x1="404.50" y1="714.40" x2="407.9" y2="714.40" stroke="#6e6e6e" stroke-width="1.2"/>
<text text-rendering="geometricPrecision" transform="translate(401.10,717.30) scale(0.9,1.1)" text-anchor="end" font-size="8" font-family="Liberation Serif, serif" fill="#1a1a1a" stroke="#1a1a1a" stroke-width="0.18">60</text>
<line x1="404.50" y1="671.45" x2="407.9" y2="671.45" stroke="#6e6e6e" stroke-width="1.2"/>
<text text-rendering="geometricPrecision" transform="translate(401.10,674.35) scale(0.9,1.1)" text-anchor="end" font-size="8" font-family="Liberation Serif, serif" fill="#1a1a1a" stroke="#1a1a1a" stroke-width="0.18">80</text>
<line x1="404.50" y1="628.50" x2="407.9" y2="628.50" stroke="#6e6e6e" stroke-width="1.2"/>
<text text-rendering="geometricPrecision" transform="translate(401.10,631.40) scale(0.9,1.1)" text-anchor="end" font-size="8" font-family="Liberation Serif, serif" fill="#1a1a1a" stroke="#1a1a1a" stroke-width="0.18">100</text>
<text text-rendering="geometricPrecision" transform="translate(552.15,866.40) scale(1.0,1.1)" text-anchor="middle" font-size="8" font-family="Liberation Serif, serif" fill="#1a1a1a" stroke="#1a1a1a" stroke-width="0.18">Time (h)</text>
<text text-rendering="geometricPrecision" transform="translate(383.20,732.50) rotate(-90) scale(1.0,1.1)" text-anchor="middle" font-size="8.4" font-family="Liberation Serif, serif" fill="#1a1a1a" stroke="#1a1a1a" stroke-width="0.18">% pO<tspan font-size="5.8" dy="1.0">2</tspan></text>
<text text-rendering="geometricPrecision" transform="translate(546.60,900.60) scale(1.0,1.1)" text-anchor="middle" font-size="18.3" font-family="Liberation Serif, serif" fill="#2a2a2a">(f)</text>
<line x1="585.33" y1="628.4" x2="696.4" y2="628.4" stroke="#000" stroke-width="1.3"/>
</svg></body></html>
